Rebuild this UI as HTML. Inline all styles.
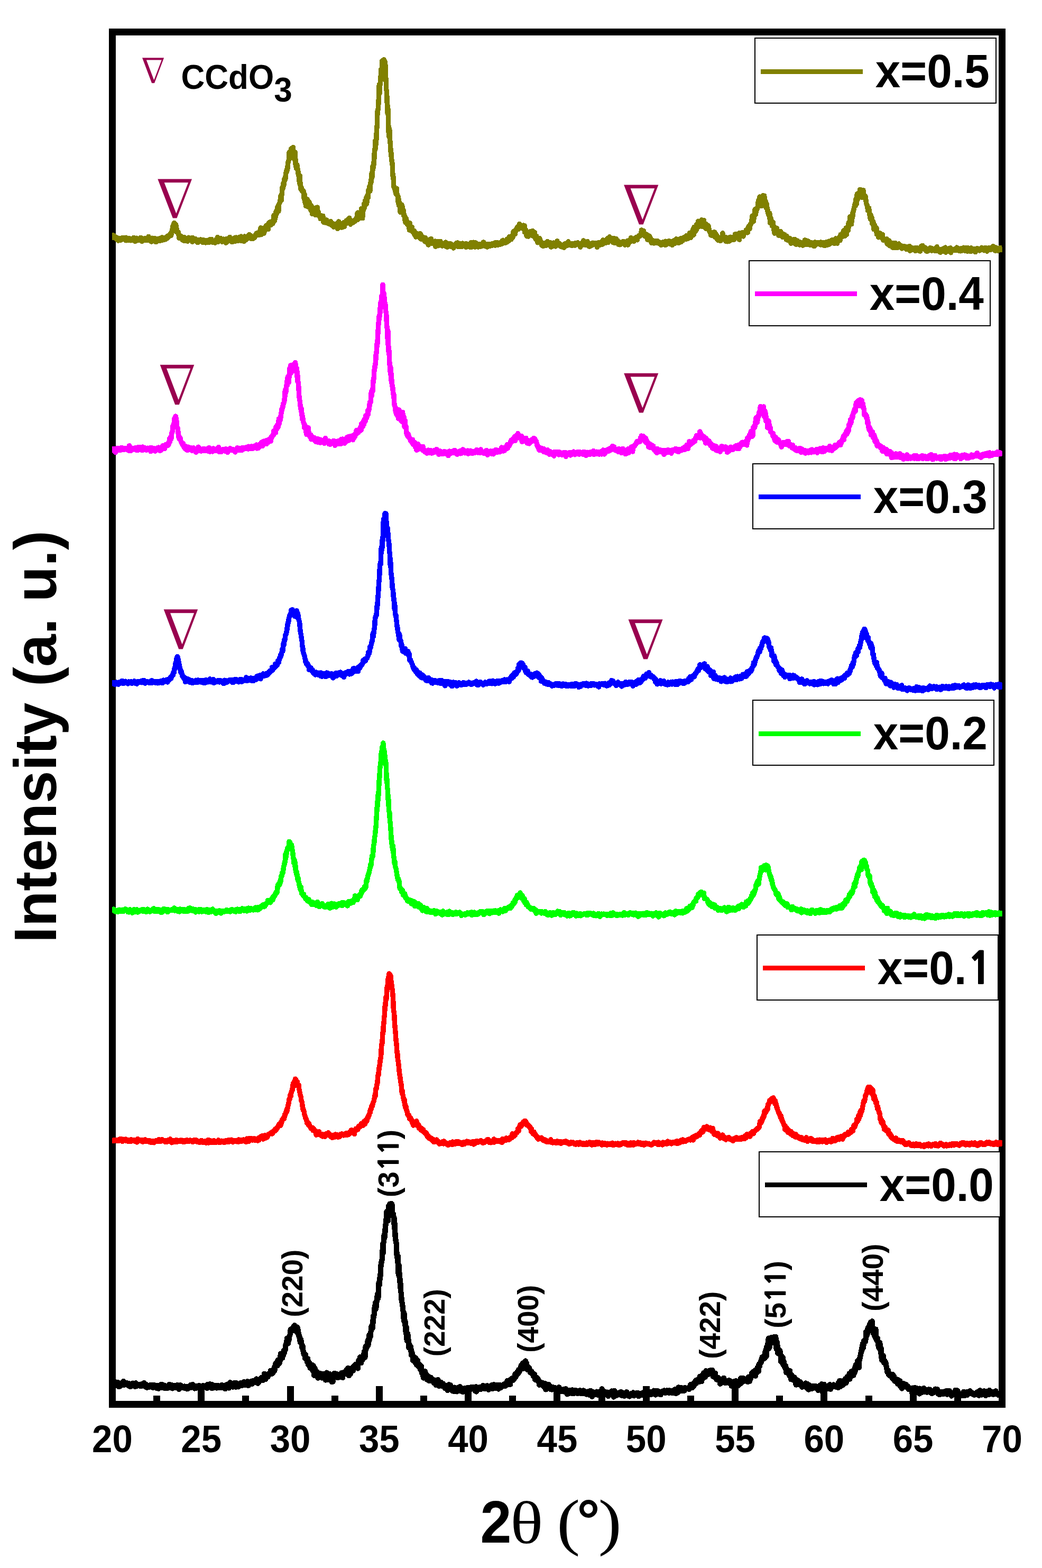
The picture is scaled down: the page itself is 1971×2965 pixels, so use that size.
<!DOCTYPE html>
<html lang="en"><head><meta charset="utf-8"><title>XRD patterns</title>
<style>html,body{margin:0;padding:0;background:#fff}body{width:1971px;height:2965px;overflow:hidden}svg{display:block}text{font-kerning:none}.sb{font-family:"Liberation Sans",sans-serif;font-weight:bold;fill:#000}.n1{font-family:"NanumGothic","Liberation Sans",sans-serif;font-weight:800}.sr{font-family:"Liberation Serif",serif;fill:#000}.nb{font-family:"DejaVu Math TeX Gyre","DejaVu Serif",serif;fill:#99004f}</style></head><body>
<svg width="1971" height="2965" viewBox="0 0 1971 2965">
<rect x="0" y="0" width="1971" height="2965" fill="#fff"/>
<g shape-rendering="crispEdges">
<rect x="212.5" y="60.5" width="1683.0" height="2595.0" fill="none" stroke="#000" stroke-width="13.0"/>
<rect x="290.1" y="2638.5" width="13" height="11.5" fill="#000"/>
<rect x="374.2" y="2621.0" width="13" height="29.0" fill="#000"/>
<rect x="458.4" y="2638.5" width="13" height="11.5" fill="#000"/>
<rect x="542.5" y="2621.0" width="13" height="29.0" fill="#000"/>
<rect x="626.6" y="2638.5" width="13" height="11.5" fill="#000"/>
<rect x="710.8" y="2621.0" width="13" height="29.0" fill="#000"/>
<rect x="794.9" y="2638.5" width="13" height="11.5" fill="#000"/>
<rect x="879.1" y="2621.0" width="13" height="29.0" fill="#000"/>
<rect x="963.2" y="2638.5" width="13" height="11.5" fill="#000"/>
<rect x="1047.4" y="2621.0" width="13" height="29.0" fill="#000"/>
<rect x="1131.5" y="2638.5" width="13" height="11.5" fill="#000"/>
<rect x="1215.7" y="2621.0" width="13" height="29.0" fill="#000"/>
<rect x="1299.8" y="2638.5" width="13" height="11.5" fill="#000"/>
<rect x="1384.0" y="2621.0" width="13" height="29.0" fill="#000"/>
<rect x="1468.1" y="2638.5" width="13" height="11.5" fill="#000"/>
<rect x="1552.3" y="2621.0" width="13" height="29.0" fill="#000"/>
<rect x="1636.5" y="2638.5" width="13" height="11.5" fill="#000"/>
<rect x="1720.6" y="2621.0" width="13" height="29.0" fill="#000"/>
<rect x="1804.8" y="2638.5" width="13" height="11.5" fill="#000"/>
</g>
<clipPath id="cc"><rect x="212" y="60" width="1683.8" height="2600"/></clipPath>
<g clip-path="url(#cc)">
<path d="M212.4 453.1L213.1 449.2L213.7 448.8L214.4 444.8L215.1 449.7L215.8 449.0L216.4 448.5L217.1 450.0L217.8 450.3L218.5 447.8L219.1 448.7L219.8 450.1L220.5 452.9L221.2 453.1L221.8 449.9L222.5 450.3L223.2 453.6L223.8 455.0L224.5 451.8L225.2 450.4L225.9 453.7L226.5 451.2L227.2 453.1L227.9 454.6L228.6 452.8L229.2 451.6L229.9 452.6L230.6 449.9L231.2 450.6L231.9 449.7L232.6 450.3L233.3 449.6L233.9 450.1L234.6 449.7L235.3 450.6L236.0 450.8L236.6 451.7L237.3 454.3L238.0 449.2L238.7 454.8L239.3 452.2L240.0 450.4L240.7 452.4L241.3 452.9L242.0 454.7L242.7 450.9L243.4 453.5L244.0 453.5L244.7 450.3L245.4 451.2L246.1 454.3L246.7 454.3L247.4 454.8L248.1 453.6L248.8 453.2L249.4 452.6L250.1 454.7L250.8 450.8L251.4 452.2L252.1 453.1L252.8 449.3L253.5 454.7L254.1 450.8L254.8 452.2L255.5 456.5L256.2 450.9L256.8 451.5L257.5 455.3L258.2 450.2L258.9 451.2L259.5 452.8L260.2 452.5L260.9 452.6L261.5 452.2L262.2 454.1L262.9 453.7L263.6 453.2L264.2 451.1L264.9 451.3L265.6 449.3L266.3 454.4L266.9 449.7L267.6 454.9L268.3 456.7L268.9 451.3L269.6 452.0L270.3 452.4L271.0 454.7L271.6 451.4L272.3 452.5L273.0 451.5L273.7 451.8L274.3 454.6L275.0 450.4L275.7 452.4L276.4 452.9L277.0 454.2L277.7 450.1L278.4 454.5L279.0 452.8L279.7 453.2L280.4 451.1L281.1 447.4L281.7 449.0L282.4 451.7L283.1 450.3L283.8 450.4L284.4 454.6L285.1 456.2L285.8 452.7L286.5 457.2L287.1 450.2L287.8 450.3L288.5 455.8L289.1 453.2L289.8 454.4L290.5 453.8L291.2 452.5L291.8 454.1L292.5 453.4L293.2 450.7L293.9 454.4L294.5 454.6L295.2 457.7L295.9 451.7L296.6 453.4L297.2 452.0L297.9 452.1L298.6 455.4L299.2 452.9L299.9 451.4L300.6 452.7L301.3 454.0L301.9 450.6L302.6 452.0L303.3 455.4L304.0 453.9L304.6 452.0L305.3 451.0L306.0 451.7L306.6 448.9L307.3 454.0L308.0 452.9L308.7 452.6L309.3 449.7L310.0 450.8L310.7 453.2L311.4 452.4L312.0 450.4L312.7 452.1L313.4 452.6L314.1 448.9L314.7 448.9L315.4 447.8L316.1 446.9L316.7 450.7L317.4 449.7L318.1 448.9L318.8 445.2L319.4 444.9L320.1 446.6L320.8 445.1L321.5 445.5L322.1 442.4L322.8 444.2L323.5 445.4L324.2 442.8L324.8 440.8L325.5 434.3L326.2 434.4L326.8 428.3L327.5 430.2L328.2 424.4L328.9 422.7L329.5 421.6L330.2 426.2L330.9 425.6L331.6 426.8L332.2 424.4L332.9 430.6L333.6 428.0L334.2 438.7L334.9 436.1L335.6 439.1L336.3 440.3L336.9 438.5L337.6 440.8L338.3 445.7L339.0 450.5L339.6 445.5L340.3 447.2L341.0 449.3L341.7 446.0L342.3 446.2L343.0 449.3L343.7 450.2L344.3 449.7L345.0 453.9L345.7 450.5L346.4 451.9L347.0 454.7L347.7 455.3L348.4 448.8L349.1 451.7L349.7 455.2L350.4 450.2L351.1 451.3L351.8 450.5L352.4 450.4L353.1 450.8L353.8 453.4L354.4 455.6L355.1 456.1L355.8 453.1L356.5 449.2L357.1 453.1L357.8 452.7L358.5 454.2L359.2 453.4L359.8 450.3L360.5 454.9L361.2 450.2L361.9 453.0L362.5 455.0L363.2 455.0L363.9 457.3L364.5 449.5L365.2 454.8L365.9 455.4L366.6 453.3L367.2 455.2L367.9 451.7L368.6 455.1L369.3 454.8L369.9 451.8L370.6 452.5L371.3 453.8L371.9 453.3L372.6 457.3L373.3 456.1L374.0 458.6L374.6 458.5L375.3 456.2L376.0 455.5L376.7 453.6L377.3 453.5L378.0 453.3L378.7 455.4L379.4 452.9L380.0 455.0L380.7 455.3L381.4 454.0L382.0 454.6L382.7 457.9L383.4 458.2L384.1 453.5L384.7 454.7L385.4 454.3L386.1 454.6L386.8 458.2L387.4 456.6L388.1 457.8L388.8 458.9L389.5 454.5L390.1 455.0L390.8 455.5L391.5 457.6L392.1 455.5L392.8 457.2L393.5 458.5L394.2 458.6L394.8 457.2L395.5 454.7L396.2 453.0L396.9 458.0L397.5 456.4L398.2 453.3L398.9 454.2L399.5 454.5L400.2 452.4L400.9 456.7L401.6 455.0L402.2 456.4L402.9 458.7L403.6 457.0L404.3 458.0L404.9 457.4L405.6 456.1L406.3 455.8L407.0 459.1L407.6 454.7L408.3 458.0L409.0 452.5L409.6 455.5L410.3 454.2L411.0 452.4L411.7 448.6L412.3 457.6L413.0 452.2L413.7 452.8L414.4 455.1L415.0 454.8L415.7 454.9L416.4 453.4L417.1 450.5L417.7 455.2L418.4 451.7L419.1 454.3L419.7 455.6L420.4 457.3L421.1 454.7L421.8 454.9L422.4 455.2L423.1 452.0L423.8 454.3L424.5 453.9L425.1 453.6L425.8 456.4L426.5 455.4L427.2 459.3L427.8 458.9L428.5 451.6L429.2 455.5L429.8 452.8L430.5 455.8L431.2 454.6L431.9 456.0L432.5 454.5L433.2 455.3L433.9 453.0L434.6 448.3L435.2 451.2L435.9 451.9L436.6 452.7L437.2 451.6L437.9 457.1L438.6 453.1L439.3 456.1L439.9 452.6L440.6 456.9L441.3 450.9L442.0 454.8L442.6 450.6L443.3 454.3L444.0 456.5L444.7 449.2L445.3 450.6L446.0 452.8L446.7 451.7L447.3 449.1L448.0 454.8L448.7 452.7L449.4 455.6L450.0 453.5L450.7 450.2L451.4 451.3L452.1 455.0L452.7 448.3L453.4 449.8L454.1 451.7L454.8 452.3L455.4 451.9L456.1 447.1L456.8 455.6L457.4 451.2L458.1 452.3L458.8 452.9L459.5 452.8L460.1 451.4L460.8 452.8L461.5 456.4L462.2 449.9L462.8 446.9L463.5 453.1L464.2 452.0L464.9 452.1L465.5 453.8L466.2 447.5L466.9 449.1L467.5 449.6L468.2 451.0L468.9 450.4L469.6 446.0L470.2 444.6L470.9 447.0L471.6 443.7L472.3 450.0L472.9 446.4L473.6 446.6L474.3 445.4L474.9 451.4L475.6 448.5L476.3 446.9L477.0 449.5L477.6 447.8L478.3 449.4L479.0 451.1L479.7 447.1L480.3 448.9L481.0 448.5L481.7 449.7L482.4 447.8L483.0 445.7L483.7 443.3L484.4 445.0L485.0 441.1L485.7 445.0L486.4 443.2L487.1 444.2L487.7 441.2L488.4 440.1L489.1 439.5L489.8 444.5L490.4 440.6L491.1 440.2L491.8 435.8L492.5 440.2L493.1 430.9L493.8 443.8L494.5 439.4L495.1 440.0L495.8 436.0L496.5 436.7L497.2 441.1L497.8 438.4L498.5 439.7L499.2 441.4L499.9 439.0L500.5 430.9L501.2 432.7L501.9 431.5L502.5 431.3L503.2 427.0L503.9 426.4L504.6 429.6L505.2 429.5L505.9 432.3L506.6 429.0L507.3 433.4L507.9 422.2L508.6 422.3L509.3 426.2L510.0 423.3L510.6 419.9L511.3 424.7L512.0 425.2L512.6 425.7L513.3 419.9L514.0 421.0L514.7 421.4L515.3 420.3L516.0 422.8L516.7 416.4L517.4 418.0L518.0 407.1L518.7 416.1L519.4 417.9L520.1 410.5L520.7 413.3L521.4 401.7L522.1 405.3L522.7 398.9L523.4 404.1L524.1 402.5L524.8 392.1L525.4 391.2L526.1 389.4L526.8 399.4L527.5 386.6L528.1 385.3L528.8 384.3L529.5 382.1L530.2 377.8L530.8 370.6L531.5 370.9L532.2 378.9L532.8 369.2L533.5 362.6L534.2 354.0L534.9 356.6L535.5 353.2L536.2 346.0L536.9 350.5L537.6 339.3L538.2 338.4L538.9 341.0L539.6 334.9L540.2 337.4L540.9 327.1L541.6 323.2L542.3 325.2L542.9 320.0L543.6 321.8L544.3 313.0L545.0 306.1L545.6 304.9L546.3 302.5L547.0 288.2L547.7 291.8L548.3 288.6L549.0 297.0L549.7 285.6L550.3 295.4L551.0 280.8L551.7 289.1L552.4 297.0L553.0 289.1L553.7 298.5L554.4 278.7L555.1 292.3L555.7 294.1L556.4 293.7L557.1 287.2L557.8 303.4L558.4 288.2L559.1 311.6L559.8 311.1L560.4 318.6L561.1 314.1L561.8 311.5L562.5 317.1L563.1 319.5L563.8 328.0L564.5 325.8L565.2 333.3L565.8 337.6L566.5 346.9L567.2 332.7L567.8 345.3L568.5 354.8L569.2 357.8L569.9 353.7L570.5 357.0L571.2 359.4L571.9 362.0L572.6 360.1L573.2 361.3L573.9 360.8L574.6 366.2L575.3 376.5L575.9 367.3L576.6 378.1L577.3 384.4L577.9 378.1L578.6 389.4L579.3 379.4L580.0 388.4L580.6 381.5L581.3 376.9L582.0 384.2L582.7 391.3L583.3 381.2L584.0 386.7L584.7 381.7L585.4 383.8L586.0 391.1L586.7 389.9L587.4 394.3L588.0 398.1L588.7 388.8L589.4 391.6L590.1 395.0L590.7 404.5L591.4 394.0L592.1 393.5L592.8 397.3L593.4 404.0L594.1 393.6L594.8 395.1L595.5 397.0L596.1 400.4L596.8 406.6L597.5 393.9L598.1 392.8L598.8 400.2L599.5 402.1L600.2 392.1L600.8 398.9L601.5 405.5L602.2 401.0L602.9 406.1L603.5 406.2L604.2 409.2L604.9 409.5L605.5 409.7L606.2 413.7L606.9 407.5L607.6 410.1L608.2 413.8L608.9 408.1L609.6 409.1L610.3 408.4L610.9 408.5L611.6 419.4L612.3 415.1L613.0 420.8L613.6 417.8L614.3 416.2L615.0 415.6L615.6 418.0L616.3 417.5L617.0 421.1L617.7 415.9L618.3 419.8L619.0 421.3L619.7 419.6L620.4 420.1L621.0 422.8L621.7 423.0L622.4 421.1L623.1 421.6L623.7 420.3L624.4 424.1L625.1 422.4L625.7 418.4L626.4 422.7L627.1 426.0L627.8 425.4L628.4 422.0L629.1 427.0L629.8 426.6L630.5 426.5L631.1 429.2L631.8 423.6L632.5 426.6L633.2 424.2L633.8 428.1L634.5 428.8L635.2 426.9L635.8 427.6L636.5 423.0L637.2 427.2L637.9 422.0L638.5 432.3L639.2 429.7L639.9 422.1L640.6 418.9L641.2 430.6L641.9 424.0L642.6 427.9L643.2 422.1L643.9 426.0L644.6 423.7L645.3 427.4L645.9 424.7L646.6 430.1L647.3 423.5L648.0 429.7L648.6 425.9L649.3 427.5L650.0 421.2L650.7 420.4L651.3 428.4L652.0 421.0L652.7 423.1L653.3 422.5L654.0 420.0L654.7 422.5L655.4 416.8L656.0 416.6L656.7 422.0L657.4 415.7L658.1 419.6L658.7 418.8L659.4 421.3L660.1 418.4L660.8 412.2L661.4 416.8L662.1 418.4L662.8 424.1L663.4 421.4L664.1 418.4L664.8 420.7L665.5 417.5L666.1 419.9L666.8 418.2L667.5 421.0L668.2 418.4L668.8 420.6L669.5 417.3L670.2 419.5L670.8 416.4L671.5 418.6L672.2 416.8L672.9 415.0L673.5 413.4L674.2 413.1L674.9 414.9L675.6 404.3L676.2 415.6L676.9 402.1L677.6 408.8L678.3 407.5L678.9 410.5L679.6 407.9L680.3 406.1L680.9 405.8L681.6 408.2L682.3 412.7L683.0 404.6L683.6 394.7L684.3 400.1L685.0 402.4L685.7 412.7L686.3 395.4L687.0 395.3L687.7 397.1L688.4 394.0L689.0 384.8L689.7 391.8L690.4 379.8L691.0 382.1L691.7 387.2L692.4 374.1L693.1 377.0L693.7 384.7L694.4 374.6L695.1 369.2L695.8 369.2L696.4 373.6L697.1 359.3L697.8 360.9L698.5 353.7L699.1 352.1L699.8 361.5L700.5 351.0L701.1 345.3L701.8 345.6L702.5 334.8L703.2 327.2L703.8 335.5L704.5 328.8L705.2 313.5L705.9 317.3L706.5 316.6L707.2 305.3L707.9 299.8L708.5 282.8L709.2 284.0L709.9 266.1L710.6 279.7L711.2 263.1L711.9 264.8L712.6 239.6L713.3 240.8L713.9 211.1L714.6 208.9L715.3 205.7L716.0 194.3L716.6 181.7L717.3 159.8L718.0 176.2L718.6 162.6L719.3 158.7L720.0 151.0L720.7 131.1L721.3 132.5L722.0 148.9L722.7 115.0L723.4 124.5L724.0 114.7L724.7 135.4L725.4 121.8L726.1 112.7L726.7 120.2L727.4 117.8L728.1 116.2L728.7 119.6L729.4 144.9L730.1 150.0L730.8 169.8L731.4 171.0L732.1 189.8L732.8 212.9L733.5 200.4L734.1 211.1L734.8 238.3L735.5 257.9L736.1 243.0L736.8 245.6L737.5 263.6L738.2 270.7L738.8 286.3L739.5 282.7L740.2 296.3L740.9 304.2L741.5 304.2L742.2 311.6L742.9 330.6L743.6 337.4L744.2 335.3L744.9 353.7L745.6 354.1L746.2 354.6L746.9 358.1L747.6 359.2L748.3 363.5L748.9 366.6L749.6 364.9L750.3 356.6L751.0 369.1L751.6 368.8L752.3 370.2L753.0 382.1L753.7 373.2L754.3 388.2L755.0 383.3L755.7 382.3L756.3 385.3L757.0 401.1L757.7 397.3L758.4 389.2L759.0 395.5L759.7 399.2L760.4 387.8L761.1 391.6L761.7 398.6L762.4 398.2L763.1 397.0L763.8 407.9L764.4 405.1L765.1 408.1L765.8 416.4L766.4 410.2L767.1 420.8L767.8 413.3L768.5 413.7L769.1 417.4L769.8 422.8L770.5 424.4L771.2 425.5L771.8 420.5L772.5 423.4L773.2 427.6L773.8 431.9L774.5 435.0L775.2 421.9L775.9 430.1L776.5 429.3L777.2 430.9L777.9 432.5L778.6 429.7L779.2 429.2L779.9 438.1L780.6 438.5L781.3 436.0L781.9 438.2L782.6 437.6L783.3 436.4L783.9 443.6L784.6 440.1L785.3 439.0L786.0 440.9L786.6 448.0L787.3 444.8L788.0 444.6L788.7 444.6L789.3 447.3L790.0 447.4L790.7 442.2L791.4 445.7L792.0 444.8L792.7 447.4L793.4 446.8L794.0 441.6L794.7 450.6L795.4 448.6L796.1 443.6L796.7 452.2L797.4 450.2L798.1 451.9L798.8 451.5L799.4 452.4L800.1 451.2L800.8 448.6L801.5 451.8L802.1 454.3L802.8 454.4L803.5 456.4L804.1 454.9L804.8 449.8L805.5 457.7L806.2 453.9L806.8 452.7L807.5 455.6L808.2 453.3L808.9 458.1L809.5 455.4L810.2 463.0L810.9 457.8L811.5 457.1L812.2 456.8L812.9 452.8L813.6 455.5L814.2 455.4L814.9 456.2L815.6 451.5L816.3 457.2L816.9 460.6L817.6 456.9L818.3 458.2L819.0 459.7L819.6 456.9L820.3 457.9L821.0 461.4L821.6 459.8L822.3 456.8L823.0 456.0L823.7 466.2L824.3 462.2L825.0 457.7L825.7 461.8L826.4 462.8L827.0 461.2L827.7 456.3L828.4 464.8L829.1 461.9L829.7 460.1L830.4 462.2L831.1 460.2L831.7 460.0L832.4 463.0L833.1 456.5L833.8 463.4L834.4 462.2L835.1 463.1L835.8 463.5L836.5 465.0L837.1 464.8L837.8 463.5L838.5 460.7L839.1 463.3L839.8 460.9L840.5 460.0L841.2 463.4L841.8 463.2L842.5 465.3L843.2 458.1L843.9 464.6L844.5 465.1L845.2 464.2L845.9 467.4L846.6 462.2L847.2 464.8L847.9 462.9L848.6 463.3L849.2 460.8L849.9 462.4L850.6 464.2L851.3 463.0L851.9 463.5L852.6 461.1L853.3 466.4L854.0 461.6L854.6 463.5L855.3 465.1L856.0 463.9L856.7 466.4L857.3 465.5L858.0 469.0L858.7 466.5L859.3 465.9L860.0 462.7L860.7 464.8L861.4 465.3L862.0 463.4L862.7 460.1L863.4 460.7L864.1 461.3L864.7 461.9L865.4 459.0L866.1 466.2L866.8 462.1L867.4 462.6L868.1 461.5L868.8 462.4L869.4 466.5L870.1 460.4L870.8 461.5L871.5 460.6L872.1 462.0L872.8 466.7L873.5 462.4L874.2 463.0L874.8 460.1L875.5 463.1L876.2 464.2L876.8 462.6L877.5 462.6L878.2 465.0L878.9 464.3L879.5 463.1L880.2 461.8L880.9 460.6L881.6 467.5L882.2 460.8L882.9 465.4L883.6 463.6L884.3 462.5L884.9 465.9L885.6 462.4L886.3 466.5L886.9 461.6L887.6 464.6L888.3 466.1L889.0 461.3L889.6 467.6L890.3 465.0L891.0 458.6L891.7 466.2L892.3 467.3L893.0 462.6L893.7 462.5L894.4 463.3L895.0 458.2L895.7 462.2L896.4 463.7L897.0 460.6L897.7 464.3L898.4 466.9L899.1 458.6L899.7 459.3L900.4 462.0L901.1 465.0L901.8 464.6L902.4 461.9L903.1 461.4L903.8 462.1L904.4 467.1L905.1 461.4L905.8 462.0L906.5 465.2L907.1 462.7L907.8 461.3L908.5 466.5L909.2 464.5L909.8 462.4L910.5 463.0L911.2 465.6L911.9 462.6L912.5 463.5L913.2 464.4L913.9 464.2L914.5 458.0L915.2 460.7L915.9 461.2L916.6 462.4L917.2 464.3L917.9 465.6L918.6 462.5L919.3 461.4L919.9 464.1L920.6 462.4L921.3 467.1L922.0 464.0L922.6 463.2L923.3 465.0L924.0 461.4L924.6 462.1L925.3 462.6L926.0 464.4L926.7 465.7L927.3 464.5L928.0 464.4L928.7 462.1L929.4 463.2L930.0 461.8L930.7 464.5L931.4 460.6L932.1 461.7L932.7 462.4L933.4 463.6L934.1 460.3L934.7 461.4L935.4 460.1L936.1 459.0L936.8 464.2L937.4 462.8L938.1 458.4L938.8 459.3L939.5 462.4L940.1 459.6L940.8 458.4L941.5 463.3L942.1 459.5L942.8 459.8L943.5 462.1L944.2 459.5L944.8 461.2L945.5 461.3L946.2 462.2L946.9 458.3L947.5 461.6L948.2 459.1L948.9 461.6L949.6 457.4L950.2 455.4L950.9 455.4L951.6 454.2L952.2 457.1L952.9 457.2L953.6 459.6L954.3 457.7L954.9 455.4L955.6 459.4L956.3 455.4L957.0 456.4L957.6 458.7L958.3 457.7L959.0 452.4L959.7 453.6L960.3 457.1L961.0 456.1L961.7 455.0L962.3 455.8L963.0 447.8L963.7 452.4L964.4 448.9L965.0 450.3L965.7 450.1L966.4 451.5L967.1 452.5L967.7 450.5L968.4 448.2L969.1 445.5L969.8 449.1L970.4 445.0L971.1 437.8L971.8 441.7L972.4 442.2L973.1 436.7L973.8 439.2L974.5 442.4L975.1 436.1L975.8 436.1L976.5 435.6L977.2 431.9L977.8 432.7L978.5 429.8L979.2 431.1L979.8 428.2L980.5 433.2L981.2 428.6L981.9 431.2L982.5 423.4L983.2 427.6L983.9 429.7L984.6 430.2L985.2 425.9L985.9 427.9L986.6 428.9L987.3 427.8L987.9 428.1L988.6 432.1L989.3 427.2L989.9 426.1L990.6 431.3L991.3 434.5L992.0 426.9L992.6 439.3L993.3 436.0L994.0 438.5L994.7 435.0L995.3 438.6L996.0 445.6L996.7 446.8L997.4 444.0L998.0 441.9L998.7 442.7L999.4 447.0L1000.0 440.6L1000.7 439.5L1001.4 441.5L1002.1 444.3L1002.7 437.9L1003.4 442.0L1004.1 441.9L1004.8 441.1L1005.4 440.2L1006.1 443.6L1006.8 442.6L1007.4 436.8L1008.1 446.6L1008.8 443.8L1009.5 444.2L1010.1 443.2L1010.8 444.6L1011.5 439.5L1012.2 447.4L1012.8 451.0L1013.5 452.3L1014.2 449.9L1014.9 446.6L1015.5 450.9L1016.2 453.9L1016.9 458.8L1017.5 452.1L1018.2 456.7L1018.9 458.4L1019.6 458.7L1020.2 457.1L1020.9 450.9L1021.6 459.2L1022.3 458.4L1022.9 459.9L1023.6 457.1L1024.3 458.9L1025.0 464.3L1025.6 461.4L1026.3 462.2L1027.0 461.0L1027.6 465.7L1028.3 459.3L1029.0 461.7L1029.7 463.6L1030.3 462.2L1031.0 463.8L1031.7 462.5L1032.4 464.5L1033.0 460.6L1033.7 460.6L1034.4 461.3L1035.1 456.6L1035.7 463.3L1036.4 458.2L1037.1 462.7L1037.7 463.7L1038.4 463.3L1039.1 462.1L1039.8 460.9L1040.4 458.3L1041.1 464.3L1041.8 462.9L1042.5 467.2L1043.1 463.0L1043.8 465.0L1044.5 462.7L1045.1 464.3L1045.8 462.6L1046.5 462.8L1047.2 459.0L1047.8 461.3L1048.5 462.4L1049.2 465.3L1049.9 463.3L1050.5 460.2L1051.2 465.9L1051.9 463.3L1052.6 464.8L1053.2 460.6L1053.9 455.7L1054.6 460.9L1055.2 460.4L1055.9 463.1L1056.6 459.5L1057.3 460.9L1057.9 460.0L1058.6 463.1L1059.3 461.0L1060.0 465.9L1060.6 465.1L1061.3 465.6L1062.0 463.9L1062.7 465.2L1063.3 466.7L1064.0 463.3L1064.7 467.4L1065.3 464.4L1066.0 466.8L1066.7 468.3L1067.4 466.6L1068.0 461.1L1068.7 465.7L1069.4 462.6L1070.1 462.3L1070.7 462.5L1071.4 460.3L1072.1 462.9L1072.7 460.7L1073.4 464.2L1074.1 462.6L1074.8 456.9L1075.4 460.4L1076.1 460.5L1076.8 461.4L1077.5 461.6L1078.1 463.3L1078.8 462.4L1079.5 460.4L1080.2 463.3L1080.8 464.1L1081.5 462.2L1082.2 464.5L1082.8 462.9L1083.5 460.8L1084.2 461.0L1084.9 461.8L1085.5 462.8L1086.2 462.1L1086.9 463.7L1087.6 464.1L1088.2 459.7L1088.9 459.3L1089.6 461.1L1090.3 461.9L1090.9 462.5L1091.6 461.8L1092.3 461.7L1092.9 458.7L1093.6 461.6L1094.3 460.0L1095.0 462.5L1095.6 463.8L1096.3 460.9L1097.0 461.8L1097.7 467.2L1098.3 460.9L1099.0 461.4L1099.7 460.2L1100.4 459.4L1101.0 463.9L1101.7 460.3L1102.4 460.0L1103.0 459.2L1103.7 454.9L1104.4 461.8L1105.1 459.2L1105.7 460.2L1106.4 463.1L1107.1 460.2L1107.8 460.8L1108.4 461.0L1109.1 463.1L1109.8 457.9L1110.4 459.5L1111.1 456.5L1111.8 461.1L1112.5 462.6L1113.1 460.8L1113.8 465.9L1114.5 464.1L1115.2 466.1L1115.8 462.5L1116.5 465.7L1117.2 460.8L1117.9 462.4L1118.5 461.5L1119.2 460.1L1119.9 464.1L1120.5 463.3L1121.2 459.2L1121.9 462.0L1122.6 460.9L1123.2 461.2L1123.9 462.2L1124.6 460.0L1125.3 461.5L1125.9 461.8L1126.6 460.1L1127.3 460.6L1128.0 463.7L1128.6 462.3L1129.3 467.3L1130.0 467.0L1130.6 461.2L1131.3 463.4L1132.0 458.6L1132.7 461.5L1133.3 461.1L1134.0 461.4L1134.7 458.4L1135.4 463.2L1136.0 462.5L1136.7 459.9L1137.4 460.6L1138.1 461.8L1138.7 462.5L1139.4 455.6L1140.1 461.4L1140.7 453.9L1141.4 455.4L1142.1 456.0L1142.8 460.0L1143.4 457.6L1144.1 457.3L1144.8 459.4L1145.5 456.3L1146.1 454.7L1146.8 459.1L1147.5 455.1L1148.1 452.4L1148.8 451.0L1149.5 455.0L1150.2 458.5L1150.8 455.1L1151.5 452.6L1152.2 454.9L1152.9 447.8L1153.5 452.3L1154.2 449.9L1154.9 455.0L1155.6 450.0L1156.2 454.7L1156.9 453.9L1157.6 454.1L1158.2 456.3L1158.9 454.7L1159.6 458.7L1160.3 454.9L1160.9 450.4L1161.6 459.1L1162.3 458.8L1163.0 456.9L1163.6 459.0L1164.3 457.5L1165.0 454.1L1165.7 451.5L1166.3 454.1L1167.0 456.2L1167.7 458.5L1168.3 454.6L1169.0 456.3L1169.7 462.2L1170.4 457.7L1171.0 457.8L1171.7 457.4L1172.4 462.9L1173.1 460.8L1173.7 460.6L1174.4 461.9L1175.1 460.1L1175.7 460.7L1176.4 458.6L1177.1 459.8L1177.8 459.5L1178.4 460.0L1179.1 456.3L1179.8 458.6L1180.5 458.5L1181.1 458.0L1181.8 459.4L1182.5 463.3L1183.2 461.3L1183.8 459.2L1184.5 459.5L1185.2 461.8L1185.8 456.0L1186.5 459.7L1187.2 462.6L1187.9 463.0L1188.5 461.0L1189.2 460.1L1189.9 454.4L1190.6 456.4L1191.2 457.2L1191.9 457.4L1192.6 456.7L1193.3 449.6L1193.9 452.9L1194.6 454.3L1195.3 451.5L1195.9 452.7L1196.6 454.5L1197.3 454.2L1198.0 454.0L1198.6 455.4L1199.3 456.3L1200.0 452.5L1200.7 450.2L1201.3 450.9L1202.0 451.2L1202.7 452.3L1203.4 448.3L1204.0 449.9L1204.7 450.6L1205.4 453.8L1206.0 450.2L1206.7 447.0L1207.4 448.5L1208.1 445.6L1208.7 445.1L1209.4 447.2L1210.1 445.1L1210.8 444.5L1211.4 445.9L1212.1 441.7L1212.8 442.5L1213.4 434.9L1214.1 438.8L1214.8 443.6L1215.5 437.3L1216.1 438.3L1216.8 437.5L1217.5 436.6L1218.2 442.4L1218.8 442.2L1219.5 446.7L1220.2 441.8L1220.9 445.1L1221.5 444.2L1222.2 443.7L1222.9 448.5L1223.5 443.7L1224.2 444.1L1224.9 453.4L1225.6 446.9L1226.2 447.1L1226.9 449.4L1227.6 446.1L1228.3 450.2L1228.9 447.0L1229.6 449.7L1230.3 450.6L1231.0 456.4L1231.6 455.6L1232.3 459.4L1233.0 459.6L1233.6 454.4L1234.3 457.6L1235.0 455.4L1235.7 455.0L1236.3 459.3L1237.0 459.9L1237.7 457.0L1238.4 457.7L1239.0 457.8L1239.7 458.1L1240.4 458.4L1241.0 455.5L1241.7 459.4L1242.4 456.5L1243.1 455.3L1243.7 457.6L1244.4 458.5L1245.1 460.0L1245.8 459.3L1246.4 459.6L1247.1 457.9L1247.8 460.7L1248.5 460.5L1249.1 460.8L1249.8 458.5L1250.5 463.7L1251.1 461.4L1251.8 461.1L1252.5 459.8L1253.2 459.1L1253.8 462.0L1254.5 457.3L1255.2 459.4L1255.9 459.8L1256.5 461.7L1257.2 459.7L1257.9 463.3L1258.6 456.2L1259.2 463.2L1259.9 460.3L1260.6 461.4L1261.2 458.1L1261.9 461.4L1262.6 458.4L1263.3 459.8L1263.9 456.1L1264.6 460.7L1265.3 459.9L1266.0 455.6L1266.6 459.5L1267.3 459.1L1268.0 461.6L1268.7 458.2L1269.3 460.0L1270.0 462.4L1270.7 457.5L1271.3 463.5L1272.0 459.8L1272.7 458.7L1273.4 456.1L1274.0 455.0L1274.7 461.0L1275.4 457.6L1276.1 457.1L1276.7 460.6L1277.4 459.4L1278.1 457.7L1278.7 453.4L1279.4 451.7L1280.1 457.7L1280.8 455.0L1281.4 454.1L1282.1 458.9L1282.8 453.3L1283.5 455.0L1284.1 459.3L1284.8 455.7L1285.5 453.0L1286.2 452.3L1286.8 457.0L1287.5 451.0L1288.2 455.7L1288.8 457.2L1289.5 452.7L1290.2 454.5L1290.9 452.2L1291.5 455.0L1292.2 451.8L1292.9 449.2L1293.6 451.8L1294.2 451.4L1294.9 449.7L1295.6 450.8L1296.3 448.3L1296.9 449.1L1297.6 452.6L1298.3 445.6L1298.9 450.5L1299.6 449.0L1300.3 446.7L1301.0 451.4L1301.6 449.0L1302.3 445.1L1303.0 446.8L1303.7 448.3L1304.3 440.8L1305.0 445.2L1305.7 443.3L1306.4 444.6L1307.0 449.1L1307.7 440.7L1308.4 441.2L1309.0 438.2L1309.7 442.1L1310.4 442.9L1311.1 432.9L1311.7 444.3L1312.4 443.8L1313.1 429.2L1313.8 431.8L1314.4 437.1L1315.1 434.8L1315.8 437.3L1316.4 431.1L1317.1 435.0L1317.8 424.4L1318.5 429.1L1319.1 424.8L1319.8 423.6L1320.5 418.2L1321.2 422.7L1321.8 429.0L1322.5 421.7L1323.2 423.3L1323.9 424.6L1324.5 420.3L1325.2 424.4L1325.9 425.1L1326.5 421.9L1327.2 415.8L1327.9 428.2L1328.6 422.7L1329.2 422.4L1329.9 421.7L1330.6 420.4L1331.3 416.6L1331.9 422.6L1332.6 423.7L1333.3 427.4L1334.0 430.4L1334.6 423.1L1335.3 432.2L1336.0 427.8L1336.6 430.1L1337.3 425.2L1338.0 430.1L1338.7 426.3L1339.3 432.3L1340.0 427.0L1340.7 432.6L1341.4 432.8L1342.0 437.1L1342.7 438.6L1343.4 439.9L1344.0 439.3L1344.7 444.6L1345.4 444.4L1346.1 440.9L1346.7 445.6L1347.4 441.6L1348.1 443.7L1348.8 443.1L1349.4 443.1L1350.1 445.7L1350.8 438.6L1351.5 447.6L1352.1 439.8L1352.8 448.9L1353.5 447.8L1354.1 442.9L1354.8 448.6L1355.5 447.5L1356.2 445.6L1356.8 452.4L1357.5 452.4L1358.2 450.8L1358.9 454.6L1359.5 451.0L1360.2 450.3L1360.9 454.9L1361.6 450.0L1362.2 454.4L1362.9 455.5L1363.6 453.1L1364.2 452.5L1364.9 452.9L1365.6 451.6L1366.3 448.6L1366.9 440.8L1367.6 448.4L1368.3 446.0L1369.0 452.4L1369.6 449.1L1370.3 451.2L1371.0 452.7L1371.7 453.5L1372.3 448.6L1373.0 456.5L1373.7 453.6L1374.3 453.1L1375.0 449.3L1375.7 456.8L1376.4 453.4L1377.0 454.4L1377.7 450.6L1378.4 456.0L1379.1 454.7L1379.7 450.6L1380.4 455.8L1381.1 448.2L1381.7 453.1L1382.4 452.5L1383.1 452.5L1383.8 448.8L1384.4 449.5L1385.1 452.7L1385.8 452.9L1386.5 450.0L1387.1 449.4L1387.8 448.6L1388.5 453.1L1389.2 448.9L1389.8 447.3L1390.5 443.1L1391.2 443.0L1391.8 444.5L1392.5 442.3L1393.2 447.0L1393.9 447.8L1394.5 446.4L1395.2 448.3L1395.9 449.3L1396.6 444.7L1397.2 451.0L1397.9 440.9L1398.6 453.2L1399.3 443.0L1399.9 446.5L1400.6 444.8L1401.3 446.3L1401.9 442.7L1402.6 446.1L1403.3 440.0L1404.0 446.7L1404.6 443.6L1405.3 445.4L1406.0 446.9L1406.7 439.8L1407.3 440.8L1408.0 439.3L1408.7 440.2L1409.3 439.8L1410.0 440.2L1410.7 437.4L1411.4 435.1L1412.0 436.5L1412.7 437.3L1413.4 436.5L1414.1 439.9L1414.7 430.8L1415.4 433.4L1416.1 427.7L1416.8 428.9L1417.4 432.1L1418.1 432.6L1418.8 424.7L1419.4 426.1L1420.1 422.9L1420.8 422.8L1421.5 420.3L1422.1 416.5L1422.8 408.5L1423.5 409.9L1424.2 415.6L1424.8 411.9L1425.5 418.5L1426.2 408.2L1426.9 409.6L1427.5 398.7L1428.2 395.7L1428.9 400.8L1429.5 405.7L1430.2 398.9L1430.9 394.2L1431.6 395.8L1432.2 395.1L1432.9 392.5L1433.6 388.5L1434.3 381.1L1434.9 378.3L1435.6 379.1L1436.3 379.2L1437.0 372.1L1437.6 385.4L1438.3 380.1L1439.0 374.4L1439.6 380.8L1440.3 389.2L1441.0 378.5L1441.7 378.3L1442.3 381.9L1443.0 369.9L1443.7 373.7L1444.4 372.9L1445.0 381.0L1445.7 370.2L1446.4 381.1L1447.0 378.6L1447.7 381.0L1448.4 381.6L1449.1 393.1L1449.7 385.0L1450.4 386.3L1451.1 395.9L1451.8 395.0L1452.4 402.6L1453.1 402.8L1453.8 405.6L1454.5 407.8L1455.1 402.6L1455.8 403.3L1456.5 421.3L1457.1 410.4L1457.8 418.6L1458.5 413.7L1459.2 418.8L1459.8 419.5L1460.5 427.2L1461.2 422.7L1461.9 419.6L1462.5 421.9L1463.2 429.9L1463.9 433.7L1464.6 439.4L1465.2 441.1L1465.9 430.3L1466.6 435.4L1467.2 432.4L1467.9 437.8L1468.6 439.8L1469.3 431.6L1469.9 440.5L1470.6 440.4L1471.3 437.9L1472.0 437.5L1472.6 445.1L1473.3 440.1L1474.0 437.9L1474.7 442.1L1475.3 445.4L1476.0 444.9L1476.7 437.5L1477.3 439.7L1478.0 442.9L1478.7 445.0L1479.4 445.4L1480.0 441.8L1480.7 448.7L1481.4 448.1L1482.1 442.8L1482.7 445.0L1483.4 447.7L1484.1 443.8L1484.7 448.2L1485.4 448.4L1486.1 446.5L1486.8 449.3L1487.4 452.9L1488.1 446.4L1488.8 450.0L1489.5 448.1L1490.1 454.1L1490.8 453.9L1491.5 451.3L1492.2 450.4L1492.8 454.8L1493.5 453.2L1494.2 450.7L1494.8 451.7L1495.5 454.1L1496.2 460.1L1496.9 457.3L1497.5 458.1L1498.2 457.1L1498.9 458.4L1499.6 459.1L1500.2 453.1L1500.9 457.9L1501.6 458.4L1502.3 458.6L1502.9 459.0L1503.6 452.5L1504.3 459.6L1504.9 456.3L1505.6 462.2L1506.3 458.8L1507.0 459.4L1507.6 459.9L1508.3 455.1L1509.0 459.4L1509.7 456.7L1510.3 462.0L1511.0 458.6L1511.7 457.4L1512.3 463.1L1513.0 459.6L1513.7 458.1L1514.4 460.3L1515.0 460.2L1515.7 461.3L1516.4 458.4L1517.1 463.1L1517.7 461.2L1518.4 464.2L1519.1 461.6L1519.8 457.9L1520.4 462.4L1521.1 459.3L1521.8 460.0L1522.4 454.0L1523.1 456.6L1523.8 462.4L1524.5 461.5L1525.1 454.7L1525.8 459.5L1526.5 459.6L1527.2 462.0L1527.8 457.0L1528.5 455.9L1529.2 461.0L1529.9 459.1L1530.5 459.4L1531.2 458.7L1531.9 463.4L1532.5 458.4L1533.2 462.5L1533.9 461.6L1534.6 458.5L1535.2 462.3L1535.9 463.1L1536.6 461.2L1537.3 460.2L1537.9 462.8L1538.6 459.7L1539.3 462.9L1540.0 465.5L1540.6 458.9L1541.3 458.0L1542.0 464.0L1542.6 460.3L1543.3 461.2L1544.0 462.4L1544.7 460.3L1545.3 461.6L1546.0 458.5L1546.7 459.1L1547.4 459.9L1548.0 461.2L1548.7 458.8L1549.4 460.6L1550.0 461.3L1550.7 461.1L1551.4 459.6L1552.1 462.9L1552.7 458.0L1553.4 462.3L1554.1 462.3L1554.8 462.3L1555.4 459.3L1556.1 463.3L1556.8 462.5L1557.5 459.0L1558.1 461.1L1558.8 458.7L1559.5 462.6L1560.1 464.7L1560.8 463.2L1561.5 458.2L1562.2 458.0L1562.8 459.9L1563.5 460.0L1564.2 462.2L1564.9 459.6L1565.5 463.1L1566.2 458.9L1566.9 462.6L1567.6 456.2L1568.2 458.3L1568.9 459.7L1569.6 461.6L1570.2 460.6L1570.9 456.7L1571.6 455.1L1572.3 457.8L1572.9 457.1L1573.6 456.0L1574.3 456.7L1575.0 453.3L1575.6 458.3L1576.3 459.8L1577.0 455.1L1577.6 455.1L1578.3 460.4L1579.0 459.6L1579.7 454.2L1580.3 454.2L1581.0 451.0L1581.7 456.9L1582.4 455.7L1583.0 454.7L1583.7 460.3L1584.4 452.6L1585.1 451.8L1585.7 451.8L1586.4 449.6L1587.1 452.5L1587.7 448.2L1588.4 448.5L1589.1 454.4L1589.8 445.6L1590.4 443.2L1591.1 446.8L1591.8 444.0L1592.5 443.5L1593.1 445.7L1593.8 447.2L1594.5 439.1L1595.2 442.7L1595.8 436.0L1596.5 445.1L1597.2 438.1L1597.8 443.0L1598.5 446.1L1599.2 443.8L1599.9 439.9L1600.5 430.8L1601.2 443.4L1601.9 434.3L1602.6 437.4L1603.2 431.2L1603.9 430.2L1604.6 435.0L1605.3 420.6L1605.9 420.1L1606.6 421.7L1607.3 425.2L1607.9 409.7L1608.6 423.2L1609.3 415.0L1610.0 417.8L1610.6 423.7L1611.3 412.6L1612.0 412.4L1612.7 410.9L1613.3 401.0L1614.0 400.3L1614.7 396.5L1615.3 395.9L1616.0 391.3L1616.7 387.9L1617.4 385.1L1618.0 389.3L1618.7 376.9L1619.4 381.6L1620.1 385.9L1620.7 370.3L1621.4 366.7L1622.1 377.5L1622.8 368.4L1623.4 367.3L1624.1 373.1L1624.8 370.2L1625.4 364.1L1626.1 365.2L1626.8 358.4L1627.5 362.5L1628.1 364.7L1628.8 367.6L1629.5 367.4L1630.2 373.3L1630.8 363.4L1631.5 369.1L1632.2 365.6L1632.9 359.6L1633.5 367.7L1634.2 369.5L1634.9 372.9L1635.5 373.9L1636.2 374.0L1636.9 370.9L1637.6 376.0L1638.2 381.1L1638.9 384.9L1639.6 387.8L1640.3 387.9L1640.9 391.8L1641.6 398.3L1642.3 395.4L1643.0 394.7L1643.6 393.2L1644.3 402.2L1645.0 407.0L1645.6 404.6L1646.3 414.5L1647.0 406.3L1647.7 410.5L1648.3 414.1L1649.0 411.5L1649.7 422.9L1650.4 418.1L1651.0 418.7L1651.7 418.4L1652.4 430.9L1653.0 433.8L1653.7 426.4L1654.4 425.8L1655.1 430.0L1655.7 432.1L1656.4 430.8L1657.1 435.1L1657.8 430.8L1658.4 443.1L1659.1 439.1L1659.8 443.2L1660.5 440.2L1661.1 445.9L1661.8 448.8L1662.5 441.2L1663.1 443.8L1663.8 446.4L1664.5 444.5L1665.2 441.0L1665.8 443.0L1666.5 447.3L1667.2 447.7L1667.9 445.9L1668.5 450.0L1669.2 443.3L1669.9 450.8L1670.6 454.0L1671.2 454.5L1671.9 451.3L1672.6 453.9L1673.2 454.6L1673.9 454.5L1674.6 453.4L1675.3 452.5L1675.9 455.4L1676.6 454.1L1677.3 452.0L1678.0 461.2L1678.6 454.4L1679.3 456.9L1680.0 457.2L1680.6 454.6L1681.3 460.4L1682.0 455.4L1682.7 464.8L1683.3 457.1L1684.0 459.0L1684.7 460.8L1685.4 461.1L1686.0 461.7L1686.7 464.7L1687.4 465.4L1688.1 468.0L1688.7 459.3L1689.4 464.9L1690.1 463.9L1690.7 461.6L1691.4 459.3L1692.1 468.7L1692.8 466.1L1693.4 459.4L1694.1 468.0L1694.8 466.2L1695.5 466.2L1696.1 468.0L1696.8 464.8L1697.5 465.8L1698.2 468.1L1698.8 462.7L1699.5 461.9L1700.2 461.0L1700.8 466.7L1701.5 462.7L1702.2 464.7L1702.9 464.7L1703.5 467.6L1704.2 467.3L1704.9 464.7L1705.6 469.9L1706.2 467.7L1706.9 467.5L1707.6 465.6L1708.3 465.6L1708.9 465.7L1709.6 466.2L1710.3 467.1L1710.9 467.2L1711.6 466.0L1712.3 466.7L1713.0 469.1L1713.6 470.8L1714.3 471.5L1715.0 469.3L1715.7 467.0L1716.3 470.6L1717.0 471.0L1717.7 471.0L1718.3 472.0L1719.0 469.8L1719.7 471.0L1720.4 465.6L1721.0 474.3L1721.7 470.4L1722.4 469.6L1723.1 471.4L1723.7 469.8L1724.4 468.8L1725.1 472.3L1725.8 470.7L1726.4 469.1L1727.1 472.0L1727.8 471.5L1728.4 471.4L1729.1 470.1L1729.8 473.1L1730.5 469.0L1731.1 472.9L1731.8 474.6L1732.5 469.8L1733.2 472.5L1733.8 468.5L1734.5 472.4L1735.2 468.7L1735.9 469.3L1736.5 472.3L1737.2 473.9L1737.9 472.4L1738.5 470.6L1739.2 469.2L1739.9 470.5L1740.6 475.1L1741.2 472.5L1741.9 466.2L1742.6 466.9L1743.3 464.9L1743.9 468.6L1744.6 466.8L1745.3 464.4L1745.9 467.6L1746.6 467.5L1747.3 466.8L1748.0 468.7L1748.6 471.6L1749.3 468.3L1750.0 469.9L1750.7 468.3L1751.3 470.8L1752.0 474.9L1752.7 473.6L1753.4 471.2L1754.0 471.5L1754.7 475.2L1755.4 472.0L1756.0 470.9L1756.7 473.9L1757.4 470.6L1758.1 469.8L1758.7 472.1L1759.4 468.6L1760.1 470.3L1760.8 469.6L1761.4 471.3L1762.1 470.5L1762.8 474.1L1763.5 471.6L1764.1 470.2L1764.8 471.5L1765.5 470.3L1766.1 471.7L1766.8 472.7L1767.5 472.6L1768.2 474.4L1768.8 472.5L1769.5 469.6L1770.2 471.1L1770.9 468.1L1771.5 474.2L1772.2 466.6L1772.9 470.4L1773.6 472.2L1774.2 470.0L1774.9 471.6L1775.6 475.0L1776.2 471.1L1776.9 475.6L1777.6 473.4L1778.3 473.1L1778.9 477.4L1779.6 474.7L1780.3 473.5L1781.0 471.8L1781.6 472.3L1782.3 471.4L1783.0 475.2L1783.6 472.0L1784.3 470.2L1785.0 470.7L1785.7 472.6L1786.3 469.7L1787.0 470.6L1787.7 469.1L1788.4 468.0L1789.0 477.1L1789.7 472.3L1790.4 476.3L1791.1 473.9L1791.7 473.3L1792.4 470.3L1793.1 472.1L1793.7 472.2L1794.4 469.9L1795.1 472.9L1795.8 473.8L1796.4 472.5L1797.1 472.2L1797.8 468.8L1798.5 477.8L1799.1 474.2L1799.8 470.7L1800.5 470.9L1801.2 471.9L1801.8 471.2L1802.5 473.1L1803.2 471.3L1803.8 473.2L1804.5 472.1L1805.2 472.5L1805.9 470.8L1806.5 473.4L1807.2 473.4L1807.9 471.0L1808.6 469.1L1809.2 472.0L1809.9 468.0L1810.6 469.6L1811.3 471.8L1811.9 473.4L1812.6 470.7L1813.3 472.2L1813.9 474.4L1814.6 470.2L1815.3 471.5L1816.0 472.9L1816.6 474.8L1817.3 469.8L1818.0 469.6L1818.7 473.6L1819.3 474.0L1820.0 470.4L1820.7 471.8L1821.3 473.6L1822.0 471.4L1822.7 468.2L1823.4 472.3L1824.0 473.9L1824.7 469.7L1825.4 474.7L1826.1 471.6L1826.7 468.7L1827.4 472.4L1828.1 469.0L1828.8 474.5L1829.4 472.7L1830.1 475.2L1830.8 468.6L1831.4 472.1L1832.1 474.7L1832.8 474.3L1833.5 473.3L1834.1 472.9L1834.8 473.5L1835.5 474.3L1836.2 475.7L1836.8 468.7L1837.5 469.9L1838.2 470.5L1838.9 471.9L1839.5 472.3L1840.2 471.0L1840.9 471.7L1841.5 473.5L1842.2 474.5L1842.9 470.8L1843.6 471.8L1844.2 472.3L1844.9 476.7L1845.6 470.4L1846.3 471.9L1846.9 471.1L1847.6 470.0L1848.3 472.5L1848.9 470.6L1849.6 470.0L1850.3 471.3L1851.0 471.9L1851.6 470.4L1852.3 470.4L1853.0 473.9L1853.7 470.6L1854.3 473.3L1855.0 471.1L1855.7 469.8L1856.4 469.2L1857.0 468.2L1857.7 472.7L1858.4 472.6L1859.0 470.5L1859.7 469.3L1860.4 470.4L1861.1 471.7L1861.7 473.8L1862.4 470.3L1863.1 468.5L1863.8 472.4L1864.4 471.6L1865.1 471.0L1865.8 469.1L1866.5 473.7L1867.1 475.2L1867.8 470.4L1868.5 469.2L1869.1 470.7L1869.8 470.9L1870.5 472.4L1871.2 471.7L1871.8 468.5L1872.5 472.4L1873.2 472.4L1873.9 470.6L1874.5 471.7L1875.2 468.1L1875.9 469.5L1876.6 467.2L1877.2 469.5L1877.9 470.9L1878.6 465.7L1879.2 469.6L1879.9 471.0L1880.6 470.2L1881.3 472.9L1881.9 469.9L1882.6 474.2L1883.3 470.4L1884.0 468.1L1884.6 470.2L1885.3 469.3L1886.0 472.9L1886.6 473.8L1887.3 474.1L1888.0 472.4L1888.7 470.8L1889.3 470.0L1890.0 469.0L1890.7 472.4L1891.4 468.9L1892.0 470.9L1892.7 471.9L1893.4 472.3L1894.1 468.8L1894.7 468.9L1895.4 468.7" fill="none" stroke="#808000" stroke-width="9.5" stroke-linejoin="round" stroke-linecap="butt" shape-rendering="crispEdges"/>
<path d="M212.4 851.8L213.1 849.9L213.7 851.5L214.4 848.3L215.1 852.4L215.8 848.5L216.4 851.0L217.1 850.7L217.8 849.4L218.5 855.6L219.1 849.5L219.8 851.1L220.5 851.9L221.2 847.7L221.8 851.8L222.5 849.0L223.2 850.8L223.8 847.4L224.5 847.3L225.2 851.3L225.9 850.4L226.5 850.1L227.2 851.3L227.9 851.3L228.6 848.6L229.2 846.9L229.9 847.8L230.6 847.7L231.2 846.9L231.9 849.5L232.6 849.7L233.3 850.4L233.9 850.8L234.6 849.6L235.3 849.5L236.0 849.8L236.6 847.7L237.3 848.0L238.0 849.0L238.7 847.6L239.3 847.6L240.0 848.4L240.7 850.8L241.3 849.2L242.0 848.1L242.7 847.6L243.4 848.3L244.0 852.1L244.7 842.7L245.4 848.9L246.1 848.4L246.7 849.6L247.4 846.4L248.1 852.3L248.8 850.7L249.4 849.0L250.1 849.4L250.8 847.8L251.4 848.9L252.1 848.2L252.8 849.8L253.5 848.6L254.1 847.7L254.8 849.1L255.5 849.2L256.2 849.0L256.8 846.4L257.5 851.2L258.2 847.6L258.9 847.9L259.5 849.3L260.2 850.1L260.9 851.3L261.5 845.5L262.2 850.6L262.9 850.7L263.6 847.1L264.2 847.5L264.9 847.0L265.6 847.0L266.3 845.8L266.9 845.3L267.6 848.0L268.3 849.0L268.9 851.8L269.6 846.9L270.3 845.1L271.0 849.1L271.6 848.1L272.3 849.5L273.0 848.2L273.7 846.8L274.3 848.0L275.0 850.8L275.7 850.1L276.4 848.1L277.0 851.4L277.7 847.4L278.4 848.9L279.0 850.1L279.7 847.2L280.4 847.4L281.1 849.4L281.7 849.1L282.4 848.7L283.1 848.0L283.8 846.9L284.4 847.2L285.1 853.7L285.8 847.1L286.5 850.7L287.1 847.0L287.8 850.6L288.5 850.6L289.1 849.7L289.8 848.2L290.5 847.4L291.2 852.0L291.8 848.1L292.5 848.2L293.2 853.0L293.9 852.7L294.5 849.9L295.2 849.3L295.9 848.4L296.6 850.2L297.2 848.7L297.9 846.7L298.6 847.9L299.2 849.7L299.9 846.2L300.6 847.2L301.3 849.1L301.9 852.0L302.6 849.1L303.3 848.6L304.0 851.9L304.6 846.0L305.3 846.4L306.0 849.3L306.6 849.7L307.3 848.5L308.0 842.5L308.7 848.8L309.3 848.4L310.0 846.8L310.7 847.5L311.4 848.6L312.0 845.4L312.7 842.9L313.4 840.6L314.1 844.0L314.7 841.8L315.4 841.5L316.1 839.7L316.7 842.1L317.4 842.4L318.1 841.0L318.8 836.6L319.4 840.1L320.1 837.5L320.8 829.4L321.5 835.3L322.1 826.9L322.8 827.2L323.5 830.7L324.2 827.1L324.8 820.5L325.5 816.3L326.2 816.4L326.8 805.9L327.5 809.0L328.2 802.9L328.9 802.8L329.5 796.7L330.2 790.6L330.9 793.4L331.6 790.5L332.2 787.0L332.9 789.8L333.6 793.4L334.2 801.0L334.9 807.7L335.6 809.5L336.3 810.2L336.9 816.8L337.6 823.3L338.3 827.9L339.0 825.0L339.6 830.8L340.3 831.1L341.0 828.3L341.7 832.0L342.3 835.0L343.0 836.2L343.7 837.5L344.3 838.0L345.0 841.1L345.7 839.1L346.4 838.6L347.0 844.1L347.7 842.5L348.4 846.1L349.1 843.3L349.7 848.1L350.4 843.3L351.1 843.7L351.8 848.0L352.4 850.6L353.1 846.0L353.8 851.3L354.4 851.7L355.1 850.6L355.8 848.9L356.5 845.2L357.1 846.4L357.8 847.8L358.5 850.3L359.2 849.1L359.8 848.5L360.5 850.1L361.2 847.0L361.9 850.9L362.5 848.4L363.2 852.4L363.9 850.2L364.5 848.3L365.2 848.7L365.9 846.7L366.6 849.9L367.2 847.7L367.9 849.4L368.6 851.8L369.3 850.5L369.9 851.0L370.6 855.2L371.3 851.9L371.9 852.9L372.6 850.7L373.3 849.0L374.0 851.5L374.6 848.8L375.3 845.2L376.0 851.6L376.7 851.0L377.3 848.4L378.0 852.7L378.7 850.2L379.4 849.6L380.0 849.0L380.7 853.1L381.4 850.6L382.0 850.8L382.7 851.0L383.4 850.5L384.1 848.9L384.7 850.5L385.4 850.0L386.1 852.6L386.8 848.8L387.4 852.4L388.1 850.3L388.8 849.9L389.5 851.2L390.1 851.6L390.8 851.6L391.5 852.3L392.1 851.4L392.8 848.0L393.5 849.4L394.2 853.5L394.8 850.4L395.5 846.6L396.2 851.3L396.9 854.2L397.5 853.3L398.2 851.4L398.9 851.7L399.5 852.4L400.2 850.8L400.9 850.2L401.6 853.9L402.2 850.1L402.9 852.6L403.6 848.0L404.3 849.6L404.9 849.2L405.6 852.1L406.3 850.3L407.0 850.2L407.6 849.5L408.3 851.1L409.0 852.1L409.6 848.8L410.3 850.6L411.0 849.2L411.7 848.1L412.3 850.1L413.0 852.2L413.7 845.6L414.4 852.1L415.0 854.5L415.7 851.3L416.4 853.2L417.1 853.7L417.7 852.9L418.4 852.3L419.1 854.1L419.7 853.7L420.4 851.8L421.1 852.5L421.8 849.5L422.4 850.7L423.1 851.0L423.8 850.6L424.5 849.4L425.1 852.9L425.8 851.4L426.5 852.2L427.2 848.6L427.8 850.1L428.5 849.7L429.2 850.6L429.8 854.0L430.5 855.4L431.2 850.9L431.9 851.0L432.5 849.8L433.2 848.9L433.9 851.4L434.6 848.9L435.2 847.6L435.9 850.7L436.6 849.3L437.2 850.3L437.9 850.3L438.6 851.6L439.3 851.0L439.9 851.6L440.6 849.8L441.3 849.9L442.0 851.0L442.6 851.0L443.3 851.7L444.0 851.6L444.7 854.9L445.3 850.3L446.0 851.2L446.7 850.2L447.3 852.1L448.0 847.9L448.7 846.8L449.4 851.3L450.0 850.4L450.7 849.3L451.4 847.4L452.1 851.1L452.7 849.4L453.4 847.3L454.1 847.5L454.8 847.3L455.4 851.3L456.1 848.5L456.8 847.1L457.4 848.0L458.1 851.3L458.8 850.2L459.5 847.5L460.1 846.4L460.8 847.4L461.5 848.9L462.2 847.6L462.8 847.3L463.5 848.5L464.2 847.5L464.9 846.5L465.5 845.9L466.2 846.7L466.9 846.9L467.5 848.4L468.2 847.7L468.9 845.5L469.6 849.0L470.2 844.2L470.9 848.4L471.6 844.3L472.3 846.1L472.9 848.5L473.6 848.5L474.3 844.9L474.9 846.5L475.6 843.8L476.3 845.4L477.0 846.5L477.6 844.3L478.3 848.3L479.0 846.1L479.7 846.2L480.3 843.4L481.0 844.0L481.7 844.6L482.4 845.7L483.0 845.3L483.7 842.9L484.4 841.9L485.0 841.1L485.7 847.9L486.4 845.6L487.1 846.1L487.7 842.7L488.4 847.4L489.1 844.3L489.8 843.9L490.4 842.3L491.1 840.2L491.8 844.5L492.5 842.6L493.1 841.9L493.8 838.3L494.5 836.2L495.1 837.6L495.8 841.6L496.5 843.5L497.2 837.3L497.8 837.5L498.5 834.2L499.2 835.0L499.9 837.7L500.5 834.8L501.2 836.6L501.9 839.1L502.5 835.6L503.2 833.1L503.9 839.7L504.6 837.1L505.2 836.0L505.9 836.2L506.6 834.8L507.3 836.8L507.9 831.3L508.6 834.1L509.3 830.4L510.0 832.4L510.6 833.3L511.3 830.3L512.0 834.4L512.6 828.7L513.3 825.9L514.0 827.4L514.7 825.9L515.3 824.8L516.0 822.8L516.7 821.1L517.4 822.9L518.0 814.6L518.7 820.6L519.4 815.9L520.1 816.4L520.7 813.0L521.4 818.2L522.1 806.8L522.7 808.0L523.4 809.1L524.1 811.1L524.8 803.1L525.4 807.4L526.1 807.6L526.8 799.3L527.5 791.8L528.1 801.1L528.8 795.6L529.5 793.2L530.2 794.5L530.8 790.2L531.5 782.0L532.2 781.4L532.8 774.0L533.5 776.0L534.2 771.0L534.9 770.6L535.5 763.2L536.2 764.2L536.9 761.9L537.6 759.9L538.2 754.2L538.9 740.7L539.6 747.9L540.2 735.4L540.9 741.1L541.6 731.6L542.3 727.4L542.9 720.2L543.6 728.5L544.3 712.4L545.0 720.0L545.6 718.1L546.3 723.0L547.0 711.0L547.7 701.2L548.3 695.3L549.0 695.4L549.7 690.8L550.3 705.5L551.0 699.6L551.7 691.5L552.4 701.0L553.0 697.1L553.7 701.7L554.4 697.6L555.1 689.1L555.7 695.2L556.4 698.6L557.1 693.5L557.8 693.1L558.4 685.8L559.1 689.5L559.8 694.3L560.4 700.3L561.1 696.1L561.8 701.6L562.5 720.2L563.1 711.0L563.8 722.0L564.5 725.9L565.2 737.7L565.8 748.3L566.5 754.5L567.2 758.4L567.8 767.2L568.5 766.7L569.2 774.1L569.9 772.0L570.5 784.3L571.2 782.1L571.9 792.9L572.6 787.6L573.2 795.4L573.9 798.0L574.6 800.4L575.3 801.2L575.9 809.0L576.6 807.4L577.3 804.8L577.9 809.1L578.6 816.7L579.3 812.1L580.0 821.7L580.6 816.2L581.3 812.7L582.0 820.9L582.7 816.3L583.3 809.0L584.0 820.0L584.7 817.4L585.4 822.5L586.0 825.0L586.7 826.5L587.4 825.0L588.0 822.4L588.7 830.8L589.4 828.4L590.1 828.8L590.7 825.3L591.4 827.8L592.1 830.4L592.8 830.0L593.4 831.4L594.1 829.1L594.8 827.8L595.5 833.1L596.1 832.2L596.8 835.1L597.5 835.5L598.1 831.6L598.8 830.8L599.5 834.5L600.2 833.6L600.8 829.6L601.5 836.3L602.2 833.1L602.9 832.6L603.5 830.4L604.2 833.0L604.9 835.4L605.5 834.9L606.2 837.3L606.9 836.3L607.6 831.9L608.2 833.7L608.9 833.4L609.6 832.7L610.3 833.0L610.9 832.7L611.6 833.0L612.3 835.2L613.0 836.4L613.6 838.4L614.3 833.8L615.0 834.5L615.6 828.7L616.3 835.3L617.0 836.2L617.7 834.7L618.3 836.3L619.0 834.7L619.7 835.2L620.4 834.0L621.0 834.9L621.7 833.3L622.4 839.9L623.1 839.0L623.7 837.1L624.4 836.6L625.1 840.2L625.7 838.1L626.4 835.5L627.1 837.5L627.8 838.4L628.4 838.5L629.1 838.7L629.8 834.2L630.5 836.2L631.1 833.4L631.8 838.6L632.5 836.9L633.2 834.9L633.8 842.5L634.5 840.2L635.2 835.8L635.8 838.4L636.5 834.7L637.2 837.9L637.9 837.3L638.5 834.2L639.2 836.8L639.9 839.8L640.6 838.3L641.2 833.5L641.9 837.3L642.6 838.1L643.2 836.9L643.9 838.9L644.6 834.6L645.3 830.4L645.9 838.9L646.6 832.2L647.3 834.0L648.0 830.1L648.6 835.3L649.3 830.5L650.0 833.1L650.7 832.9L651.3 836.7L652.0 838.2L652.7 835.7L653.3 836.5L654.0 834.5L654.7 834.1L655.4 831.0L656.0 833.8L656.7 826.8L657.4 833.4L658.1 831.0L658.7 830.3L659.4 833.1L660.1 825.2L660.8 827.2L661.4 830.7L662.1 828.1L662.8 830.1L663.4 827.5L664.1 824.6L664.8 828.5L665.5 827.6L666.1 828.3L666.8 828.1L667.5 831.8L668.2 823.3L668.8 823.7L669.5 828.6L670.2 821.7L670.8 823.7L671.5 825.7L672.2 822.8L672.9 822.1L673.5 819.6L674.2 813.6L674.9 819.9L675.6 819.4L676.2 817.5L676.9 814.5L677.6 816.1L678.3 817.4L678.9 814.0L679.6 813.2L680.3 810.7L680.9 814.5L681.6 808.0L682.3 809.0L683.0 813.4L683.6 801.1L684.3 803.7L685.0 808.0L685.7 803.0L686.3 806.7L687.0 797.4L687.7 796.8L688.4 802.3L689.0 793.2L689.7 795.0L690.4 792.2L691.0 796.5L691.7 785.8L692.4 788.8L693.1 790.4L693.7 790.4L694.4 784.3L695.1 784.7L695.8 776.3L696.4 783.7L697.1 774.6L697.8 772.6L698.5 773.5L699.1 763.9L699.8 759.9L700.5 760.4L701.1 760.6L701.8 745.5L702.5 740.9L703.2 748.0L703.8 739.5L704.5 735.2L705.2 739.2L705.9 721.9L706.5 715.9L707.2 716.5L707.9 699.5L708.5 699.3L709.2 692.3L709.9 689.4L710.6 684.5L711.2 670.4L711.9 668.2L712.6 660.2L713.3 648.0L713.9 650.5L714.6 634.8L715.3 622.4L716.0 610.5L716.6 609.1L717.3 596.3L718.0 599.2L718.6 596.2L719.3 580.0L720.0 572.8L720.7 570.0L721.3 573.8L722.0 559.5L722.7 565.4L723.4 553.6L724.0 538.4L724.7 566.9L725.4 561.1L726.1 554.8L726.7 560.8L727.4 565.6L728.1 582.0L728.7 574.2L729.4 585.8L730.1 589.9L730.8 595.8L731.4 611.6L732.1 620.1L732.8 622.5L733.5 650.7L734.1 626.8L734.8 663.5L735.5 656.8L736.1 668.2L736.8 685.0L737.5 694.4L738.2 703.7L738.8 694.3L739.5 718.9L740.2 707.4L740.9 719.5L741.5 729.8L742.2 728.8L742.9 733.7L743.6 743.8L744.2 745.5L744.9 745.7L745.6 761.3L746.2 766.1L746.9 768.3L747.6 771.3L748.3 777.9L748.9 780.0L749.6 783.2L750.3 781.8L751.0 773.8L751.6 785.9L752.3 786.8L753.0 788.5L753.7 791.5L754.3 780.7L755.0 775.1L755.7 790.9L756.3 790.1L757.0 787.8L757.7 783.2L758.4 795.2L759.0 787.2L759.7 797.0L760.4 790.3L761.1 793.7L761.7 779.5L762.4 792.7L763.1 788.6L763.8 787.7L764.4 793.3L765.1 807.4L765.8 797.1L766.4 795.8L767.1 809.5L767.8 805.6L768.5 811.6L769.1 820.5L769.8 821.3L770.5 822.3L771.2 825.5L771.8 823.3L772.5 820.9L773.2 825.5L773.8 825.7L774.5 828.1L775.2 828.9L775.9 831.5L776.5 833.7L777.2 830.1L777.9 831.7L778.6 834.2L779.2 837.6L779.9 834.4L780.6 831.3L781.3 840.3L781.9 835.4L782.6 838.6L783.3 838.9L783.9 842.2L784.6 836.5L785.3 844.9L786.0 841.2L786.6 845.9L787.3 842.9L788.0 851.4L788.7 845.2L789.3 844.5L790.0 843.8L790.7 839.7L791.4 849.7L792.0 842.4L792.7 846.5L793.4 848.3L794.0 848.2L794.7 846.6L795.4 845.3L796.1 848.7L796.7 847.4L797.4 844.4L798.1 846.2L798.8 850.4L799.4 851.5L800.1 844.4L800.8 851.0L801.5 850.2L802.1 853.1L802.8 851.6L803.5 851.3L804.1 854.4L804.8 855.1L805.5 855.6L806.2 853.2L806.8 854.4L807.5 857.2L808.2 853.1L808.9 851.6L809.5 854.1L810.2 851.1L810.9 855.2L811.5 851.5L812.2 852.8L812.9 856.2L813.6 852.1L814.2 853.6L814.9 855.4L815.6 855.6L816.3 852.1L816.9 857.1L817.6 854.8L818.3 855.2L819.0 856.1L819.6 856.0L820.3 854.5L821.0 855.6L821.6 854.3L822.3 851.2L823.0 851.2L823.7 852.1L824.3 851.9L825.0 853.3L825.7 849.4L826.4 854.1L827.0 855.5L827.7 855.7L828.4 854.4L829.1 852.3L829.7 859.2L830.4 853.7L831.1 854.5L831.7 855.7L832.4 852.8L833.1 853.3L833.8 856.2L834.4 858.4L835.1 855.6L835.8 857.3L836.5 857.5L837.1 856.9L837.8 854.6L838.5 858.3L839.1 855.6L839.8 853.9L840.5 853.5L841.2 857.5L841.8 855.9L842.5 854.5L843.2 858.1L843.9 857.8L844.5 856.6L845.2 854.3L845.9 856.6L846.6 857.4L847.2 854.9L847.9 861.6L848.6 856.3L849.2 854.3L849.9 853.1L850.6 858.2L851.3 855.7L851.9 855.8L852.6 854.4L853.3 857.2L854.0 856.6L854.6 853.9L855.3 855.0L856.0 853.2L856.7 856.2L857.3 855.0L858.0 856.5L858.7 855.7L859.3 856.2L860.0 851.4L860.7 853.8L861.4 853.4L862.0 853.1L862.7 854.6L863.4 858.3L864.1 858.0L864.7 859.2L865.4 857.4L866.1 857.1L866.8 855.3L867.4 855.1L868.1 854.8L868.8 853.8L869.4 852.8L870.1 855.5L870.8 857.8L871.5 853.4L872.1 853.0L872.8 857.3L873.5 855.0L874.2 852.0L874.8 854.5L875.5 850.1L876.2 854.8L876.8 853.4L877.5 851.7L878.2 854.3L878.9 853.1L879.5 856.8L880.2 853.1L880.9 855.4L881.6 852.8L882.2 855.3L882.9 855.8L883.6 856.0L884.3 856.3L884.9 852.2L885.6 858.0L886.3 857.8L886.9 854.7L887.6 855.5L888.3 857.0L889.0 852.2L889.6 854.9L890.3 856.1L891.0 856.3L891.7 856.3L892.3 853.2L893.0 857.2L893.7 857.2L894.4 856.4L895.0 854.5L895.7 853.7L896.4 855.4L897.0 856.3L897.7 853.4L898.4 854.4L899.1 856.0L899.7 855.6L900.4 853.0L901.1 850.8L901.8 853.9L902.4 851.1L903.1 851.6L903.8 855.9L904.4 855.2L905.1 852.5L905.8 854.3L906.5 854.5L907.1 855.2L907.8 856.3L908.5 855.0L909.2 850.0L909.8 855.1L910.5 854.1L911.2 854.6L911.9 854.9L912.5 854.6L913.2 854.2L913.9 856.8L914.5 856.8L915.2 857.5L915.9 856.5L916.6 856.5L917.2 855.8L917.9 852.8L918.6 857.0L919.3 854.2L919.9 854.4L920.6 851.6L921.3 853.4L922.0 860.3L922.6 854.1L923.3 856.6L924.0 857.6L924.6 856.7L925.3 854.9L926.0 855.7L926.7 856.7L927.3 854.9L928.0 853.0L928.7 853.2L929.4 858.0L930.0 856.2L930.7 856.1L931.4 856.5L932.1 855.2L932.7 852.7L933.4 858.8L934.1 853.6L934.7 854.7L935.4 854.2L936.1 856.2L936.8 853.2L937.4 850.5L938.1 850.3L938.8 851.3L939.5 854.8L940.1 855.7L940.8 852.8L941.5 852.4L942.1 854.7L942.8 853.7L943.5 852.1L944.2 851.3L944.8 853.4L945.5 854.8L946.2 854.3L946.9 853.0L947.5 849.8L948.2 853.0L948.9 846.0L949.6 850.4L950.2 851.4L950.9 847.9L951.6 846.9L952.2 852.9L952.9 848.9L953.6 848.9L954.3 852.3L954.9 850.0L955.6 845.8L956.3 848.1L957.0 846.7L957.6 848.4L958.3 848.5L959.0 841.0L959.7 842.8L960.3 847.8L961.0 844.1L961.7 843.6L962.3 841.5L963.0 843.6L963.7 839.9L964.4 840.5L965.0 839.2L965.7 836.4L966.4 833.4L967.1 832.0L967.7 833.2L968.4 832.7L969.1 834.8L969.8 833.1L970.4 832.8L971.1 829.1L971.8 829.7L972.4 828.5L973.1 826.4L973.8 825.1L974.5 833.6L975.1 827.8L975.8 829.8L976.5 826.7L977.2 822.7L977.8 828.9L978.5 825.6L979.2 823.3L979.8 819.6L980.5 823.0L981.2 825.5L981.9 827.1L982.5 825.1L983.2 824.8L983.9 825.4L984.6 828.9L985.2 826.0L985.9 829.7L986.6 824.4L987.3 835.5L987.9 834.3L988.6 831.3L989.3 830.3L989.9 833.4L990.6 830.9L991.3 829.5L992.0 829.8L992.6 830.1L993.3 828.5L994.0 834.6L994.7 828.3L995.3 834.4L996.0 834.8L996.7 831.6L997.4 838.1L998.0 832.1L998.7 835.7L999.4 835.3L1000.0 836.4L1000.7 835.7L1001.4 838.9L1002.1 835.5L1002.7 834.7L1003.4 834.5L1004.1 834.9L1004.8 831.9L1005.4 835.0L1006.1 833.1L1006.8 833.1L1007.4 831.4L1008.1 830.9L1008.8 830.6L1009.5 828.5L1010.1 830.8L1010.8 833.0L1011.5 829.4L1012.2 831.6L1012.8 834.4L1013.5 833.1L1014.2 834.0L1014.9 836.8L1015.5 838.5L1016.2 843.5L1016.9 841.7L1017.5 845.2L1018.2 844.4L1018.9 848.4L1019.6 850.2L1020.2 851.4L1020.9 846.4L1021.6 850.1L1022.3 848.1L1022.9 851.0L1023.6 850.9L1024.3 848.6L1025.0 848.1L1025.6 848.8L1026.3 849.9L1027.0 850.8L1027.6 852.8L1028.3 854.2L1029.0 848.9L1029.7 851.9L1030.3 851.7L1031.0 852.6L1031.7 850.9L1032.4 855.4L1033.0 855.7L1033.7 854.2L1034.4 856.2L1035.1 854.3L1035.7 850.7L1036.4 854.2L1037.1 855.0L1037.7 853.5L1038.4 855.7L1039.1 859.4L1039.8 856.1L1040.4 855.7L1041.1 854.0L1041.8 856.4L1042.5 856.6L1043.1 858.9L1043.8 855.8L1044.5 855.3L1045.1 855.4L1045.8 859.4L1046.5 858.8L1047.2 855.5L1047.8 862.1L1048.5 854.6L1049.2 855.0L1049.9 858.0L1050.5 856.1L1051.2 855.2L1051.9 854.7L1052.6 856.8L1053.2 856.6L1053.9 856.5L1054.6 854.4L1055.2 858.3L1055.9 854.7L1056.6 857.6L1057.3 859.9L1057.9 854.6L1058.6 856.5L1059.3 857.7L1060.0 858.7L1060.6 858.0L1061.3 856.2L1062.0 859.1L1062.7 857.8L1063.3 860.3L1064.0 857.2L1064.7 856.2L1065.3 856.5L1066.0 857.2L1066.7 858.8L1067.4 859.6L1068.0 855.8L1068.7 858.6L1069.4 855.4L1070.1 863.5L1070.7 858.3L1071.4 857.9L1072.1 856.8L1072.7 859.3L1073.4 860.1L1074.1 856.6L1074.8 857.2L1075.4 857.1L1076.1 858.0L1076.8 855.8L1077.5 858.1L1078.1 857.3L1078.8 860.9L1079.5 855.9L1080.2 857.8L1080.8 858.6L1081.5 859.6L1082.2 858.7L1082.8 857.0L1083.5 857.6L1084.2 858.7L1084.9 854.2L1085.5 858.4L1086.2 855.4L1086.9 858.3L1087.6 859.8L1088.2 855.4L1088.9 855.8L1089.6 856.7L1090.3 856.0L1090.9 858.7L1091.6 858.6L1092.3 854.7L1092.9 854.5L1093.6 856.5L1094.3 855.7L1095.0 858.2L1095.6 859.1L1096.3 856.4L1097.0 854.6L1097.7 855.4L1098.3 857.0L1099.0 856.7L1099.7 856.3L1100.4 855.8L1101.0 858.1L1101.7 856.6L1102.4 857.6L1103.0 859.2L1103.7 854.3L1104.4 857.3L1105.1 856.2L1105.7 855.9L1106.4 857.3L1107.1 855.3L1107.8 855.2L1108.4 861.7L1109.1 860.0L1109.8 858.6L1110.4 855.2L1111.1 856.1L1111.8 855.7L1112.5 857.0L1113.1 857.9L1113.8 858.7L1114.5 855.2L1115.2 859.2L1115.8 857.6L1116.5 859.0L1117.2 857.0L1117.9 858.6L1118.5 854.7L1119.2 858.5L1119.9 856.1L1120.5 856.2L1121.2 857.3L1121.9 856.7L1122.6 852.4L1123.2 859.5L1123.9 855.9L1124.6 856.6L1125.3 856.4L1125.9 855.6L1126.6 856.2L1127.3 856.7L1128.0 855.8L1128.6 854.2L1129.3 855.3L1130.0 858.7L1130.6 856.7L1131.3 855.8L1132.0 858.5L1132.7 854.8L1133.3 859.1L1134.0 856.7L1134.7 855.6L1135.4 854.3L1136.0 854.5L1136.7 854.3L1137.4 857.8L1138.1 858.9L1138.7 856.6L1139.4 854.1L1140.1 855.2L1140.7 851.0L1141.4 852.9L1142.1 854.5L1142.8 858.9L1143.4 856.2L1144.1 857.5L1144.8 856.6L1145.5 853.5L1146.1 854.7L1146.8 852.8L1147.5 851.1L1148.1 853.9L1148.8 853.6L1149.5 853.6L1150.2 853.5L1150.8 850.0L1151.5 848.9L1152.2 849.9L1152.9 849.4L1153.5 851.9L1154.2 849.3L1154.9 847.2L1155.6 849.4L1156.2 848.7L1156.9 846.0L1157.6 850.1L1158.2 843.4L1158.9 847.0L1159.6 849.3L1160.3 847.4L1160.9 848.9L1161.6 845.0L1162.3 849.7L1163.0 851.1L1163.6 848.7L1164.3 851.2L1165.0 850.5L1165.7 851.2L1166.3 852.2L1167.0 851.3L1167.7 852.5L1168.3 850.6L1169.0 854.1L1169.7 851.7L1170.4 848.4L1171.0 849.3L1171.7 852.4L1172.4 854.3L1173.1 850.9L1173.7 852.6L1174.4 851.4L1175.1 856.3L1175.7 854.1L1176.4 853.0L1177.1 856.0L1177.8 848.4L1178.4 854.1L1179.1 850.6L1179.8 853.8L1180.5 852.3L1181.1 851.4L1181.8 853.6L1182.5 853.2L1183.2 858.7L1183.8 853.5L1184.5 858.0L1185.2 855.6L1185.8 852.9L1186.5 849.8L1187.2 854.2L1187.9 853.1L1188.5 848.7L1189.2 856.0L1189.9 851.7L1190.6 850.6L1191.2 853.1L1191.9 852.2L1192.6 851.0L1193.3 850.0L1193.9 850.4L1194.6 844.9L1195.3 847.6L1195.9 847.6L1196.6 853.9L1197.3 848.3L1198.0 845.9L1198.6 845.7L1199.3 842.9L1200.0 844.3L1200.7 841.0L1201.3 842.0L1202.0 841.2L1202.7 839.5L1203.4 838.6L1204.0 837.0L1204.7 834.9L1205.4 837.0L1206.0 835.8L1206.7 835.3L1207.4 835.1L1208.1 835.2L1208.7 833.7L1209.4 832.3L1210.1 835.1L1210.8 835.0L1211.4 827.6L1212.1 829.2L1212.8 828.3L1213.4 824.1L1214.1 827.9L1214.8 825.1L1215.5 831.1L1216.1 824.6L1216.8 829.2L1217.5 825.9L1218.2 826.2L1218.8 832.3L1219.5 831.4L1220.2 835.2L1220.9 834.9L1221.5 828.6L1222.2 837.6L1222.9 831.8L1223.5 835.1L1224.2 834.7L1224.9 838.7L1225.6 838.9L1226.2 839.0L1226.9 845.3L1227.6 838.9L1228.3 839.9L1228.9 839.1L1229.6 846.6L1230.3 840.8L1231.0 843.6L1231.6 843.2L1232.3 844.0L1233.0 845.2L1233.6 841.9L1234.3 844.3L1235.0 847.3L1235.7 843.4L1236.3 848.8L1237.0 846.8L1237.7 851.1L1238.4 849.5L1239.0 848.7L1239.7 848.4L1240.4 854.7L1241.0 852.6L1241.7 849.2L1242.4 856.5L1243.1 849.3L1243.7 848.8L1244.4 853.8L1245.1 850.8L1245.8 854.2L1246.4 850.7L1247.1 854.2L1247.8 853.1L1248.5 853.4L1249.1 854.4L1249.8 851.2L1250.5 851.5L1251.1 852.5L1251.8 851.9L1252.5 852.6L1253.2 853.8L1253.8 852.0L1254.5 851.9L1255.2 855.3L1255.9 859.4L1256.5 855.2L1257.2 855.2L1257.9 852.7L1258.6 851.8L1259.2 854.7L1259.9 856.7L1260.6 853.2L1261.2 854.7L1261.9 852.6L1262.6 851.1L1263.3 851.9L1263.9 850.4L1264.6 853.1L1265.3 851.4L1266.0 855.3L1266.6 854.6L1267.3 851.5L1268.0 852.7L1268.7 851.6L1269.3 854.9L1270.0 857.1L1270.7 853.0L1271.3 850.9L1272.0 850.7L1272.7 851.9L1273.4 852.6L1274.0 851.7L1274.7 851.1L1275.4 851.6L1276.1 851.6L1276.7 850.6L1277.4 848.6L1278.1 850.4L1278.7 848.5L1279.4 851.4L1280.1 851.4L1280.8 853.7L1281.4 852.5L1282.1 850.0L1282.8 850.1L1283.5 854.7L1284.1 849.5L1284.8 852.5L1285.5 851.4L1286.2 851.4L1286.8 852.7L1287.5 850.1L1288.2 851.6L1288.8 849.9L1289.5 851.4L1290.2 849.5L1290.9 848.0L1291.5 850.2L1292.2 849.9L1292.9 849.0L1293.6 846.5L1294.2 850.5L1294.9 845.4L1295.6 847.7L1296.3 846.3L1296.9 848.9L1297.6 847.8L1298.3 848.8L1298.9 841.5L1299.6 845.1L1300.3 841.5L1301.0 845.3L1301.6 848.6L1302.3 841.0L1303.0 843.6L1303.7 834.8L1304.3 839.2L1305.0 841.5L1305.7 837.4L1306.4 837.6L1307.0 837.4L1307.7 839.7L1308.4 836.8L1309.0 836.2L1309.7 834.9L1310.4 836.9L1311.1 837.0L1311.7 832.7L1312.4 834.1L1313.1 831.8L1313.8 832.4L1314.4 834.8L1315.1 830.0L1315.8 828.8L1316.4 826.7L1317.1 825.0L1317.8 823.3L1318.5 825.7L1319.1 823.9L1319.8 826.7L1320.5 823.4L1321.2 826.9L1321.8 823.9L1322.5 821.3L1323.2 821.9L1323.9 816.1L1324.5 828.1L1325.2 823.7L1325.9 820.2L1326.5 826.1L1327.2 822.8L1327.9 823.4L1328.6 825.7L1329.2 824.0L1329.9 829.3L1330.6 826.2L1331.3 825.2L1331.9 829.8L1332.6 827.1L1333.3 829.1L1334.0 834.1L1334.6 837.9L1335.3 828.1L1336.0 829.8L1336.6 832.3L1337.3 836.8L1338.0 833.8L1338.7 837.5L1339.3 833.9L1340.0 837.4L1340.7 835.2L1341.4 833.9L1342.0 836.9L1342.7 841.1L1343.4 840.7L1344.0 843.0L1344.7 842.1L1345.4 839.1L1346.1 843.2L1346.7 844.4L1347.4 847.5L1348.1 847.2L1348.8 845.9L1349.4 844.7L1350.1 848.6L1350.8 842.7L1351.5 843.9L1352.1 843.1L1352.8 845.4L1353.5 847.9L1354.1 843.8L1354.8 851.5L1355.5 845.2L1356.2 851.9L1356.8 847.3L1357.5 850.7L1358.2 847.5L1358.9 850.1L1359.5 848.9L1360.2 853.1L1360.9 848.1L1361.6 852.1L1362.2 854.4L1362.9 850.1L1363.6 849.2L1364.2 851.0L1364.9 843.7L1365.6 848.7L1366.3 849.0L1366.9 847.5L1367.6 844.6L1368.3 847.5L1369.0 848.7L1369.6 849.0L1370.3 846.3L1371.0 846.9L1371.7 846.6L1372.3 844.9L1373.0 846.4L1373.7 846.4L1374.3 848.8L1375.0 849.9L1375.7 855.3L1376.4 852.3L1377.0 851.7L1377.7 849.3L1378.4 853.8L1379.1 853.1L1379.7 849.1L1380.4 847.9L1381.1 848.5L1381.7 848.4L1382.4 845.2L1383.1 848.2L1383.8 847.7L1384.4 850.3L1385.1 848.7L1385.8 847.3L1386.5 850.2L1387.1 848.8L1387.8 847.2L1388.5 845.5L1389.2 844.6L1389.8 847.9L1390.5 847.1L1391.2 845.6L1391.8 846.6L1392.5 842.6L1393.2 848.0L1393.9 846.0L1394.5 848.0L1395.2 842.1L1395.9 844.5L1396.6 842.1L1397.2 845.8L1397.9 848.4L1398.6 842.3L1399.3 842.9L1399.9 845.1L1400.6 839.2L1401.3 841.6L1401.9 840.1L1402.6 840.8L1403.3 837.4L1404.0 836.2L1404.6 836.2L1405.3 839.7L1406.0 839.2L1406.7 840.6L1407.3 839.7L1408.0 840.1L1408.7 838.5L1409.3 837.3L1410.0 837.6L1410.7 834.6L1411.4 835.2L1412.0 833.9L1412.7 841.9L1413.4 828.7L1414.1 833.8L1414.7 832.5L1415.4 830.6L1416.1 828.9L1416.8 826.4L1417.4 822.4L1418.1 824.3L1418.8 823.2L1419.4 818.8L1420.1 822.3L1420.8 815.3L1421.5 822.5L1422.1 825.6L1422.8 817.2L1423.5 818.0L1424.2 823.3L1424.8 808.2L1425.5 810.5L1426.2 805.9L1426.9 804.9L1427.5 808.4L1428.2 805.1L1428.9 797.3L1429.5 801.0L1430.2 789.6L1430.9 791.3L1431.6 797.2L1432.2 799.0L1432.9 794.2L1433.6 791.2L1434.3 785.3L1434.9 788.0L1435.6 780.1L1436.3 784.5L1437.0 777.6L1437.6 778.7L1438.3 768.8L1439.0 773.9L1439.6 777.2L1440.3 769.2L1441.0 776.1L1441.7 777.4L1442.3 774.4L1443.0 773.4L1443.7 775.3L1444.4 769.0L1445.0 775.5L1445.7 787.9L1446.4 776.8L1447.0 782.4L1447.7 778.8L1448.4 795.9L1449.1 787.9L1449.7 792.6L1450.4 797.2L1451.1 796.0L1451.8 808.8L1452.4 802.5L1453.1 801.1L1453.8 795.9L1454.5 805.5L1455.1 803.0L1455.8 810.8L1456.5 809.0L1457.1 808.6L1457.8 816.9L1458.5 816.5L1459.2 817.1L1459.8 817.6L1460.5 819.4L1461.2 819.3L1461.9 824.7L1462.5 819.3L1463.2 824.8L1463.9 823.8L1464.6 830.1L1465.2 829.3L1465.9 833.4L1466.6 828.4L1467.2 826.7L1467.9 835.2L1468.6 832.8L1469.3 829.6L1469.9 834.7L1470.6 836.5L1471.3 832.1L1472.0 834.0L1472.6 831.4L1473.3 833.2L1474.0 836.6L1474.7 836.8L1475.3 837.2L1476.0 836.7L1476.7 841.0L1477.3 840.3L1478.0 845.2L1478.7 838.3L1479.4 838.1L1480.0 839.6L1480.7 837.3L1481.4 836.3L1482.1 836.5L1482.7 837.3L1483.4 837.5L1484.1 836.3L1484.7 839.4L1485.4 840.1L1486.1 839.7L1486.8 838.8L1487.4 836.6L1488.1 837.5L1488.8 834.8L1489.5 841.1L1490.1 841.3L1490.8 841.7L1491.5 834.8L1492.2 842.5L1492.8 838.7L1493.5 839.9L1494.2 843.6L1494.8 841.6L1495.5 840.6L1496.2 843.5L1496.9 842.1L1497.5 843.3L1498.2 847.1L1498.9 841.8L1499.6 841.8L1500.2 847.6L1500.9 847.2L1501.6 847.2L1502.3 848.9L1502.9 846.1L1503.6 850.1L1504.3 846.5L1504.9 846.9L1505.6 851.3L1506.3 849.3L1507.0 849.6L1507.6 848.2L1508.3 852.7L1509.0 852.7L1509.7 848.7L1510.3 851.3L1511.0 851.2L1511.7 850.6L1512.3 847.7L1513.0 853.4L1513.7 852.6L1514.4 848.0L1515.0 849.6L1515.7 855.6L1516.4 853.6L1517.1 849.3L1517.7 851.6L1518.4 852.5L1519.1 852.0L1519.8 852.3L1520.4 852.2L1521.1 853.2L1521.8 855.9L1522.4 851.7L1523.1 857.0L1523.8 855.0L1524.5 853.5L1525.1 856.4L1525.8 855.2L1526.5 853.6L1527.2 854.0L1527.8 852.8L1528.5 854.2L1529.2 856.0L1529.9 855.7L1530.5 852.2L1531.2 852.9L1531.9 854.0L1532.5 852.1L1533.2 851.0L1533.9 855.8L1534.6 850.5L1535.2 852.4L1535.9 850.1L1536.6 853.1L1537.3 854.7L1537.9 852.7L1538.6 853.3L1539.3 854.8L1540.0 853.8L1540.6 853.0L1541.3 854.4L1542.0 854.0L1542.6 851.8L1543.3 854.3L1544.0 849.9L1544.7 851.0L1545.3 855.1L1546.0 856.3L1546.7 853.0L1547.4 850.1L1548.0 851.6L1548.7 853.5L1549.4 853.5L1550.0 852.6L1550.7 852.8L1551.4 848.1L1552.1 849.6L1552.7 849.7L1553.4 850.4L1554.1 854.5L1554.8 852.7L1555.4 849.7L1556.1 851.3L1556.8 846.8L1557.5 854.0L1558.1 851.3L1558.8 853.1L1559.5 853.1L1560.1 848.2L1560.8 852.6L1561.5 849.9L1562.2 849.6L1562.8 847.3L1563.5 848.9L1564.2 850.3L1564.9 850.4L1565.5 848.6L1566.2 847.7L1566.9 850.1L1567.6 846.4L1568.2 847.4L1568.9 851.4L1569.6 843.5L1570.2 844.2L1570.9 845.1L1571.6 846.7L1572.3 846.9L1572.9 848.4L1573.6 852.2L1574.3 850.9L1575.0 846.0L1575.6 848.7L1576.3 846.9L1577.0 844.7L1577.6 847.2L1578.3 848.0L1579.0 841.9L1579.7 847.1L1580.3 842.4L1581.0 843.5L1581.7 844.9L1582.4 841.8L1583.0 842.4L1583.7 842.4L1584.4 842.9L1585.1 840.4L1585.7 840.0L1586.4 838.1L1587.1 840.7L1587.7 840.7L1588.4 836.0L1589.1 839.2L1589.8 841.7L1590.4 838.2L1591.1 838.7L1591.8 836.2L1592.5 833.5L1593.1 831.2L1593.8 830.5L1594.5 829.8L1595.2 825.3L1595.8 825.3L1596.5 831.6L1597.2 822.4L1597.8 822.0L1598.5 820.3L1599.2 823.4L1599.9 820.4L1600.5 821.3L1601.2 814.7L1601.9 820.8L1602.6 814.5L1603.2 811.6L1603.9 816.8L1604.6 815.5L1605.3 814.3L1605.9 802.9L1606.6 806.0L1607.3 805.0L1607.9 801.1L1608.6 793.5L1609.3 800.8L1610.0 798.2L1610.6 795.1L1611.3 788.8L1612.0 787.0L1612.7 790.2L1613.3 782.8L1614.0 782.4L1614.7 780.2L1615.3 777.0L1616.0 779.2L1616.7 773.0L1617.4 776.4L1618.0 778.0L1618.7 770.0L1619.4 761.6L1620.1 763.4L1620.7 767.5L1621.4 767.7L1622.1 758.7L1622.8 762.3L1623.4 761.4L1624.1 757.4L1624.8 762.7L1625.4 760.8L1626.1 767.2L1626.8 755.8L1627.5 762.6L1628.1 758.2L1628.8 760.7L1629.5 756.7L1630.2 757.1L1630.8 765.6L1631.5 768.5L1632.2 763.5L1632.9 771.4L1633.5 769.2L1634.2 774.0L1634.9 784.7L1635.5 783.5L1636.2 783.0L1636.9 786.2L1637.6 783.7L1638.2 786.7L1638.9 790.7L1639.6 786.9L1640.3 791.2L1640.9 800.8L1641.6 796.2L1642.3 799.7L1643.0 807.3L1643.6 811.6L1644.3 807.7L1645.0 814.3L1645.6 809.2L1646.3 810.9L1647.0 815.9L1647.7 822.9L1648.3 816.5L1649.0 820.3L1649.7 821.8L1650.4 816.5L1651.0 820.7L1651.7 827.4L1652.4 828.3L1653.0 827.5L1653.7 822.5L1654.4 831.7L1655.1 834.7L1655.7 829.0L1656.4 836.0L1657.1 834.4L1657.8 832.8L1658.4 840.8L1659.1 843.2L1659.8 837.7L1660.5 842.9L1661.1 840.7L1661.8 841.7L1662.5 841.2L1663.1 842.2L1663.8 842.3L1664.5 845.7L1665.2 843.3L1665.8 847.4L1666.5 845.1L1667.2 844.6L1667.9 847.8L1668.5 852.6L1669.2 851.1L1669.9 853.8L1670.6 846.3L1671.2 849.4L1671.9 849.1L1672.6 851.8L1673.2 852.3L1673.9 848.7L1674.6 851.9L1675.3 854.0L1675.9 856.0L1676.6 849.4L1677.3 858.3L1678.0 853.6L1678.6 856.7L1679.3 852.3L1680.0 855.7L1680.6 858.0L1681.3 858.6L1682.0 856.2L1682.7 853.3L1683.3 859.6L1684.0 857.3L1684.7 858.5L1685.4 861.9L1686.0 855.9L1686.7 865.4L1687.4 857.4L1688.1 862.7L1688.7 864.5L1689.4 860.7L1690.1 864.8L1690.7 858.5L1691.4 862.6L1692.1 861.4L1692.8 859.3L1693.4 861.9L1694.1 858.4L1694.8 857.9L1695.5 864.3L1696.1 863.3L1696.8 859.3L1697.5 858.3L1698.2 860.5L1698.8 860.2L1699.5 864.3L1700.2 860.7L1700.8 863.0L1701.5 860.3L1702.2 857.9L1702.9 865.4L1703.5 862.1L1704.2 859.5L1704.9 862.4L1705.6 865.0L1706.2 861.0L1706.9 860.7L1707.6 861.2L1708.3 865.6L1708.9 868.4L1709.6 861.9L1710.3 862.9L1710.9 863.4L1711.6 864.0L1712.3 866.7L1713.0 864.4L1713.6 862.6L1714.3 864.6L1715.0 862.9L1715.7 859.9L1716.3 862.3L1717.0 867.6L1717.7 864.5L1718.3 863.6L1719.0 865.5L1719.7 863.5L1720.4 864.5L1721.0 864.0L1721.7 864.7L1722.4 867.0L1723.1 865.3L1723.7 865.2L1724.4 865.5L1725.1 864.3L1725.8 865.2L1726.4 865.9L1727.1 864.1L1727.8 862.1L1728.4 865.8L1729.1 861.7L1729.8 867.0L1730.5 866.4L1731.1 864.1L1731.8 864.9L1732.5 865.4L1733.2 861.5L1733.8 867.1L1734.5 867.5L1735.2 864.1L1735.9 864.7L1736.5 863.6L1737.2 865.3L1737.9 867.2L1738.5 866.9L1739.2 863.5L1739.9 864.6L1740.6 866.3L1741.2 863.4L1741.9 863.0L1742.6 863.9L1743.3 865.5L1743.9 866.0L1744.6 861.4L1745.3 864.7L1745.9 867.5L1746.6 864.3L1747.3 865.4L1748.0 865.4L1748.6 865.1L1749.3 864.6L1750.0 862.4L1750.7 866.8L1751.3 866.0L1752.0 865.2L1752.7 867.2L1753.4 865.0L1754.0 864.0L1754.7 864.0L1755.4 865.8L1756.0 867.4L1756.7 866.3L1757.4 863.8L1758.1 861.1L1758.7 862.6L1759.4 862.1L1760.1 865.5L1760.8 866.9L1761.4 859.3L1762.1 863.2L1762.8 865.4L1763.5 868.8L1764.1 866.3L1764.8 866.3L1765.5 868.4L1766.1 864.9L1766.8 864.6L1767.5 863.2L1768.2 865.5L1768.8 861.3L1769.5 864.6L1770.2 864.1L1770.9 864.9L1771.5 865.5L1772.2 866.9L1772.9 866.3L1773.6 864.7L1774.2 866.7L1774.9 864.8L1775.6 864.4L1776.2 865.6L1776.9 863.8L1777.6 867.8L1778.3 866.6L1778.9 865.8L1779.6 867.7L1780.3 868.6L1781.0 863.9L1781.6 864.9L1782.3 866.4L1783.0 863.8L1783.6 866.0L1784.3 863.9L1785.0 864.8L1785.7 866.1L1786.3 865.6L1787.0 862.3L1787.7 864.9L1788.4 868.3L1789.0 864.8L1789.7 864.8L1790.4 866.0L1791.1 866.4L1791.7 863.2L1792.4 867.3L1793.1 865.8L1793.7 865.5L1794.4 863.3L1795.1 864.2L1795.8 862.3L1796.4 866.5L1797.1 864.9L1797.8 860.3L1798.5 862.5L1799.1 863.6L1799.8 864.3L1800.5 862.4L1801.2 864.9L1801.8 864.7L1802.5 865.1L1803.2 863.9L1803.8 866.8L1804.5 862.0L1805.2 859.1L1805.9 862.9L1806.5 867.7L1807.2 867.6L1807.9 862.1L1808.6 861.1L1809.2 865.3L1809.9 859.8L1810.6 864.7L1811.3 861.8L1811.9 862.2L1812.6 861.6L1813.3 862.2L1813.9 863.0L1814.6 862.5L1815.3 862.4L1816.0 863.0L1816.6 862.7L1817.3 867.7L1818.0 865.7L1818.7 861.6L1819.3 863.4L1820.0 865.7L1820.7 860.5L1821.3 863.0L1822.0 861.5L1822.7 861.6L1823.4 864.5L1824.0 863.5L1824.7 860.0L1825.4 863.9L1826.1 860.3L1826.7 863.5L1827.4 865.3L1828.1 862.8L1828.8 866.5L1829.4 863.1L1830.1 862.0L1830.8 863.5L1831.4 863.5L1832.1 865.9L1832.8 862.8L1833.5 865.8L1834.1 863.4L1834.8 862.2L1835.5 862.5L1836.2 862.8L1836.8 862.0L1837.5 860.1L1838.2 862.2L1838.9 864.2L1839.5 862.2L1840.2 864.3L1840.9 860.5L1841.5 862.6L1842.2 862.1L1842.9 862.4L1843.6 860.2L1844.2 862.1L1844.9 861.3L1845.6 861.2L1846.3 860.0L1846.9 858.1L1847.6 859.7L1848.3 856.3L1848.9 862.6L1849.6 861.1L1850.3 862.4L1851.0 859.8L1851.6 863.0L1852.3 862.2L1853.0 863.0L1853.7 860.7L1854.3 863.9L1855.0 863.0L1855.7 865.1L1856.4 863.5L1857.0 859.9L1857.7 860.4L1858.4 863.4L1859.0 860.5L1859.7 858.7L1860.4 860.6L1861.1 860.4L1861.7 860.7L1862.4 861.0L1863.1 858.0L1863.8 858.5L1864.4 859.1L1865.1 861.1L1865.8 860.2L1866.5 858.5L1867.1 860.9L1867.8 856.8L1868.5 858.6L1869.1 858.1L1869.8 860.8L1870.5 856.6L1871.2 862.6L1871.8 855.8L1872.5 860.5L1873.2 857.8L1873.9 857.6L1874.5 859.1L1875.2 858.1L1875.9 860.2L1876.6 861.2L1877.2 860.5L1877.9 857.1L1878.6 859.1L1879.2 859.0L1879.9 857.9L1880.6 859.6L1881.3 858.0L1881.9 858.8L1882.6 859.5L1883.3 859.6L1884.0 856.3L1884.6 856.4L1885.3 859.7L1886.0 854.8L1886.6 854.9L1887.3 854.5L1888.0 859.4L1888.7 858.2L1889.3 855.3L1890.0 858.3L1890.7 855.3L1891.4 857.7L1892.0 856.8L1892.7 856.5L1893.4 858.1L1894.1 857.1L1894.7 855.2L1895.4 852.8" fill="none" stroke="#ff00ff" stroke-width="9.5" stroke-linejoin="round" stroke-linecap="butt" shape-rendering="crispEdges"/>
<path d="M212.4 1289.4L213.1 1291.6L213.7 1290.7L214.4 1291.7L215.1 1293.3L215.8 1292.4L216.4 1293.9L217.1 1293.3L217.8 1294.3L218.5 1290.6L219.1 1290.9L219.8 1290.0L220.5 1292.5L221.2 1291.2L221.8 1292.8L222.5 1291.8L223.2 1291.5L223.8 1294.3L224.5 1292.0L225.2 1291.1L225.9 1289.7L226.5 1292.8L227.2 1292.3L227.9 1289.3L228.6 1290.5L229.2 1290.9L229.9 1288.0L230.6 1289.7L231.2 1292.0L231.9 1287.6L232.6 1290.6L233.3 1292.7L233.9 1289.3L234.6 1289.8L235.3 1290.9L236.0 1291.3L236.6 1291.1L237.3 1288.2L238.0 1289.1L238.7 1290.2L239.3 1289.4L240.0 1291.5L240.7 1289.4L241.3 1289.5L242.0 1292.9L242.7 1290.2L243.4 1289.0L244.0 1290.4L244.7 1290.0L245.4 1291.2L246.1 1290.6L246.7 1289.2L247.4 1289.0L248.1 1288.8L248.8 1291.5L249.4 1292.6L250.1 1289.8L250.8 1290.9L251.4 1290.8L252.1 1289.6L252.8 1289.7L253.5 1289.9L254.1 1287.9L254.8 1289.6L255.5 1291.4L256.2 1292.1L256.8 1290.4L257.5 1290.1L258.2 1291.4L258.9 1293.3L259.5 1289.0L260.2 1289.1L260.9 1289.6L261.5 1291.0L262.2 1288.9L262.9 1290.6L263.6 1288.8L264.2 1290.5L264.9 1289.1L265.6 1288.9L266.3 1290.7L266.9 1287.9L267.6 1288.6L268.3 1290.8L268.9 1290.8L269.6 1290.0L270.3 1286.5L271.0 1290.7L271.6 1290.1L272.3 1289.1L273.0 1286.8L273.7 1290.7L274.3 1292.0L275.0 1290.1L275.7 1291.2L276.4 1288.4L277.0 1289.7L277.7 1288.7L278.4 1288.3L279.0 1289.8L279.7 1289.3L280.4 1289.9L281.1 1290.1L281.7 1290.8L282.4 1291.1L283.1 1291.7L283.8 1289.6L284.4 1291.7L285.1 1288.4L285.8 1290.8L286.5 1290.4L287.1 1286.5L287.8 1289.1L288.5 1290.9L289.1 1289.8L289.8 1288.3L290.5 1288.3L291.2 1289.7L291.8 1289.6L292.5 1290.8L293.2 1289.9L293.9 1291.1L294.5 1290.4L295.2 1288.6L295.9 1288.3L296.6 1289.1L297.2 1290.7L297.9 1289.0L298.6 1291.8L299.2 1288.4L299.9 1290.4L300.6 1289.5L301.3 1291.2L301.9 1290.7L302.6 1289.9L303.3 1288.0L304.0 1288.3L304.6 1288.5L305.3 1291.1L306.0 1288.7L306.6 1290.6L307.3 1291.4L308.0 1288.7L308.7 1289.0L309.3 1286.1L310.0 1288.5L310.7 1289.7L311.4 1286.6L312.0 1288.1L312.7 1288.4L313.4 1287.4L314.1 1286.0L314.7 1286.8L315.4 1285.2L316.1 1285.6L316.7 1289.9L317.4 1285.2L318.1 1284.9L318.8 1286.0L319.4 1285.9L320.1 1286.3L320.8 1283.2L321.5 1282.1L322.1 1281.4L322.8 1283.5L323.5 1283.2L324.2 1279.2L324.8 1278.7L325.5 1278.7L326.2 1275.9L326.8 1275.6L327.5 1277.0L328.2 1271.0L328.9 1272.0L329.5 1271.1L330.2 1263.2L330.9 1264.7L331.6 1258.6L332.2 1253.6L332.9 1253.5L333.6 1248.4L334.2 1245.1L334.9 1242.7L335.6 1241.7L336.3 1243.3L336.9 1246.1L337.6 1251.4L338.3 1252.2L339.0 1257.1L339.6 1258.8L340.3 1264.0L341.0 1265.6L341.7 1270.9L342.3 1270.9L343.0 1268.8L343.7 1273.6L344.3 1274.5L345.0 1278.5L345.7 1278.0L346.4 1280.7L347.0 1281.5L347.7 1279.9L348.4 1281.4L349.1 1282.7L349.7 1281.4L350.4 1289.4L351.1 1285.0L351.8 1282.6L352.4 1282.8L353.1 1285.7L353.8 1285.3L354.4 1283.8L355.1 1283.9L355.8 1287.1L356.5 1286.8L357.1 1288.5L357.8 1288.0L358.5 1290.2L359.2 1286.0L359.8 1290.0L360.5 1288.0L361.2 1287.9L361.9 1290.9L362.5 1286.5L363.2 1289.3L363.9 1289.0L364.5 1291.4L365.2 1287.5L365.9 1290.3L366.6 1290.4L367.2 1289.7L367.9 1289.8L368.6 1289.3L369.3 1287.1L369.9 1288.4L370.6 1286.2L371.3 1290.4L371.9 1290.4L372.6 1286.7L373.3 1290.5L374.0 1288.3L374.6 1286.0L375.3 1287.2L376.0 1289.2L376.7 1288.3L377.3 1287.0L378.0 1289.8L378.7 1288.6L379.4 1288.3L380.0 1287.2L380.7 1289.7L381.4 1290.0L382.0 1287.0L382.7 1287.9L383.4 1287.9L384.1 1288.6L384.7 1286.8L385.4 1291.4L386.1 1288.8L386.8 1289.7L387.4 1287.8L388.1 1291.4L388.8 1288.9L389.5 1285.6L390.1 1290.0L390.8 1288.6L391.5 1287.2L392.1 1288.8L392.8 1287.5L393.5 1289.8L394.2 1289.5L394.8 1286.3L395.5 1289.1L396.2 1289.5L396.9 1283.9L397.5 1289.5L398.2 1288.5L398.9 1288.8L399.5 1289.8L400.2 1287.8L400.9 1286.7L401.6 1288.7L402.2 1287.9L402.9 1288.8L403.6 1284.5L404.3 1287.1L404.9 1291.5L405.6 1288.1L406.3 1289.2L407.0 1288.3L407.6 1287.5L408.3 1289.4L409.0 1289.3L409.6 1287.7L410.3 1287.9L411.0 1289.2L411.7 1286.9L412.3 1286.7L413.0 1289.6L413.7 1289.4L414.4 1287.3L415.0 1289.9L415.7 1288.8L416.4 1288.2L417.1 1286.9L417.7 1289.0L418.4 1287.2L419.1 1288.2L419.7 1287.6L420.4 1290.6L421.1 1289.1L421.8 1289.0L422.4 1290.0L423.1 1292.6L423.8 1290.3L424.5 1286.2L425.1 1288.4L425.8 1288.4L426.5 1287.3L427.2 1286.7L427.8 1290.8L428.5 1289.4L429.2 1289.6L429.8 1288.8L430.5 1289.4L431.2 1288.8L431.9 1288.2L432.5 1287.5L433.2 1286.0L433.9 1286.1L434.6 1286.9L435.2 1285.4L435.9 1287.3L436.6 1285.6L437.2 1288.4L437.9 1285.5L438.6 1288.6L439.3 1290.4L439.9 1290.0L440.6 1287.9L441.3 1290.6L442.0 1288.4L442.6 1288.5L443.3 1287.5L444.0 1284.6L444.7 1287.8L445.3 1287.3L446.0 1287.7L446.7 1285.1L447.3 1288.0L448.0 1285.9L448.7 1285.3L449.4 1285.7L450.0 1287.7L450.7 1286.8L451.4 1289.8L452.1 1288.6L452.7 1289.0L453.4 1286.9L454.1 1285.4L454.8 1284.6L455.4 1286.8L456.1 1289.2L456.8 1289.3L457.4 1284.9L458.1 1288.0L458.8 1288.7L459.5 1285.8L460.1 1287.2L460.8 1285.8L461.5 1286.9L462.2 1286.7L462.8 1285.8L463.5 1286.1L464.2 1285.2L464.9 1286.4L465.5 1281.1L466.2 1286.9L466.9 1287.7L467.5 1283.9L468.2 1285.7L468.9 1286.9L469.6 1284.7L470.2 1284.5L470.9 1285.3L471.6 1286.3L472.3 1282.6L472.9 1284.9L473.6 1285.1L474.3 1282.0L474.9 1284.5L475.6 1286.9L476.3 1284.7L477.0 1284.7L477.6 1287.3L478.3 1283.9L479.0 1284.4L479.7 1286.7L480.3 1287.1L481.0 1282.2L481.7 1283.5L482.4 1284.5L483.0 1285.8L483.7 1284.4L484.4 1282.4L485.0 1284.5L485.7 1278.9L486.4 1282.4L487.1 1283.0L487.7 1283.1L488.4 1281.5L489.1 1277.8L489.8 1281.6L490.4 1279.0L491.1 1279.1L491.8 1282.0L492.5 1276.5L493.1 1283.8L493.8 1281.2L494.5 1280.9L495.1 1278.5L495.8 1279.5L496.5 1278.7L497.2 1277.4L497.8 1273.9L498.5 1277.3L499.2 1276.8L499.9 1278.1L500.5 1277.3L501.2 1277.3L501.9 1277.4L502.5 1274.5L503.2 1273.9L503.9 1277.0L504.6 1275.4L505.2 1276.9L505.9 1273.0L506.6 1273.5L507.3 1275.1L507.9 1273.0L508.6 1270.6L509.3 1272.8L510.0 1271.8L510.6 1268.7L511.3 1269.0L512.0 1270.2L512.6 1268.7L513.3 1267.9L514.0 1266.7L514.7 1261.7L515.3 1267.7L516.0 1266.7L516.7 1265.1L517.4 1260.9L518.0 1263.2L518.7 1263.4L519.4 1262.2L520.1 1261.5L520.7 1255.6L521.4 1260.7L522.1 1259.4L522.7 1258.3L523.4 1258.7L524.1 1255.0L524.8 1256.7L525.4 1249.5L526.1 1253.1L526.8 1249.8L527.5 1252.5L528.1 1246.2L528.8 1244.4L529.5 1242.3L530.2 1243.5L530.8 1238.2L531.5 1240.7L532.2 1238.2L532.8 1234.0L533.5 1231.7L534.2 1226.8L534.9 1231.3L535.5 1225.2L536.2 1216.3L536.9 1219.9L537.6 1210.4L538.2 1211.7L538.9 1209.7L539.6 1203.5L540.2 1199.5L540.9 1199.6L541.6 1197.4L542.3 1193.3L542.9 1191.0L543.6 1181.5L544.3 1183.0L545.0 1176.2L545.6 1177.0L546.3 1169.4L547.0 1167.3L547.7 1164.0L548.3 1163.6L549.0 1161.9L549.7 1160.6L550.3 1161.6L551.0 1153.6L551.7 1162.7L552.4 1154.1L553.0 1152.5L553.7 1157.2L554.4 1155.1L555.1 1156.0L555.7 1160.0L556.4 1155.5L557.1 1165.3L557.8 1156.5L558.4 1159.3L559.1 1165.9L559.8 1165.7L560.4 1162.1L561.1 1154.8L561.8 1158.7L562.5 1158.3L563.1 1159.3L563.8 1162.5L564.5 1167.7L565.2 1172.7L565.8 1174.3L566.5 1175.1L567.2 1183.7L567.8 1190.1L568.5 1197.8L569.2 1198.3L569.9 1204.2L570.5 1208.9L571.2 1212.5L571.9 1221.9L572.6 1223.4L573.2 1231.5L573.9 1234.7L574.6 1235.5L575.3 1238.9L575.9 1239.9L576.6 1243.9L577.3 1246.2L577.9 1251.1L578.6 1249.4L579.3 1255.0L580.0 1255.7L580.6 1256.4L581.3 1254.2L582.0 1255.8L582.7 1259.2L583.3 1260.7L584.0 1259.1L584.7 1266.5L585.4 1264.2L586.0 1264.4L586.7 1266.4L587.4 1264.3L588.0 1262.4L588.7 1266.9L589.4 1266.5L590.1 1268.6L590.7 1269.6L591.4 1266.9L592.1 1268.9L592.8 1272.5L593.4 1273.7L594.1 1271.0L594.8 1271.4L595.5 1271.8L596.1 1271.8L596.8 1276.2L597.5 1274.8L598.1 1271.0L598.8 1272.0L599.5 1275.3L600.2 1274.7L600.8 1275.9L601.5 1275.7L602.2 1273.2L602.9 1272.6L603.5 1272.2L604.2 1273.6L604.9 1275.5L605.5 1273.8L606.2 1278.4L606.9 1272.1L607.6 1274.7L608.2 1277.3L608.9 1279.1L609.6 1274.5L610.3 1277.0L610.9 1277.9L611.6 1273.5L612.3 1278.5L613.0 1277.4L613.6 1276.5L614.3 1278.9L615.0 1277.3L615.6 1275.8L616.3 1279.3L617.0 1275.6L617.7 1278.7L618.3 1272.1L619.0 1277.6L619.7 1275.2L620.4 1276.0L621.0 1275.7L621.7 1277.2L622.4 1274.1L623.1 1275.3L623.7 1275.2L624.4 1276.8L625.1 1276.0L625.7 1276.7L626.4 1277.0L627.1 1273.7L627.8 1276.5L628.4 1277.4L629.1 1277.8L629.8 1281.9L630.5 1279.0L631.1 1279.6L631.8 1276.2L632.5 1278.0L633.2 1279.2L633.8 1274.9L634.5 1274.4L635.2 1272.9L635.8 1273.3L636.5 1278.6L637.2 1273.2L637.9 1275.5L638.5 1276.8L639.2 1275.4L639.9 1275.2L640.6 1274.2L641.2 1275.9L641.9 1271.6L642.6 1273.6L643.2 1274.3L643.9 1271.2L644.6 1273.2L645.3 1274.1L645.9 1277.1L646.6 1273.3L647.3 1276.7L648.0 1273.4L648.6 1278.0L649.3 1274.4L650.0 1277.2L650.7 1280.5L651.3 1276.7L652.0 1277.2L652.7 1272.2L653.3 1274.9L654.0 1274.8L654.7 1273.0L655.4 1273.8L656.0 1271.2L656.7 1272.3L657.4 1270.7L658.1 1269.9L658.7 1273.8L659.4 1270.6L660.1 1272.4L660.8 1274.9L661.4 1273.3L662.1 1269.8L662.8 1270.5L663.4 1269.7L664.1 1270.8L664.8 1273.9L665.5 1273.4L666.1 1268.9L666.8 1266.8L667.5 1271.2L668.2 1264.3L668.8 1269.7L669.5 1263.7L670.2 1268.9L670.8 1268.3L671.5 1266.6L672.2 1264.8L672.9 1267.7L673.5 1266.9L674.2 1265.7L674.9 1269.8L675.6 1263.8L676.2 1262.7L676.9 1266.4L677.6 1269.5L678.3 1261.2L678.9 1261.8L679.6 1260.9L680.3 1262.2L680.9 1262.9L681.6 1258.9L682.3 1259.4L683.0 1257.0L683.6 1258.7L684.3 1256.5L685.0 1256.9L685.7 1254.2L686.3 1253.9L687.0 1248.6L687.7 1250.1L688.4 1249.7L689.0 1250.3L689.7 1246.3L690.4 1246.9L691.0 1250.1L691.7 1248.2L692.4 1244.9L693.1 1245.9L693.7 1244.2L694.4 1244.7L695.1 1241.9L695.8 1238.4L696.4 1239.3L697.1 1232.5L697.8 1236.4L698.5 1234.9L699.1 1232.3L699.8 1223.1L700.5 1224.2L701.1 1224.5L701.8 1219.9L702.5 1217.4L703.2 1214.0L703.8 1213.1L704.5 1206.7L705.2 1198.2L705.9 1200.7L706.5 1203.0L707.2 1193.5L707.9 1188.7L708.5 1189.0L709.2 1174.2L709.9 1168.4L710.6 1165.7L711.2 1164.0L711.9 1164.1L712.6 1155.6L713.3 1144.7L713.9 1144.7L714.6 1132.7L715.3 1125.1L716.0 1114.6L716.6 1102.3L717.3 1096.2L718.0 1083.0L718.6 1068.1L719.3 1065.0L720.0 1067.2L720.7 1050.0L721.3 1035.2L722.0 1035.0L722.7 1038.9L723.4 1016.5L724.0 1022.8L724.7 1004.1L725.4 982.0L726.1 989.9L726.7 995.8L727.4 982.7L728.1 970.6L728.7 979.6L729.4 986.3L730.1 971.5L730.8 985.2L731.4 990.8L732.1 1000.2L732.8 997.4L733.5 1000.8L734.1 1015.9L734.8 1020.8L735.5 1025.6L736.1 1030.3L736.8 1044.9L737.5 1045.5L738.2 1068.1L738.8 1063.2L739.5 1080.1L740.2 1087.5L740.9 1092.7L741.5 1098.0L742.2 1111.7L742.9 1114.3L743.6 1116.6L744.2 1127.9L744.9 1135.8L745.6 1133.0L746.2 1151.7L746.9 1145.3L747.6 1159.9L748.3 1164.0L748.9 1162.6L749.6 1173.2L750.3 1174.6L751.0 1184.4L751.6 1184.6L752.3 1191.6L753.0 1195.6L753.7 1201.6L754.3 1197.7L755.0 1209.8L755.7 1199.9L756.3 1206.2L757.0 1211.5L757.7 1210.4L758.4 1212.9L759.0 1222.2L759.7 1217.7L760.4 1222.6L761.1 1229.2L761.7 1231.5L762.4 1227.8L763.1 1231.9L763.8 1232.5L764.4 1232.0L765.1 1229.6L765.8 1227.6L766.4 1226.3L767.1 1235.1L767.8 1232.6L768.5 1230.8L769.1 1231.2L769.8 1234.1L770.5 1235.2L771.2 1233.1L771.8 1231.3L772.5 1238.3L773.2 1236.6L773.8 1235.5L774.5 1245.6L775.2 1249.1L775.9 1246.8L776.5 1247.8L777.2 1249.8L777.9 1251.4L778.6 1253.3L779.2 1254.5L779.9 1256.4L780.6 1258.8L781.3 1261.2L781.9 1263.0L782.6 1264.9L783.3 1262.3L783.9 1267.0L784.6 1264.5L785.3 1265.6L786.0 1270.0L786.6 1266.2L787.3 1270.8L788.0 1267.5L788.7 1271.4L789.3 1274.3L790.0 1275.0L790.7 1271.2L791.4 1271.5L792.0 1277.3L792.7 1275.3L793.4 1277.9L794.0 1272.4L794.7 1279.3L795.4 1277.8L796.1 1275.3L796.7 1278.5L797.4 1281.8L798.1 1280.3L798.8 1276.8L799.4 1276.2L800.1 1281.9L800.8 1279.4L801.5 1279.0L802.1 1280.4L802.8 1280.9L803.5 1280.4L804.1 1283.6L804.8 1285.2L805.5 1282.2L806.2 1287.0L806.8 1283.4L807.5 1285.3L808.2 1286.2L808.9 1286.2L809.5 1287.5L810.2 1281.9L810.9 1281.8L811.5 1283.1L812.2 1285.3L812.9 1287.6L813.6 1284.9L814.2 1285.3L814.9 1286.5L815.6 1286.4L816.3 1291.5L816.9 1285.9L817.6 1291.1L818.3 1292.1L819.0 1287.9L819.6 1288.0L820.3 1288.2L821.0 1287.3L821.6 1287.5L822.3 1286.4L823.0 1289.5L823.7 1290.6L824.3 1287.8L825.0 1290.6L825.7 1288.3L826.4 1287.9L827.0 1289.2L827.7 1288.3L828.4 1291.7L829.1 1291.2L829.7 1291.2L830.4 1290.3L831.1 1286.6L831.7 1288.0L832.4 1288.8L833.1 1292.1L833.8 1287.9L834.4 1291.6L835.1 1286.5L835.8 1289.3L836.5 1289.6L837.1 1292.2L837.8 1292.2L838.5 1290.9L839.1 1291.7L839.8 1289.0L840.5 1288.6L841.2 1293.8L841.8 1296.8L842.5 1294.0L843.2 1291.5L843.9 1293.0L844.5 1288.8L845.2 1291.2L845.9 1290.7L846.6 1293.2L847.2 1291.4L847.9 1292.5L848.6 1288.7L849.2 1290.8L849.9 1290.2L850.6 1293.3L851.3 1292.8L851.9 1293.1L852.6 1289.9L853.3 1296.4L854.0 1293.1L854.6 1293.8L855.3 1297.7L856.0 1295.7L856.7 1293.2L857.3 1293.6L858.0 1290.0L858.7 1290.7L859.3 1293.3L860.0 1291.4L860.7 1292.2L861.4 1290.7L862.0 1292.4L862.7 1292.8L863.4 1293.3L864.1 1297.1L864.7 1294.1L865.4 1294.3L866.1 1295.9L866.8 1293.4L867.4 1294.8L868.1 1290.6L868.8 1292.8L869.4 1294.1L870.1 1292.0L870.8 1294.0L871.5 1292.8L872.1 1294.5L872.8 1295.5L873.5 1293.5L874.2 1292.2L874.8 1292.4L875.5 1293.9L876.2 1293.4L876.8 1290.5L877.5 1294.3L878.2 1294.4L878.9 1292.3L879.5 1292.9L880.2 1293.2L880.9 1291.6L881.6 1293.4L882.2 1294.3L882.9 1293.8L883.6 1292.0L884.3 1291.6L884.9 1292.8L885.6 1292.5L886.3 1292.2L886.9 1289.9L887.6 1292.8L888.3 1292.5L889.0 1293.2L889.6 1291.2L890.3 1294.0L891.0 1293.0L891.7 1294.2L892.3 1291.4L893.0 1293.6L893.7 1292.9L894.4 1291.7L895.0 1292.5L895.7 1290.9L896.4 1291.9L897.0 1291.9L897.7 1291.8L898.4 1292.2L899.1 1292.8L899.7 1290.0L900.4 1292.4L901.1 1288.1L901.8 1290.0L902.4 1294.9L903.1 1292.7L903.8 1291.5L904.4 1295.6L905.1 1290.3L905.8 1291.7L906.5 1290.5L907.1 1293.1L907.8 1291.4L908.5 1289.5L909.2 1290.3L909.8 1291.3L910.5 1293.3L911.2 1292.9L911.9 1293.4L912.5 1292.8L913.2 1291.4L913.9 1295.3L914.5 1291.4L915.2 1293.1L915.9 1291.2L916.6 1291.3L917.2 1291.3L917.9 1290.0L918.6 1292.8L919.3 1291.3L919.9 1293.1L920.6 1293.7L921.3 1292.9L922.0 1292.2L922.6 1292.8L923.3 1290.9L924.0 1292.4L924.6 1288.2L925.3 1289.8L926.0 1292.1L926.7 1288.1L927.3 1290.8L928.0 1291.3L928.7 1289.9L929.4 1288.3L930.0 1291.1L930.7 1292.8L931.4 1291.7L932.1 1287.2L932.7 1292.5L933.4 1288.9L934.1 1292.4L934.7 1290.2L935.4 1291.5L936.1 1293.0L936.8 1289.2L937.4 1292.9L938.1 1290.6L938.8 1291.4L939.5 1289.8L940.1 1289.4L940.8 1287.4L941.5 1289.2L942.1 1291.0L942.8 1288.3L943.5 1292.1L944.2 1291.0L944.8 1287.4L945.5 1289.5L946.2 1289.8L946.9 1288.6L947.5 1289.1L948.2 1289.9L948.9 1287.6L949.6 1289.0L950.2 1287.8L950.9 1286.5L951.6 1288.9L952.2 1287.3L952.9 1287.9L953.6 1289.7L954.3 1285.0L954.9 1289.5L955.6 1289.1L956.3 1288.7L957.0 1289.2L957.6 1288.7L958.3 1288.7L959.0 1285.1L959.7 1286.9L960.3 1288.0L961.0 1287.2L961.7 1287.4L962.3 1285.2L963.0 1289.3L963.7 1285.4L964.4 1285.7L965.0 1285.1L965.7 1281.6L966.4 1280.7L967.1 1278.9L967.7 1281.1L968.4 1282.4L969.1 1280.8L969.8 1276.4L970.4 1280.7L971.1 1280.4L971.8 1278.1L972.4 1273.5L973.1 1272.2L973.8 1274.0L974.5 1271.4L975.1 1274.4L975.8 1275.5L976.5 1274.7L977.2 1272.5L977.8 1271.5L978.5 1270.3L979.2 1266.9L979.8 1263.2L980.5 1268.3L981.2 1267.0L981.9 1256.0L982.5 1262.7L983.2 1258.9L983.9 1255.5L984.6 1259.8L985.2 1253.2L985.9 1254.3L986.6 1254.9L987.3 1258.3L987.9 1254.2L988.6 1257.1L989.3 1256.3L989.9 1259.7L990.6 1263.7L991.3 1264.4L992.0 1262.9L992.6 1264.2L993.3 1262.0L994.0 1269.6L994.7 1268.1L995.3 1271.8L996.0 1270.2L996.7 1270.7L997.4 1271.1L998.0 1268.6L998.7 1274.7L999.4 1275.4L1000.0 1273.0L1000.7 1276.0L1001.4 1276.0L1002.1 1275.1L1002.7 1275.1L1003.4 1274.3L1004.1 1275.4L1004.8 1280.0L1005.4 1279.7L1006.1 1278.5L1006.8 1280.9L1007.4 1279.3L1008.1 1278.1L1008.8 1279.9L1009.5 1278.1L1010.1 1277.4L1010.8 1278.2L1011.5 1274.1L1012.2 1278.5L1012.8 1276.2L1013.5 1273.9L1014.2 1276.6L1014.9 1272.7L1015.5 1272.2L1016.2 1274.9L1016.9 1276.4L1017.5 1274.7L1018.2 1274.0L1018.9 1281.3L1019.6 1278.5L1020.2 1276.7L1020.9 1279.1L1021.6 1282.6L1022.3 1281.6L1022.9 1280.3L1023.6 1288.2L1024.3 1287.5L1025.0 1282.6L1025.6 1287.6L1026.3 1288.1L1027.0 1286.0L1027.6 1287.4L1028.3 1287.2L1029.0 1289.5L1029.7 1292.1L1030.3 1289.7L1031.0 1289.2L1031.7 1292.9L1032.4 1290.6L1033.0 1289.7L1033.7 1290.5L1034.4 1291.2L1035.1 1293.4L1035.7 1294.1L1036.4 1294.5L1037.1 1294.5L1037.7 1290.4L1038.4 1294.2L1039.1 1291.5L1039.8 1294.1L1040.4 1294.1L1041.1 1293.0L1041.8 1293.4L1042.5 1293.6L1043.1 1294.9L1043.8 1294.8L1044.5 1297.3L1045.1 1295.0L1045.8 1295.5L1046.5 1295.4L1047.2 1294.6L1047.8 1296.4L1048.5 1293.9L1049.2 1295.6L1049.9 1294.2L1050.5 1294.9L1051.2 1292.4L1051.9 1292.7L1052.6 1295.8L1053.2 1294.7L1053.9 1295.2L1054.6 1293.7L1055.2 1292.9L1055.9 1295.5L1056.6 1296.7L1057.3 1294.1L1057.9 1292.6L1058.6 1295.4L1059.3 1296.1L1060.0 1293.7L1060.6 1293.9L1061.3 1296.4L1062.0 1297.2L1062.7 1297.5L1063.3 1294.3L1064.0 1295.4L1064.7 1294.5L1065.3 1293.2L1066.0 1294.0L1066.7 1296.0L1067.4 1293.5L1068.0 1294.2L1068.7 1295.3L1069.4 1294.4L1070.1 1293.9L1070.7 1295.2L1071.4 1297.7L1072.1 1296.5L1072.7 1294.9L1073.4 1296.9L1074.1 1295.9L1074.8 1297.5L1075.4 1296.8L1076.1 1294.8L1076.8 1295.6L1077.5 1296.7L1078.1 1296.7L1078.8 1295.7L1079.5 1297.0L1080.2 1295.0L1080.8 1295.8L1081.5 1296.1L1082.2 1293.3L1082.8 1297.2L1083.5 1295.2L1084.2 1296.0L1084.9 1294.4L1085.5 1297.0L1086.2 1295.3L1086.9 1294.8L1087.6 1297.0L1088.2 1294.2L1088.9 1292.3L1089.6 1296.5L1090.3 1293.7L1090.9 1293.0L1091.6 1294.3L1092.3 1297.0L1092.9 1296.1L1093.6 1294.5L1094.3 1296.0L1095.0 1299.6L1095.6 1297.2L1096.3 1297.5L1097.0 1294.8L1097.7 1295.0L1098.3 1298.0L1099.0 1294.1L1099.7 1295.1L1100.4 1295.5L1101.0 1295.2L1101.7 1293.8L1102.4 1295.4L1103.0 1293.5L1103.7 1292.7L1104.4 1295.1L1105.1 1294.7L1105.7 1293.9L1106.4 1294.7L1107.1 1292.9L1107.8 1295.4L1108.4 1296.5L1109.1 1292.1L1109.8 1293.4L1110.4 1293.9L1111.1 1293.0L1111.8 1295.1L1112.5 1296.9L1113.1 1295.0L1113.8 1296.8L1114.5 1295.1L1115.2 1295.6L1115.8 1294.2L1116.5 1295.3L1117.2 1293.2L1117.9 1296.4L1118.5 1292.6L1119.2 1292.6L1119.9 1294.3L1120.5 1292.8L1121.2 1295.1L1121.9 1295.5L1122.6 1295.3L1123.2 1292.8L1123.9 1295.4L1124.6 1295.8L1125.3 1295.3L1125.9 1294.9L1126.6 1293.7L1127.3 1293.9L1128.0 1295.2L1128.6 1295.4L1129.3 1294.3L1130.0 1296.4L1130.6 1297.4L1131.3 1297.7L1132.0 1295.7L1132.7 1299.0L1133.3 1293.0L1134.0 1295.7L1134.7 1294.6L1135.4 1294.0L1136.0 1293.8L1136.7 1293.1L1137.4 1294.3L1138.1 1293.6L1138.7 1293.3L1139.4 1293.3L1140.1 1292.8L1140.7 1294.3L1141.4 1295.0L1142.1 1292.9L1142.8 1293.6L1143.4 1295.7L1144.1 1292.2L1144.8 1294.9L1145.5 1293.7L1146.1 1295.3L1146.8 1295.9L1147.5 1297.2L1148.1 1293.9L1148.8 1296.1L1149.5 1294.2L1150.2 1296.0L1150.8 1292.0L1151.5 1295.2L1152.2 1295.6L1152.9 1295.4L1153.5 1293.3L1154.2 1290.6L1154.9 1288.9L1155.6 1290.9L1156.2 1290.0L1156.9 1286.5L1157.6 1287.2L1158.2 1290.4L1158.9 1289.7L1159.6 1287.7L1160.3 1288.8L1160.9 1289.9L1161.6 1292.4L1162.3 1292.9L1163.0 1293.2L1163.6 1292.7L1164.3 1293.3L1165.0 1293.2L1165.7 1296.5L1166.3 1291.7L1167.0 1294.9L1167.7 1295.1L1168.3 1293.9L1169.0 1289.8L1169.7 1293.1L1170.4 1293.2L1171.0 1292.3L1171.7 1292.9L1172.4 1293.6L1173.1 1295.2L1173.7 1293.6L1174.4 1295.5L1175.1 1293.2L1175.7 1297.9L1176.4 1292.4L1177.1 1294.4L1177.8 1292.7L1178.4 1292.5L1179.1 1294.5L1179.8 1295.7L1180.5 1292.4L1181.1 1294.1L1181.8 1292.7L1182.5 1294.7L1183.2 1289.5L1183.8 1294.3L1184.5 1292.8L1185.2 1292.9L1185.8 1292.6L1186.5 1290.5L1187.2 1294.3L1187.9 1293.6L1188.5 1291.6L1189.2 1292.2L1189.9 1292.2L1190.6 1289.7L1191.2 1292.7L1191.9 1293.5L1192.6 1292.5L1193.3 1292.2L1193.9 1289.7L1194.6 1291.2L1195.3 1289.8L1195.9 1291.4L1196.6 1292.9L1197.3 1297.2L1198.0 1292.3L1198.6 1292.4L1199.3 1291.5L1200.0 1291.3L1200.7 1293.2L1201.3 1290.2L1202.0 1290.8L1202.7 1291.5L1203.4 1288.8L1204.0 1294.0L1204.7 1289.4L1205.4 1290.5L1206.0 1292.6L1206.7 1289.5L1207.4 1285.3L1208.1 1290.5L1208.7 1291.2L1209.4 1289.7L1210.1 1290.8L1210.8 1288.7L1211.4 1290.8L1212.1 1290.0L1212.8 1286.4L1213.4 1287.6L1214.1 1283.9L1214.8 1285.3L1215.5 1285.7L1216.1 1281.5L1216.8 1283.7L1217.5 1278.6L1218.2 1279.6L1218.8 1278.4L1219.5 1282.0L1220.2 1277.7L1220.9 1282.1L1221.5 1276.3L1222.2 1276.4L1222.9 1274.3L1223.5 1276.5L1224.2 1274.6L1224.9 1274.6L1225.6 1275.3L1226.2 1273.9L1226.9 1272.3L1227.6 1271.5L1228.3 1274.6L1228.9 1278.6L1229.6 1278.2L1230.3 1276.7L1231.0 1276.1L1231.6 1280.0L1232.3 1279.3L1233.0 1278.2L1233.6 1279.0L1234.3 1279.2L1235.0 1279.0L1235.7 1281.3L1236.3 1281.3L1237.0 1283.3L1237.7 1283.1L1238.4 1282.0L1239.0 1285.9L1239.7 1289.6L1240.4 1284.8L1241.0 1288.3L1241.7 1286.9L1242.4 1289.3L1243.1 1293.8L1243.7 1291.4L1244.4 1288.7L1245.1 1288.5L1245.8 1289.0L1246.4 1290.9L1247.1 1289.4L1247.8 1288.3L1248.5 1290.6L1249.1 1286.7L1249.8 1289.4L1250.5 1293.2L1251.1 1290.7L1251.8 1291.6L1252.5 1290.6L1253.2 1291.1L1253.8 1290.7L1254.5 1291.3L1255.2 1290.5L1255.9 1287.9L1256.5 1292.3L1257.2 1290.7L1257.9 1293.9L1258.6 1293.3L1259.2 1293.4L1259.9 1294.2L1260.6 1294.3L1261.2 1291.5L1261.9 1294.2L1262.6 1295.2L1263.3 1293.0L1263.9 1290.0L1264.6 1291.6L1265.3 1292.2L1266.0 1291.0L1266.6 1290.4L1267.3 1293.9L1268.0 1290.9L1268.7 1290.5L1269.3 1291.8L1270.0 1289.3L1270.7 1293.9L1271.3 1291.2L1272.0 1291.7L1272.7 1289.2L1273.4 1290.8L1274.0 1293.3L1274.7 1292.2L1275.4 1291.8L1276.1 1291.5L1276.7 1292.6L1277.4 1289.0L1278.1 1294.6L1278.7 1293.7L1279.4 1293.7L1280.1 1289.1L1280.8 1292.5L1281.4 1294.6L1282.1 1291.4L1282.8 1290.3L1283.5 1288.6L1284.1 1290.0L1284.8 1291.7L1285.5 1287.5L1286.2 1288.1L1286.8 1291.4L1287.5 1288.1L1288.2 1290.0L1288.8 1290.0L1289.5 1291.6L1290.2 1288.7L1290.9 1290.1L1291.5 1288.5L1292.2 1292.2L1292.9 1289.1L1293.6 1292.5L1294.2 1288.0L1294.9 1288.9L1295.6 1291.3L1296.3 1289.3L1296.9 1289.6L1297.6 1287.7L1298.3 1287.9L1298.9 1287.0L1299.6 1288.0L1300.3 1289.3L1301.0 1289.5L1301.6 1288.1L1302.3 1283.3L1303.0 1287.9L1303.7 1286.9L1304.3 1284.6L1305.0 1283.8L1305.7 1279.4L1306.4 1281.2L1307.0 1283.9L1307.7 1285.0L1308.4 1281.6L1309.0 1279.4L1309.7 1280.3L1310.4 1280.9L1311.1 1277.5L1311.7 1279.1L1312.4 1279.5L1313.1 1280.0L1313.8 1276.2L1314.4 1274.2L1315.1 1275.6L1315.8 1273.8L1316.4 1273.2L1317.1 1271.2L1317.8 1271.2L1318.5 1268.2L1319.1 1269.3L1319.8 1266.4L1320.5 1264.1L1321.2 1268.4L1321.8 1264.8L1322.5 1262.9L1323.2 1260.8L1323.9 1256.8L1324.5 1262.4L1325.2 1262.6L1325.9 1259.0L1326.5 1261.3L1327.2 1258.7L1327.9 1260.2L1328.6 1260.1L1329.2 1257.2L1329.9 1257.3L1330.6 1260.0L1331.3 1257.0L1331.9 1255.2L1332.6 1255.0L1333.3 1259.7L1334.0 1264.8L1334.6 1261.5L1335.3 1263.1L1336.0 1264.5L1336.6 1263.1L1337.3 1267.1L1338.0 1260.2L1338.7 1265.0L1339.3 1269.1L1340.0 1267.3L1340.7 1270.0L1341.4 1271.0L1342.0 1269.2L1342.7 1266.5L1343.4 1268.7L1344.0 1272.4L1344.7 1277.4L1345.4 1274.1L1346.1 1269.9L1346.7 1275.0L1347.4 1276.0L1348.1 1276.9L1348.8 1278.4L1349.4 1270.7L1350.1 1283.2L1350.8 1280.2L1351.5 1279.7L1352.1 1279.3L1352.8 1276.9L1353.5 1279.1L1354.1 1284.1L1354.8 1282.3L1355.5 1282.9L1356.2 1282.1L1356.8 1282.1L1357.5 1283.2L1358.2 1285.3L1358.9 1285.4L1359.5 1285.1L1360.2 1281.3L1360.9 1283.0L1361.6 1283.5L1362.2 1282.1L1362.9 1285.3L1363.6 1282.6L1364.2 1288.8L1364.9 1285.1L1365.6 1284.5L1366.3 1282.8L1366.9 1284.1L1367.6 1287.4L1368.3 1282.0L1369.0 1284.5L1369.6 1287.9L1370.3 1281.1L1371.0 1286.3L1371.7 1284.7L1372.3 1288.2L1373.0 1284.5L1373.7 1283.8L1374.3 1286.1L1375.0 1289.7L1375.7 1285.9L1376.4 1286.7L1377.0 1286.6L1377.7 1284.3L1378.4 1285.0L1379.1 1284.9L1379.7 1286.0L1380.4 1285.0L1381.1 1284.6L1381.7 1282.1L1382.4 1288.8L1383.1 1285.1L1383.8 1285.0L1384.4 1286.7L1385.1 1288.2L1385.8 1285.5L1386.5 1285.8L1387.1 1283.1L1387.8 1285.0L1388.5 1285.1L1389.2 1282.8L1389.8 1284.6L1390.5 1280.9L1391.2 1285.7L1391.8 1279.8L1392.5 1284.0L1393.2 1280.6L1393.9 1283.4L1394.5 1284.9L1395.2 1279.1L1395.9 1281.9L1396.6 1282.0L1397.2 1279.4L1397.9 1280.6L1398.6 1283.9L1399.3 1279.3L1399.9 1280.8L1400.6 1278.7L1401.3 1279.2L1401.9 1281.9L1402.6 1282.9L1403.3 1277.5L1404.0 1280.9L1404.6 1280.4L1405.3 1275.2L1406.0 1279.7L1406.7 1276.3L1407.3 1276.2L1408.0 1276.1L1408.7 1276.4L1409.3 1277.7L1410.0 1278.5L1410.7 1279.0L1411.4 1273.1L1412.0 1279.0L1412.7 1272.7L1413.4 1269.9L1414.1 1274.4L1414.7 1273.7L1415.4 1274.4L1416.1 1273.4L1416.8 1273.5L1417.4 1268.5L1418.1 1268.9L1418.8 1267.7L1419.4 1269.0L1420.1 1266.0L1420.8 1269.7L1421.5 1266.7L1422.1 1266.2L1422.8 1262.5L1423.5 1261.4L1424.2 1260.5L1424.8 1260.2L1425.5 1252.9L1426.2 1254.3L1426.9 1256.8L1427.5 1253.5L1428.2 1252.5L1428.9 1248.5L1429.5 1245.2L1430.2 1245.4L1430.9 1241.9L1431.6 1243.5L1432.2 1239.9L1432.9 1238.8L1433.6 1237.7L1434.3 1232.3L1434.9 1230.4L1435.6 1229.4L1436.3 1229.1L1437.0 1232.6L1437.6 1226.0L1438.3 1224.3L1439.0 1226.8L1439.6 1226.3L1440.3 1221.2L1441.0 1221.2L1441.7 1215.9L1442.3 1214.6L1443.0 1212.9L1443.7 1214.5L1444.4 1211.1L1445.0 1210.2L1445.7 1206.4L1446.4 1206.0L1447.0 1209.0L1447.7 1208.1L1448.4 1212.4L1449.1 1207.9L1449.7 1211.3L1450.4 1209.4L1451.1 1207.2L1451.8 1208.1L1452.4 1212.5L1453.1 1215.7L1453.8 1213.0L1454.5 1222.0L1455.1 1222.4L1455.8 1224.8L1456.5 1224.3L1457.1 1228.1L1457.8 1229.6L1458.5 1224.9L1459.2 1230.6L1459.8 1240.1L1460.5 1234.6L1461.2 1239.8L1461.9 1241.7L1462.5 1241.6L1463.2 1243.7L1463.9 1250.3L1464.6 1240.3L1465.2 1243.2L1465.9 1252.7L1466.6 1252.5L1467.2 1249.8L1467.9 1257.4L1468.6 1252.4L1469.3 1254.2L1469.9 1257.9L1470.6 1258.3L1471.3 1261.0L1472.0 1260.7L1472.6 1261.5L1473.3 1263.8L1474.0 1267.6L1474.7 1264.1L1475.3 1264.5L1476.0 1268.7L1476.7 1267.1L1477.3 1273.1L1478.0 1273.7L1478.7 1268.7L1479.4 1266.9L1480.0 1270.0L1480.7 1274.5L1481.4 1273.3L1482.1 1278.0L1482.7 1273.8L1483.4 1275.6L1484.1 1277.3L1484.7 1280.4L1485.4 1275.5L1486.1 1278.9L1486.8 1278.2L1487.4 1278.8L1488.1 1277.5L1488.8 1277.8L1489.5 1278.7L1490.1 1279.0L1490.8 1276.4L1491.5 1278.7L1492.2 1279.4L1492.8 1281.4L1493.5 1279.1L1494.2 1283.7L1494.8 1277.0L1495.5 1277.5L1496.2 1279.0L1496.9 1280.3L1497.5 1282.7L1498.2 1280.8L1498.9 1280.4L1499.6 1279.3L1500.2 1276.8L1500.9 1282.5L1501.6 1280.6L1502.3 1277.5L1502.9 1278.7L1503.6 1279.1L1504.3 1281.3L1504.9 1281.6L1505.6 1282.1L1506.3 1280.4L1507.0 1282.9L1507.6 1282.6L1508.3 1281.7L1509.0 1283.9L1509.7 1283.6L1510.3 1284.4L1511.0 1286.2L1511.7 1284.5L1512.3 1290.5L1513.0 1288.0L1513.7 1287.8L1514.4 1289.3L1515.0 1287.6L1515.7 1290.5L1516.4 1283.9L1517.1 1288.9L1517.7 1287.7L1518.4 1286.1L1519.1 1291.2L1519.8 1291.2L1520.4 1288.8L1521.1 1292.2L1521.8 1293.7L1522.4 1289.4L1523.1 1291.4L1523.8 1291.1L1524.5 1288.7L1525.1 1288.7L1525.8 1291.4L1526.5 1286.9L1527.2 1289.1L1527.8 1290.4L1528.5 1290.6L1529.2 1289.1L1529.9 1290.4L1530.5 1292.2L1531.2 1291.7L1531.9 1293.0L1532.5 1292.8L1533.2 1292.5L1533.9 1289.9L1534.6 1291.1L1535.2 1291.2L1535.9 1292.9L1536.6 1290.6L1537.3 1289.5L1537.9 1290.9L1538.6 1288.8L1539.3 1291.0L1540.0 1294.9L1540.6 1288.9L1541.3 1294.7L1542.0 1289.8L1542.6 1291.0L1543.3 1292.2L1544.0 1292.0L1544.7 1292.0L1545.3 1293.0L1546.0 1293.9L1546.7 1294.8L1547.4 1291.1L1548.0 1290.0L1548.7 1288.6L1549.4 1291.5L1550.0 1290.2L1550.7 1291.2L1551.4 1287.7L1552.1 1293.2L1552.7 1293.1L1553.4 1291.6L1554.1 1291.9L1554.8 1288.0L1555.4 1291.0L1556.1 1290.7L1556.8 1288.9L1557.5 1292.8L1558.1 1289.2L1558.8 1290.3L1559.5 1292.7L1560.1 1290.6L1560.8 1292.5L1561.5 1290.9L1562.2 1289.3L1562.8 1290.5L1563.5 1289.7L1564.2 1290.8L1564.9 1291.6L1565.5 1292.6L1566.2 1293.0L1566.9 1288.5L1567.6 1289.9L1568.2 1289.5L1568.9 1290.9L1569.6 1290.0L1570.2 1288.7L1570.9 1286.8L1571.6 1288.2L1572.3 1286.2L1572.9 1285.6L1573.6 1289.3L1574.3 1287.1L1575.0 1286.6L1575.6 1289.9L1576.3 1288.3L1577.0 1293.7L1577.6 1292.0L1578.3 1290.7L1579.0 1288.9L1579.7 1288.2L1580.3 1293.7L1581.0 1288.9L1581.7 1285.1L1582.4 1288.7L1583.0 1288.7L1583.7 1288.7L1584.4 1283.2L1585.1 1290.4L1585.7 1285.8L1586.4 1285.8L1587.1 1285.7L1587.7 1284.5L1588.4 1285.7L1589.1 1284.1L1589.8 1287.1L1590.4 1282.8L1591.1 1282.0L1591.8 1282.1L1592.5 1285.2L1593.1 1285.0L1593.8 1281.1L1594.5 1280.2L1595.2 1280.9L1595.8 1280.9L1596.5 1279.1L1597.2 1282.5L1597.8 1277.2L1598.5 1277.7L1599.2 1276.0L1599.9 1277.1L1600.5 1277.4L1601.2 1275.9L1601.9 1275.6L1602.6 1272.3L1603.2 1276.2L1603.9 1273.1L1604.6 1272.7L1605.3 1271.6L1605.9 1273.8L1606.6 1273.2L1607.3 1270.5L1607.9 1266.2L1608.6 1268.0L1609.3 1262.9L1610.0 1262.2L1610.6 1258.2L1611.3 1257.9L1612.0 1261.2L1612.7 1256.2L1613.3 1253.3L1614.0 1256.6L1614.7 1251.0L1615.3 1250.9L1616.0 1243.6L1616.7 1241.1L1617.4 1238.6L1618.0 1242.0L1618.7 1234.2L1619.4 1239.5L1620.1 1240.0L1620.7 1234.6L1621.4 1231.7L1622.1 1232.6L1622.8 1226.6L1623.4 1232.2L1624.1 1226.4L1624.8 1226.2L1625.4 1220.9L1626.1 1224.9L1626.8 1221.4L1627.5 1214.7L1628.1 1216.0L1628.8 1211.2L1629.5 1206.6L1630.2 1201.3L1630.8 1202.5L1631.5 1195.3L1632.2 1204.6L1632.9 1195.8L1633.5 1205.4L1634.2 1190.9L1634.9 1189.5L1635.5 1189.8L1636.2 1201.2L1636.9 1192.7L1637.6 1202.0L1638.2 1198.7L1638.9 1198.1L1639.6 1202.3L1640.3 1205.9L1640.9 1209.0L1641.6 1211.7L1642.3 1205.5L1643.0 1213.5L1643.6 1212.1L1644.3 1214.5L1645.0 1219.1L1645.6 1216.3L1646.3 1220.2L1647.0 1224.8L1647.7 1216.8L1648.3 1222.3L1649.0 1222.7L1649.7 1222.5L1650.4 1231.2L1651.0 1237.9L1651.7 1237.7L1652.4 1237.2L1653.0 1245.1L1653.7 1247.5L1654.4 1252.2L1655.1 1255.0L1655.7 1252.5L1656.4 1252.9L1657.1 1255.3L1657.8 1259.8L1658.4 1252.3L1659.1 1259.0L1659.8 1264.0L1660.5 1262.1L1661.1 1263.7L1661.8 1266.6L1662.5 1267.1L1663.1 1266.5L1663.8 1270.7L1664.5 1273.2L1665.2 1277.0L1665.8 1278.9L1666.5 1276.1L1667.2 1275.4L1667.9 1272.8L1668.5 1281.8L1669.2 1279.4L1669.9 1281.5L1670.6 1282.8L1671.2 1282.9L1671.9 1282.8L1672.6 1284.0L1673.2 1286.8L1673.9 1282.4L1674.6 1287.2L1675.3 1288.2L1675.9 1292.9L1676.6 1287.8L1677.3 1288.1L1678.0 1290.1L1678.6 1292.1L1679.3 1288.7L1680.0 1293.5L1680.6 1293.4L1681.3 1289.1L1682.0 1289.4L1682.7 1295.6L1683.3 1293.4L1684.0 1296.9L1684.7 1293.2L1685.4 1290.2L1686.0 1293.5L1686.7 1293.3L1687.4 1296.7L1688.1 1295.5L1688.7 1292.9L1689.4 1293.6L1690.1 1296.6L1690.7 1300.2L1691.4 1297.5L1692.1 1299.4L1692.8 1293.5L1693.4 1298.2L1694.1 1298.3L1694.8 1299.6L1695.5 1298.5L1696.1 1294.5L1696.8 1298.4L1697.5 1299.3L1698.2 1301.4L1698.8 1300.2L1699.5 1301.2L1700.2 1299.3L1700.8 1301.3L1701.5 1300.6L1702.2 1300.8L1702.9 1300.0L1703.5 1300.9L1704.2 1301.6L1704.9 1301.6L1705.6 1295.8L1706.2 1301.2L1706.9 1303.3L1707.6 1303.2L1708.3 1300.8L1708.9 1303.0L1709.6 1301.2L1710.3 1303.0L1710.9 1301.0L1711.6 1302.8L1712.3 1300.9L1713.0 1302.7L1713.6 1303.3L1714.3 1303.5L1715.0 1303.7L1715.7 1305.9L1716.3 1302.3L1717.0 1303.7L1717.7 1302.0L1718.3 1303.5L1719.0 1302.9L1719.7 1300.7L1720.4 1303.1L1721.0 1302.5L1721.7 1301.8L1722.4 1301.9L1723.1 1304.5L1723.7 1302.8L1724.4 1302.7L1725.1 1304.2L1725.8 1303.9L1726.4 1304.6L1727.1 1305.1L1727.8 1301.7L1728.4 1304.4L1729.1 1305.8L1729.8 1304.6L1730.5 1305.1L1731.1 1304.6L1731.8 1305.9L1732.5 1303.3L1733.2 1303.2L1733.8 1298.5L1734.5 1304.8L1735.2 1305.6L1735.9 1302.9L1736.5 1302.6L1737.2 1304.3L1737.9 1300.5L1738.5 1301.5L1739.2 1300.2L1739.9 1305.2L1740.6 1303.3L1741.2 1300.9L1741.9 1303.9L1742.6 1302.9L1743.3 1303.5L1743.9 1306.4L1744.6 1302.1L1745.3 1306.4L1745.9 1300.8L1746.6 1302.2L1747.3 1302.6L1748.0 1301.2L1748.6 1301.5L1749.3 1304.2L1750.0 1301.9L1750.7 1303.4L1751.3 1302.7L1752.0 1303.5L1752.7 1303.0L1753.4 1301.4L1754.0 1302.9L1754.7 1303.4L1755.4 1302.5L1756.0 1304.2L1756.7 1303.5L1757.4 1299.0L1758.1 1299.2L1758.7 1297.0L1759.4 1299.1L1760.1 1301.2L1760.8 1299.1L1761.4 1298.6L1762.1 1299.8L1762.8 1302.7L1763.5 1299.9L1764.1 1300.5L1764.8 1301.8L1765.5 1298.7L1766.1 1298.3L1766.8 1297.9L1767.5 1300.9L1768.2 1300.4L1768.8 1300.0L1769.5 1298.5L1770.2 1300.3L1770.9 1299.8L1771.5 1298.2L1772.2 1303.7L1772.9 1300.1L1773.6 1300.3L1774.2 1301.3L1774.9 1301.1L1775.6 1302.4L1776.2 1300.0L1776.9 1301.8L1777.6 1299.2L1778.3 1301.4L1778.9 1304.2L1779.6 1302.3L1780.3 1303.9L1781.0 1299.6L1781.6 1299.0L1782.3 1300.4L1783.0 1297.5L1783.6 1300.1L1784.3 1300.8L1785.0 1299.6L1785.7 1300.6L1786.3 1299.3L1787.0 1301.0L1787.7 1300.8L1788.4 1301.4L1789.0 1298.6L1789.7 1297.8L1790.4 1298.0L1791.1 1299.8L1791.7 1299.8L1792.4 1301.4L1793.1 1299.5L1793.7 1299.1L1794.4 1302.6L1795.1 1298.0L1795.8 1299.2L1796.4 1300.3L1797.1 1300.8L1797.8 1301.1L1798.5 1300.4L1799.1 1299.3L1799.8 1298.3L1800.5 1301.4L1801.2 1298.6L1801.8 1300.0L1802.5 1296.5L1803.2 1297.0L1803.8 1297.9L1804.5 1301.3L1805.2 1300.1L1805.9 1299.7L1806.5 1295.6L1807.2 1300.1L1807.9 1298.6L1808.6 1299.1L1809.2 1299.8L1809.9 1296.9L1810.6 1298.4L1811.3 1297.7L1811.9 1296.6L1812.6 1298.0L1813.3 1298.7L1813.9 1296.6L1814.6 1297.9L1815.3 1300.1L1816.0 1298.5L1816.6 1299.6L1817.3 1299.3L1818.0 1298.6L1818.7 1298.5L1819.3 1298.3L1820.0 1297.6L1820.7 1298.7L1821.3 1297.6L1822.0 1295.7L1822.7 1296.6L1823.4 1295.0L1824.0 1297.5L1824.7 1296.9L1825.4 1299.1L1826.1 1296.5L1826.7 1300.8L1827.4 1298.8L1828.1 1296.7L1828.8 1301.7L1829.4 1298.9L1830.1 1297.8L1830.8 1298.6L1831.4 1295.1L1832.1 1297.5L1832.8 1296.9L1833.5 1297.0L1834.1 1299.8L1834.8 1300.0L1835.5 1301.4L1836.2 1297.2L1836.8 1297.4L1837.5 1296.7L1838.2 1297.6L1838.9 1298.0L1839.5 1296.1L1840.2 1300.2L1840.9 1297.0L1841.5 1297.6L1842.2 1295.1L1842.9 1297.8L1843.6 1297.9L1844.2 1296.1L1844.9 1299.3L1845.6 1297.0L1846.3 1294.9L1846.9 1295.0L1847.6 1297.1L1848.3 1297.2L1848.9 1296.7L1849.6 1298.3L1850.3 1298.0L1851.0 1299.0L1851.6 1295.7L1852.3 1296.5L1853.0 1300.5L1853.7 1297.9L1854.3 1296.7L1855.0 1297.9L1855.7 1300.1L1856.4 1297.2L1857.0 1299.3L1857.7 1295.9L1858.4 1297.9L1859.0 1296.7L1859.7 1297.2L1860.4 1296.6L1861.1 1297.4L1861.7 1295.6L1862.4 1297.3L1863.1 1296.9L1863.8 1298.0L1864.4 1299.1L1865.1 1300.7L1865.8 1295.8L1866.5 1296.5L1867.1 1294.7L1867.8 1296.3L1868.5 1295.9L1869.1 1294.7L1869.8 1297.0L1870.5 1297.2L1871.2 1294.4L1871.8 1296.9L1872.5 1298.7L1873.2 1295.8L1873.9 1293.9L1874.5 1294.0L1875.2 1296.4L1875.9 1297.1L1876.6 1296.1L1877.2 1296.2L1877.9 1296.3L1878.6 1296.7L1879.2 1295.1L1879.9 1298.6L1880.6 1300.9L1881.3 1297.7L1881.9 1295.7L1882.6 1296.9L1883.3 1295.0L1884.0 1296.0L1884.6 1297.9L1885.3 1296.9L1886.0 1297.8L1886.6 1294.4L1887.3 1295.6L1888.0 1299.0L1888.7 1297.8L1889.3 1293.4L1890.0 1299.7L1890.7 1297.2L1891.4 1296.2L1892.0 1299.1L1892.7 1298.6L1893.4 1295.6L1894.1 1295.1L1894.7 1298.8L1895.4 1297.8" fill="none" stroke="#0000ff" stroke-width="9.5" stroke-linejoin="round" stroke-linecap="butt" shape-rendering="crispEdges"/>
<path d="M212.4 1722.5L213.1 1720.9L213.7 1721.4L214.4 1721.4L215.1 1719.2L215.8 1722.3L216.4 1720.3L217.1 1722.7L217.8 1721.7L218.5 1724.0L219.1 1722.4L219.8 1722.7L220.5 1721.4L221.2 1723.8L221.8 1722.8L222.5 1723.9L223.2 1724.2L223.8 1724.0L224.5 1722.6L225.2 1720.2L225.9 1720.9L226.5 1723.4L227.2 1723.4L227.9 1723.7L228.6 1721.1L229.2 1720.5L229.9 1723.1L230.6 1723.1L231.2 1722.0L231.9 1722.0L232.6 1720.2L233.3 1721.5L233.9 1723.4L234.6 1720.3L235.3 1720.7L236.0 1721.0L236.6 1720.7L237.3 1718.8L238.0 1720.7L238.7 1720.8L239.3 1721.2L240.0 1721.3L240.7 1722.0L241.3 1720.8L242.0 1724.6L242.7 1722.2L243.4 1724.7L244.0 1724.8L244.7 1723.1L245.4 1721.3L246.1 1719.8L246.7 1720.5L247.4 1721.9L248.1 1722.4L248.8 1721.2L249.4 1721.7L250.1 1726.2L250.8 1723.2L251.4 1721.4L252.1 1723.8L252.8 1721.7L253.5 1719.6L254.1 1722.8L254.8 1721.3L255.5 1722.3L256.2 1724.6L256.8 1722.4L257.5 1721.2L258.2 1724.6L258.9 1719.8L259.5 1721.2L260.2 1724.8L260.9 1725.0L261.5 1722.7L262.2 1722.2L262.9 1723.6L263.6 1723.5L264.2 1723.3L264.9 1722.3L265.6 1721.1L266.3 1721.7L266.9 1722.0L267.6 1721.8L268.3 1721.2L268.9 1721.8L269.6 1719.5L270.3 1723.0L271.0 1723.7L271.6 1721.0L272.3 1720.0L273.0 1722.4L273.7 1722.8L274.3 1722.0L275.0 1723.7L275.7 1721.8L276.4 1721.1L277.0 1724.5L277.7 1721.8L278.4 1721.7L279.0 1719.1L279.7 1721.6L280.4 1721.4L281.1 1722.3L281.7 1723.4L282.4 1722.9L283.1 1721.1L283.8 1724.0L284.4 1723.1L285.1 1723.3L285.8 1722.5L286.5 1722.7L287.1 1720.8L287.8 1720.6L288.5 1721.8L289.1 1721.7L289.8 1722.7L290.5 1717.8L291.2 1721.2L291.8 1720.7L292.5 1723.3L293.2 1721.1L293.9 1721.3L294.5 1722.2L295.2 1722.9L295.9 1719.7L296.6 1720.6L297.2 1723.1L297.9 1722.5L298.6 1721.8L299.2 1723.7L299.9 1719.4L300.6 1721.5L301.3 1720.8L301.9 1721.9L302.6 1720.6L303.3 1722.0L304.0 1725.2L304.6 1722.6L305.3 1722.1L306.0 1724.0L306.6 1722.8L307.3 1724.9L308.0 1720.8L308.7 1720.3L309.3 1718.8L310.0 1720.0L310.7 1718.3L311.4 1722.7L312.0 1720.7L312.7 1721.3L313.4 1721.0L314.1 1721.2L314.7 1721.2L315.4 1719.9L316.1 1724.2L316.7 1721.7L317.4 1724.6L318.1 1723.0L318.8 1720.1L319.4 1721.2L320.1 1721.1L320.8 1720.7L321.5 1720.7L322.1 1721.3L322.8 1720.5L323.5 1720.2L324.2 1721.2L324.8 1720.9L325.5 1719.9L326.2 1720.9L326.8 1719.5L327.5 1720.3L328.2 1719.6L328.9 1721.1L329.5 1717.1L330.2 1722.0L330.9 1719.3L331.6 1721.8L332.2 1719.7L332.9 1720.6L333.6 1721.8L334.2 1720.9L334.9 1720.8L335.6 1721.3L336.3 1723.6L336.9 1719.3L337.6 1721.6L338.3 1723.7L339.0 1721.5L339.6 1724.1L340.3 1719.0L341.0 1720.2L341.7 1721.3L342.3 1720.6L343.0 1720.5L343.7 1721.9L344.3 1719.3L345.0 1721.0L345.7 1720.8L346.4 1720.0L347.0 1723.2L347.7 1719.8L348.4 1723.4L349.1 1719.9L349.7 1721.7L350.4 1721.8L351.1 1720.5L351.8 1722.7L352.4 1723.5L353.1 1722.7L353.8 1721.7L354.4 1723.4L355.1 1722.4L355.8 1721.9L356.5 1717.3L357.1 1721.0L357.8 1722.3L358.5 1719.3L359.2 1716.5L359.8 1719.3L360.5 1720.1L361.2 1718.0L361.9 1719.7L362.5 1720.9L363.2 1719.2L363.9 1719.8L364.5 1722.6L365.2 1720.5L365.9 1719.0L366.6 1721.1L367.2 1721.3L367.9 1720.6L368.6 1720.5L369.3 1719.7L369.9 1724.9L370.6 1720.0L371.3 1721.7L371.9 1722.5L372.6 1723.4L373.3 1721.5L374.0 1722.5L374.6 1721.3L375.3 1722.7L376.0 1719.6L376.7 1724.0L377.3 1722.8L378.0 1723.5L378.7 1722.3L379.4 1719.6L380.0 1721.0L380.7 1721.8L381.4 1724.1L382.0 1721.8L382.7 1723.3L383.4 1721.8L384.1 1720.6L384.7 1721.2L385.4 1722.6L386.1 1723.0L386.8 1721.0L387.4 1722.4L388.1 1722.6L388.8 1723.5L389.5 1724.2L390.1 1720.6L390.8 1721.3L391.5 1719.7L392.1 1724.8L392.8 1722.4L393.5 1720.2L394.2 1725.4L394.8 1722.3L395.5 1722.9L396.2 1723.4L396.9 1724.2L397.5 1720.6L398.2 1723.2L398.9 1724.5L399.5 1724.0L400.2 1723.2L400.9 1722.5L401.6 1721.2L402.2 1719.0L402.9 1720.7L403.6 1723.7L404.3 1723.2L404.9 1722.0L405.6 1723.0L406.3 1725.5L407.0 1723.0L407.6 1722.6L408.3 1727.6L409.0 1723.8L409.6 1722.7L410.3 1725.4L411.0 1722.4L411.7 1723.4L412.3 1723.6L413.0 1725.3L413.7 1722.4L414.4 1724.7L415.0 1721.8L415.7 1723.8L416.4 1724.2L417.1 1724.5L417.7 1726.9L418.4 1723.6L419.1 1723.3L419.7 1722.8L420.4 1722.7L421.1 1723.7L421.8 1723.3L422.4 1724.6L423.1 1722.4L423.8 1724.1L424.5 1723.8L425.1 1723.3L425.8 1723.7L426.5 1723.5L427.2 1722.8L427.8 1722.7L428.5 1720.6L429.2 1721.1L429.8 1722.4L430.5 1723.3L431.2 1723.4L431.9 1722.4L432.5 1721.7L433.2 1723.2L433.9 1722.8L434.6 1721.3L435.2 1723.7L435.9 1724.0L436.6 1722.3L437.2 1720.1L437.9 1722.0L438.6 1722.0L439.3 1719.8L439.9 1722.3L440.6 1721.6L441.3 1722.8L442.0 1720.7L442.6 1721.6L443.3 1721.8L444.0 1723.2L444.7 1720.4L445.3 1721.7L446.0 1724.1L446.7 1721.1L447.3 1719.7L448.0 1723.0L448.7 1722.6L449.4 1719.1L450.0 1721.8L450.7 1719.8L451.4 1722.0L452.1 1723.5L452.7 1723.2L453.4 1720.1L454.1 1720.2L454.8 1723.4L455.4 1721.5L456.1 1720.1L456.8 1720.5L457.4 1718.6L458.1 1717.7L458.8 1718.4L459.5 1721.4L460.1 1719.6L460.8 1721.9L461.5 1722.0L462.2 1720.7L462.8 1718.8L463.5 1718.9L464.2 1718.4L464.9 1719.8L465.5 1721.5L466.2 1720.1L466.9 1722.9L467.5 1720.6L468.2 1719.1L468.9 1717.5L469.6 1718.2L470.2 1717.1L470.9 1719.7L471.6 1718.6L472.3 1721.5L472.9 1719.6L473.6 1719.7L474.3 1717.4L474.9 1718.1L475.6 1720.2L476.3 1719.8L477.0 1718.5L477.6 1719.1L478.3 1720.2L479.0 1720.8L479.7 1720.2L480.3 1718.8L481.0 1718.7L481.7 1719.9L482.4 1718.8L483.0 1716.2L483.7 1716.9L484.4 1719.0L485.0 1720.4L485.7 1719.3L486.4 1716.6L487.1 1715.8L487.7 1720.8L488.4 1717.5L489.1 1716.0L489.8 1716.7L490.4 1717.1L491.1 1715.8L491.8 1715.8L492.5 1717.9L493.1 1714.0L493.8 1713.7L494.5 1714.5L495.1 1713.5L495.8 1712.7L496.5 1713.0L497.2 1711.0L497.8 1712.5L498.5 1711.4L499.2 1714.8L499.9 1711.2L500.5 1712.1L501.2 1713.5L501.9 1710.3L502.5 1711.2L503.2 1708.5L503.9 1708.1L504.6 1707.5L505.2 1707.1L505.9 1707.4L506.6 1702.7L507.3 1706.9L507.9 1706.0L508.6 1704.0L509.3 1702.7L510.0 1703.7L510.6 1702.4L511.3 1706.8L512.0 1704.3L512.6 1701.9L513.3 1700.8L514.0 1702.3L514.7 1698.6L515.3 1698.7L516.0 1701.8L516.7 1695.5L517.4 1697.5L518.0 1694.9L518.7 1695.1L519.4 1694.2L520.1 1691.0L520.7 1692.2L521.4 1688.6L522.1 1689.7L522.7 1686.1L523.4 1688.2L524.1 1687.0L524.8 1681.6L525.4 1673.4L526.1 1675.9L526.8 1675.5L527.5 1670.4L528.1 1670.2L528.8 1673.1L529.5 1666.2L530.2 1665.6L530.8 1667.5L531.5 1658.3L532.2 1656.4L532.8 1657.4L533.5 1650.8L534.2 1652.1L534.9 1651.1L535.5 1647.6L536.2 1641.6L536.9 1637.4L537.6 1636.7L538.2 1631.5L538.9 1628.5L539.6 1629.4L540.2 1614.6L540.9 1620.8L541.6 1611.8L542.3 1614.1L542.9 1608.2L543.6 1605.1L544.3 1602.7L545.0 1605.7L545.6 1601.1L546.3 1601.8L547.0 1591.3L547.7 1593.2L548.3 1592.6L549.0 1594.9L549.7 1601.3L550.3 1603.4L551.0 1600.5L551.7 1598.1L552.4 1606.9L553.0 1606.9L553.7 1612.1L554.4 1619.4L555.1 1623.0L555.7 1631.4L556.4 1625.1L557.1 1626.8L557.8 1629.1L558.4 1643.2L559.1 1637.7L559.8 1645.3L560.4 1652.4L561.1 1648.4L561.8 1656.1L562.5 1654.7L563.1 1663.6L563.8 1659.9L564.5 1665.2L565.2 1667.8L565.8 1670.8L566.5 1676.1L567.2 1678.3L567.8 1680.6L568.5 1682.6L569.2 1677.6L569.9 1683.6L570.5 1689.1L571.2 1690.5L571.9 1691.0L572.6 1689.4L573.2 1693.0L573.9 1691.5L574.6 1691.0L575.3 1695.6L575.9 1694.6L576.6 1695.6L577.3 1698.1L577.9 1699.6L578.6 1698.3L579.3 1697.7L580.0 1700.3L580.6 1700.5L581.3 1702.4L582.0 1703.9L582.7 1702.6L583.3 1702.6L584.0 1700.7L584.7 1703.9L585.4 1703.2L586.0 1705.2L586.7 1706.5L587.4 1706.1L588.0 1705.3L588.7 1707.8L589.4 1710.6L590.1 1705.5L590.7 1709.2L591.4 1709.6L592.1 1709.5L592.8 1709.0L593.4 1707.3L594.1 1708.0L594.8 1710.4L595.5 1707.2L596.1 1708.3L596.8 1708.0L597.5 1711.3L598.1 1712.3L598.8 1708.5L599.5 1709.2L600.2 1705.5L600.8 1711.9L601.5 1712.5L602.2 1711.5L602.9 1708.8L603.5 1711.7L604.2 1714.7L604.9 1709.4L605.5 1710.2L606.2 1713.5L606.9 1710.4L607.6 1712.8L608.2 1710.1L608.9 1710.9L609.6 1708.7L610.3 1710.8L610.9 1712.6L611.6 1712.7L612.3 1714.6L613.0 1714.1L613.6 1712.6L614.3 1715.3L615.0 1715.6L615.6 1713.5L616.3 1714.4L617.0 1714.9L617.7 1713.8L618.3 1712.0L619.0 1713.0L619.7 1712.3L620.4 1709.6L621.0 1711.6L621.7 1712.7L622.4 1711.9L623.1 1710.5L623.7 1717.3L624.4 1716.6L625.1 1716.7L625.7 1715.1L626.4 1713.0L627.1 1708.2L627.8 1714.7L628.4 1715.4L629.1 1710.2L629.8 1712.4L630.5 1711.5L631.1 1714.1L631.8 1709.2L632.5 1714.2L633.2 1712.7L633.8 1709.8L634.5 1709.9L635.2 1713.8L635.8 1715.4L636.5 1711.6L637.2 1712.0L637.9 1711.5L638.5 1713.2L639.2 1711.2L639.9 1709.8L640.6 1708.9L641.2 1708.4L641.9 1710.7L642.6 1711.4L643.2 1709.4L643.9 1710.2L644.6 1707.8L645.3 1711.6L645.9 1710.4L646.6 1712.6L647.3 1706.8L648.0 1712.1L648.6 1709.1L649.3 1708.9L650.0 1709.1L650.7 1707.1L651.3 1709.4L652.0 1709.4L652.7 1708.2L653.3 1710.7L654.0 1709.6L654.7 1707.9L655.4 1708.5L656.0 1708.2L656.7 1709.6L657.4 1712.9L658.1 1707.9L658.7 1710.3L659.4 1704.3L660.1 1704.8L660.8 1705.1L661.4 1706.3L662.1 1705.9L662.8 1708.5L663.4 1705.8L664.1 1705.7L664.8 1707.5L665.5 1703.3L666.1 1704.9L666.8 1706.3L667.5 1702.6L668.2 1706.4L668.8 1703.0L669.5 1700.9L670.2 1700.6L670.8 1701.0L671.5 1693.9L672.2 1699.7L672.9 1696.2L673.5 1701.3L674.2 1694.5L674.9 1697.6L675.6 1699.9L676.2 1701.7L676.9 1697.0L677.6 1696.9L678.3 1696.4L678.9 1693.8L679.6 1693.1L680.3 1691.7L680.9 1693.7L681.6 1694.3L682.3 1690.1L683.0 1691.0L683.6 1688.8L684.3 1683.3L685.0 1687.0L685.7 1682.1L686.3 1685.0L687.0 1684.0L687.7 1682.2L688.4 1681.9L689.0 1679.2L689.7 1676.0L690.4 1680.4L691.0 1674.8L691.7 1678.4L692.4 1674.8L693.1 1664.9L693.7 1662.6L694.4 1665.5L695.1 1660.9L695.8 1657.0L696.4 1654.1L697.1 1653.4L697.8 1651.5L698.5 1646.4L699.1 1646.0L699.8 1641.4L700.5 1640.0L701.1 1633.7L701.8 1636.6L702.5 1629.7L703.2 1622.3L703.8 1618.2L704.5 1621.0L705.2 1618.3L705.9 1610.7L706.5 1598.7L707.2 1596.8L707.9 1592.5L708.5 1582.8L709.2 1581.0L709.9 1574.7L710.6 1566.5L711.2 1561.9L711.9 1548.6L712.6 1538.1L713.3 1525.8L713.9 1525.0L714.6 1504.1L715.3 1513.0L716.0 1500.7L716.6 1489.9L717.3 1473.8L718.0 1468.8L718.6 1454.6L719.3 1448.1L720.0 1445.0L720.7 1432.9L721.3 1424.1L722.0 1422.5L722.7 1413.9L723.4 1411.7L724.0 1411.4L724.7 1405.0L725.4 1410.3L726.1 1420.0L726.7 1426.3L727.4 1421.9L728.1 1432.3L728.7 1434.6L729.4 1446.8L730.1 1442.6L730.8 1461.6L731.4 1479.7L732.1 1474.4L732.8 1490.3L733.5 1493.8L734.1 1512.2L734.8 1511.3L735.5 1532.2L736.1 1534.5L736.8 1536.6L737.5 1551.8L738.2 1555.7L738.8 1565.1L739.5 1573.3L740.2 1587.4L740.9 1590.0L741.5 1601.1L742.2 1600.6L742.9 1607.0L743.6 1600.3L744.2 1613.4L744.9 1620.6L745.6 1623.6L746.2 1632.9L746.9 1629.1L747.6 1638.0L748.3 1641.0L748.9 1641.6L749.6 1646.3L750.3 1649.6L751.0 1655.7L751.6 1657.9L752.3 1662.3L753.0 1664.0L753.7 1661.8L754.3 1666.6L755.0 1666.8L755.7 1674.9L756.3 1680.3L757.0 1678.0L757.7 1680.4L758.4 1682.1L759.0 1680.8L759.7 1686.3L760.4 1683.7L761.1 1687.1L761.7 1683.7L762.4 1692.3L763.1 1691.0L763.8 1689.8L764.4 1691.0L765.1 1694.4L765.8 1690.2L766.4 1695.2L767.1 1697.5L767.8 1696.4L768.5 1699.4L769.1 1698.7L769.8 1698.7L770.5 1703.7L771.2 1701.3L771.8 1704.0L772.5 1702.9L773.2 1702.4L773.8 1704.5L774.5 1701.7L775.2 1702.3L775.9 1703.9L776.5 1705.7L777.2 1706.1L777.9 1708.8L778.6 1703.0L779.2 1705.3L779.9 1709.7L780.6 1705.2L781.3 1709.3L781.9 1707.4L782.6 1705.7L783.3 1708.3L783.9 1705.2L784.6 1713.6L785.3 1710.0L786.0 1709.0L786.6 1707.4L787.3 1709.6L788.0 1711.6L788.7 1709.3L789.3 1713.2L790.0 1709.7L790.7 1710.5L791.4 1709.4L792.0 1708.8L792.7 1715.4L793.4 1711.7L794.0 1710.8L794.7 1716.3L795.4 1711.4L796.1 1715.8L796.7 1717.3L797.4 1719.2L798.1 1719.2L798.8 1717.8L799.4 1721.9L800.1 1717.4L800.8 1716.9L801.5 1715.7L802.1 1720.9L802.8 1721.0L803.5 1722.1L804.1 1719.1L804.8 1717.7L805.5 1719.6L806.2 1723.5L806.8 1724.2L807.5 1717.7L808.2 1724.1L808.9 1723.7L809.5 1722.3L810.2 1721.9L810.9 1721.6L811.5 1721.5L812.2 1722.2L812.9 1722.0L813.6 1725.2L814.2 1724.5L814.9 1723.4L815.6 1724.6L816.3 1724.7L816.9 1725.2L817.6 1722.9L818.3 1724.2L819.0 1723.9L819.6 1722.7L820.3 1725.2L821.0 1722.0L821.6 1725.6L822.3 1722.2L823.0 1726.0L823.7 1728.3L824.3 1727.1L825.0 1726.1L825.7 1725.6L826.4 1727.0L827.0 1723.0L827.7 1724.7L828.4 1724.9L829.1 1724.7L829.7 1725.1L830.4 1726.0L831.1 1726.9L831.7 1725.2L832.4 1727.4L833.1 1726.1L833.8 1727.7L834.4 1726.4L835.1 1724.5L835.8 1724.2L836.5 1730.0L837.1 1726.0L837.8 1722.9L838.5 1723.2L839.1 1726.8L839.8 1725.1L840.5 1727.4L841.2 1725.5L841.8 1727.8L842.5 1727.8L843.2 1725.5L843.9 1726.9L844.5 1727.0L845.2 1729.0L845.9 1724.6L846.6 1726.3L847.2 1725.9L847.9 1727.3L848.6 1729.7L849.2 1727.8L849.9 1723.1L850.6 1727.3L851.3 1727.5L851.9 1725.2L852.6 1725.0L853.3 1728.1L854.0 1726.2L854.6 1726.9L855.3 1727.8L856.0 1726.0L856.7 1729.4L857.3 1727.6L858.0 1728.4L858.7 1726.6L859.3 1728.7L860.0 1727.9L860.7 1727.7L861.4 1727.8L862.0 1724.8L862.7 1725.8L863.4 1725.3L864.1 1728.3L864.7 1726.5L865.4 1725.9L866.1 1726.1L866.8 1727.2L867.4 1726.3L868.1 1726.9L868.8 1727.4L869.4 1725.1L870.1 1726.4L870.8 1727.9L871.5 1726.4L872.1 1729.5L872.8 1731.5L873.5 1728.4L874.2 1729.1L874.8 1728.4L875.5 1729.3L876.2 1729.6L876.8 1729.3L877.5 1729.2L878.2 1728.0L878.9 1729.8L879.5 1729.7L880.2 1730.2L880.9 1730.0L881.6 1727.2L882.2 1727.5L882.9 1727.6L883.6 1728.6L884.3 1725.7L884.9 1728.7L885.6 1726.7L886.3 1726.8L886.9 1728.7L887.6 1726.2L888.3 1726.4L889.0 1727.4L889.6 1727.0L890.3 1726.3L891.0 1726.7L891.7 1724.8L892.3 1730.4L893.0 1726.1L893.7 1725.4L894.4 1726.7L895.0 1727.1L895.7 1726.1L896.4 1726.4L897.0 1725.1L897.7 1727.8L898.4 1729.7L899.1 1729.2L899.7 1729.0L900.4 1727.2L901.1 1727.9L901.8 1729.1L902.4 1729.6L903.1 1726.2L903.8 1727.2L904.4 1728.8L905.1 1726.4L905.8 1725.4L906.5 1726.1L907.1 1725.9L907.8 1724.0L908.5 1726.0L909.2 1724.6L909.8 1724.8L910.5 1723.4L911.2 1723.7L911.9 1724.1L912.5 1724.7L913.2 1724.0L913.9 1727.9L914.5 1727.3L915.2 1729.7L915.9 1726.5L916.6 1728.2L917.2 1726.5L917.9 1724.5L918.6 1724.3L919.3 1725.5L919.9 1723.5L920.6 1724.9L921.3 1722.4L922.0 1726.1L922.6 1722.3L923.3 1724.9L924.0 1725.3L924.6 1724.2L925.3 1725.2L926.0 1727.8L926.7 1723.2L927.3 1722.6L928.0 1726.4L928.7 1725.6L929.4 1724.8L930.0 1725.8L930.7 1724.1L931.4 1725.8L932.1 1723.7L932.7 1722.6L933.4 1722.2L934.1 1725.2L934.7 1724.7L935.4 1725.6L936.1 1722.8L936.8 1725.1L937.4 1721.6L938.1 1724.5L938.8 1724.8L939.5 1722.4L940.1 1724.9L940.8 1723.9L941.5 1723.5L942.1 1722.4L942.8 1721.7L943.5 1727.0L944.2 1723.5L944.8 1721.8L945.5 1724.3L946.2 1721.7L946.9 1720.0L947.5 1722.3L948.2 1723.3L948.9 1723.0L949.6 1723.1L950.2 1722.6L950.9 1723.9L951.6 1723.1L952.2 1719.7L952.9 1722.7L953.6 1720.2L954.3 1717.8L954.9 1719.4L955.6 1718.9L956.3 1722.0L957.0 1719.5L957.6 1717.5L958.3 1719.5L959.0 1717.3L959.7 1716.9L960.3 1718.1L961.0 1716.8L961.7 1717.7L962.3 1714.9L963.0 1716.1L963.7 1716.7L964.4 1714.4L965.0 1715.1L965.7 1717.4L966.4 1713.6L967.1 1711.7L967.7 1711.0L968.4 1714.0L969.1 1711.8L969.8 1710.3L970.4 1706.9L971.1 1710.1L971.8 1706.5L972.4 1708.6L973.1 1704.5L973.8 1701.6L974.5 1705.1L975.1 1701.2L975.8 1699.8L976.5 1699.0L977.2 1696.0L977.8 1695.5L978.5 1692.8L979.2 1697.3L979.8 1692.8L980.5 1694.3L981.2 1694.0L981.9 1694.7L982.5 1691.4L983.2 1696.5L983.9 1688.2L984.6 1692.3L985.2 1694.6L985.9 1692.2L986.6 1698.8L987.3 1696.9L987.9 1693.4L988.6 1694.7L989.3 1699.1L989.9 1699.4L990.6 1703.6L991.3 1700.7L992.0 1699.0L992.6 1707.0L993.3 1706.7L994.0 1707.8L994.7 1707.6L995.3 1711.1L996.0 1706.3L996.7 1710.3L997.4 1711.5L998.0 1710.2L998.7 1713.7L999.4 1715.0L1000.0 1715.1L1000.7 1715.1L1001.4 1715.2L1002.1 1716.9L1002.7 1717.3L1003.4 1718.5L1004.1 1716.7L1004.8 1719.5L1005.4 1717.4L1006.1 1719.7L1006.8 1719.3L1007.4 1719.4L1008.1 1719.0L1008.8 1719.5L1009.5 1717.4L1010.1 1718.8L1010.8 1720.4L1011.5 1722.4L1012.2 1719.9L1012.8 1720.4L1013.5 1721.0L1014.2 1727.2L1014.9 1723.2L1015.5 1724.1L1016.2 1724.7L1016.9 1725.0L1017.5 1723.2L1018.2 1724.9L1018.9 1723.4L1019.6 1723.4L1020.2 1723.3L1020.9 1724.2L1021.6 1724.7L1022.3 1723.7L1022.9 1725.5L1023.6 1724.9L1024.3 1726.9L1025.0 1725.7L1025.6 1723.8L1026.3 1726.3L1027.0 1724.8L1027.6 1726.2L1028.3 1725.8L1029.0 1724.3L1029.7 1724.5L1030.3 1726.6L1031.0 1727.5L1031.7 1723.4L1032.4 1727.5L1033.0 1727.4L1033.7 1725.7L1034.4 1727.4L1035.1 1730.0L1035.7 1728.7L1036.4 1729.5L1037.1 1730.2L1037.7 1727.5L1038.4 1727.9L1039.1 1727.4L1039.8 1725.6L1040.4 1729.8L1041.1 1725.6L1041.8 1726.9L1042.5 1728.1L1043.1 1727.7L1043.8 1731.0L1044.5 1726.3L1045.1 1727.0L1045.8 1727.8L1046.5 1725.4L1047.2 1728.6L1047.8 1727.3L1048.5 1727.1L1049.2 1726.5L1049.9 1728.6L1050.5 1729.3L1051.2 1726.5L1051.9 1725.8L1052.6 1726.1L1053.2 1727.5L1053.9 1726.5L1054.6 1723.1L1055.2 1725.8L1055.9 1724.0L1056.6 1727.7L1057.3 1727.8L1057.9 1726.8L1058.6 1723.4L1059.3 1724.5L1060.0 1729.3L1060.6 1730.7L1061.3 1728.1L1062.0 1727.9L1062.7 1726.1L1063.3 1726.5L1064.0 1728.1L1064.7 1726.6L1065.3 1727.5L1066.0 1725.5L1066.7 1727.4L1067.4 1725.6L1068.0 1729.8L1068.7 1726.8L1069.4 1727.2L1070.1 1728.5L1070.7 1728.7L1071.4 1730.5L1072.1 1727.6L1072.7 1732.0L1073.4 1730.2L1074.1 1729.4L1074.8 1729.0L1075.4 1728.9L1076.1 1726.4L1076.8 1728.5L1077.5 1731.9L1078.1 1730.9L1078.8 1731.8L1079.5 1729.3L1080.2 1730.0L1080.8 1729.4L1081.5 1728.6L1082.2 1727.9L1082.8 1729.0L1083.5 1725.6L1084.2 1729.6L1084.9 1727.1L1085.5 1729.1L1086.2 1726.0L1086.9 1729.4L1087.6 1730.0L1088.2 1729.9L1088.9 1729.8L1089.6 1732.1L1090.3 1728.9L1090.9 1727.1L1091.6 1729.9L1092.3 1728.6L1092.9 1731.5L1093.6 1730.7L1094.3 1730.4L1095.0 1728.7L1095.6 1730.0L1096.3 1730.9L1097.0 1727.7L1097.7 1730.3L1098.3 1731.8L1099.0 1728.0L1099.7 1729.6L1100.4 1730.8L1101.0 1730.1L1101.7 1728.3L1102.4 1729.1L1103.0 1729.4L1103.7 1729.1L1104.4 1728.5L1105.1 1727.8L1105.7 1728.7L1106.4 1728.5L1107.1 1727.7L1107.8 1728.3L1108.4 1728.0L1109.1 1728.6L1109.8 1730.5L1110.4 1729.9L1111.1 1726.8L1111.8 1726.3L1112.5 1729.6L1113.1 1730.0L1113.8 1727.4L1114.5 1727.1L1115.2 1726.6L1115.8 1726.3L1116.5 1728.3L1117.2 1726.6L1117.9 1728.8L1118.5 1727.9L1119.2 1727.3L1119.9 1729.3L1120.5 1728.5L1121.2 1730.2L1121.9 1728.2L1122.6 1726.9L1123.2 1731.1L1123.9 1728.5L1124.6 1729.4L1125.3 1731.2L1125.9 1730.3L1126.6 1729.3L1127.3 1730.6L1128.0 1731.8L1128.6 1730.9L1129.3 1729.2L1130.0 1729.5L1130.6 1729.0L1131.3 1727.5L1132.0 1727.7L1132.7 1727.9L1133.3 1730.2L1134.0 1728.2L1134.7 1733.3L1135.4 1729.1L1136.0 1730.8L1136.7 1729.8L1137.4 1730.4L1138.1 1728.1L1138.7 1729.5L1139.4 1728.8L1140.1 1729.2L1140.7 1729.7L1141.4 1729.5L1142.1 1728.1L1142.8 1729.5L1143.4 1729.6L1144.1 1729.1L1144.8 1728.3L1145.5 1729.5L1146.1 1729.4L1146.8 1729.5L1147.5 1729.9L1148.1 1731.0L1148.8 1731.4L1149.5 1728.9L1150.2 1728.9L1150.8 1730.2L1151.5 1730.2L1152.2 1728.6L1152.9 1729.9L1153.5 1730.9L1154.2 1728.0L1154.9 1730.2L1155.6 1726.4L1156.2 1729.1L1156.9 1731.3L1157.6 1728.0L1158.2 1726.9L1158.9 1728.8L1159.6 1725.9L1160.3 1730.2L1160.9 1727.7L1161.6 1728.8L1162.3 1729.6L1163.0 1728.4L1163.6 1729.8L1164.3 1729.3L1165.0 1730.2L1165.7 1730.2L1166.3 1728.5L1167.0 1731.5L1167.7 1730.1L1168.3 1729.4L1169.0 1731.0L1169.7 1730.2L1170.4 1730.5L1171.0 1730.3L1171.7 1729.7L1172.4 1729.3L1173.1 1728.3L1173.7 1728.5L1174.4 1730.2L1175.1 1728.6L1175.7 1729.6L1176.4 1729.5L1177.1 1730.8L1177.8 1731.0L1178.4 1728.8L1179.1 1727.5L1179.8 1726.9L1180.5 1725.7L1181.1 1727.5L1181.8 1727.0L1182.5 1730.2L1183.2 1728.6L1183.8 1727.3L1184.5 1728.8L1185.2 1728.9L1185.8 1728.5L1186.5 1728.4L1187.2 1728.6L1187.9 1729.1L1188.5 1730.3L1189.2 1728.0L1189.9 1726.7L1190.6 1728.8L1191.2 1728.6L1191.9 1725.8L1192.6 1728.4L1193.3 1728.6L1193.9 1728.2L1194.6 1727.5L1195.3 1728.5L1195.9 1726.4L1196.6 1728.1L1197.3 1729.8L1198.0 1726.6L1198.6 1730.3L1199.3 1727.6L1200.0 1728.5L1200.7 1729.7L1201.3 1727.8L1202.0 1728.1L1202.7 1726.2L1203.4 1730.7L1204.0 1729.8L1204.7 1729.6L1205.4 1728.9L1206.0 1729.9L1206.7 1732.5L1207.4 1733.2L1208.1 1727.4L1208.7 1728.1L1209.4 1729.3L1210.1 1731.2L1210.8 1731.0L1211.4 1727.6L1212.1 1727.9L1212.8 1728.3L1213.4 1729.7L1214.1 1728.3L1214.8 1729.3L1215.5 1729.7L1216.1 1727.2L1216.8 1728.3L1217.5 1730.4L1218.2 1727.6L1218.8 1727.8L1219.5 1729.0L1220.2 1730.2L1220.9 1726.9L1221.5 1730.1L1222.2 1727.8L1222.9 1729.8L1223.5 1725.3L1224.2 1729.7L1224.9 1727.9L1225.6 1726.4L1226.2 1729.1L1226.9 1726.5L1227.6 1727.4L1228.3 1728.1L1228.9 1728.8L1229.6 1729.1L1230.3 1727.8L1231.0 1727.9L1231.6 1727.2L1232.3 1729.8L1233.0 1730.3L1233.6 1730.0L1234.3 1730.3L1235.0 1732.2L1235.7 1729.8L1236.3 1727.8L1237.0 1729.1L1237.7 1729.4L1238.4 1729.2L1239.0 1729.9L1239.7 1730.4L1240.4 1726.4L1241.0 1725.8L1241.7 1728.7L1242.4 1727.2L1243.1 1730.9L1243.7 1727.9L1244.4 1729.8L1245.1 1729.4L1245.8 1734.0L1246.4 1726.9L1247.1 1731.5L1247.8 1727.3L1248.5 1726.7L1249.1 1729.2L1249.8 1729.4L1250.5 1729.7L1251.1 1730.0L1251.8 1729.6L1252.5 1728.3L1253.2 1728.4L1253.8 1730.3L1254.5 1729.2L1255.2 1730.1L1255.9 1731.8L1256.5 1727.5L1257.2 1728.4L1257.9 1728.7L1258.6 1726.1L1259.2 1727.9L1259.9 1729.0L1260.6 1726.7L1261.2 1729.3L1261.9 1726.8L1262.6 1726.8L1263.3 1726.1L1263.9 1727.2L1264.6 1728.0L1265.3 1727.0L1266.0 1727.5L1266.6 1727.7L1267.3 1724.2L1268.0 1725.8L1268.7 1725.5L1269.3 1726.8L1270.0 1728.2L1270.7 1725.9L1271.3 1727.1L1272.0 1727.9L1272.7 1725.9L1273.4 1725.3L1274.0 1725.9L1274.7 1728.9L1275.4 1724.3L1276.1 1730.0L1276.7 1724.7L1277.4 1724.9L1278.1 1722.7L1278.7 1723.8L1279.4 1727.5L1280.1 1725.8L1280.8 1727.0L1281.4 1725.8L1282.1 1723.7L1282.8 1724.8L1283.5 1724.9L1284.1 1723.9L1284.8 1724.1L1285.5 1725.5L1286.2 1726.0L1286.8 1725.7L1287.5 1726.2L1288.2 1725.3L1288.8 1723.3L1289.5 1723.7L1290.2 1722.9L1290.9 1725.7L1291.5 1726.8L1292.2 1723.9L1292.9 1722.3L1293.6 1722.7L1294.2 1725.4L1294.9 1723.2L1295.6 1724.0L1296.3 1724.9L1296.9 1723.5L1297.6 1721.3L1298.3 1720.3L1298.9 1717.7L1299.6 1723.0L1300.3 1719.6L1301.0 1722.2L1301.6 1721.6L1302.3 1720.4L1303.0 1718.9L1303.7 1715.3L1304.3 1718.5L1305.0 1713.4L1305.7 1717.3L1306.4 1714.5L1307.0 1713.1L1307.7 1714.1L1308.4 1711.5L1309.0 1716.3L1309.7 1711.1L1310.4 1712.3L1311.1 1711.2L1311.7 1706.8L1312.4 1706.4L1313.1 1705.2L1313.8 1704.9L1314.4 1705.3L1315.1 1702.9L1315.8 1704.2L1316.4 1704.3L1317.1 1698.2L1317.8 1698.5L1318.5 1698.4L1319.1 1698.0L1319.8 1696.4L1320.5 1691.1L1321.2 1694.9L1321.8 1691.6L1322.5 1693.2L1323.2 1692.6L1323.9 1688.3L1324.5 1691.4L1325.2 1687.0L1325.9 1690.4L1326.5 1688.0L1327.2 1687.0L1327.9 1690.3L1328.6 1688.6L1329.2 1692.1L1329.9 1688.8L1330.6 1693.4L1331.3 1688.3L1331.9 1695.4L1332.6 1699.5L1333.3 1696.6L1334.0 1699.1L1334.6 1698.8L1335.3 1699.5L1336.0 1699.7L1336.6 1699.9L1337.3 1700.2L1338.0 1701.6L1338.7 1705.3L1339.3 1707.1L1340.0 1705.9L1340.7 1709.7L1341.4 1705.8L1342.0 1710.9L1342.7 1711.7L1343.4 1708.6L1344.0 1707.9L1344.7 1710.5L1345.4 1710.6L1346.1 1714.4L1346.7 1710.8L1347.4 1710.8L1348.1 1712.4L1348.8 1710.9L1349.4 1710.1L1350.1 1712.7L1350.8 1712.9L1351.5 1710.8L1352.1 1717.4L1352.8 1712.7L1353.5 1714.3L1354.1 1715.7L1354.8 1717.4L1355.5 1715.6L1356.2 1717.9L1356.8 1715.7L1357.5 1719.7L1358.2 1721.4L1358.9 1720.6L1359.5 1719.0L1360.2 1718.5L1360.9 1718.7L1361.6 1718.4L1362.2 1718.1L1362.9 1720.6L1363.6 1717.7L1364.2 1720.7L1364.9 1721.5L1365.6 1721.3L1366.3 1719.5L1366.9 1720.8L1367.6 1718.7L1368.3 1719.8L1369.0 1717.6L1369.6 1720.1L1370.3 1716.0L1371.0 1717.0L1371.7 1720.3L1372.3 1719.9L1373.0 1719.0L1373.7 1718.0L1374.3 1724.1L1375.0 1724.0L1375.7 1722.6L1376.4 1720.3L1377.0 1715.8L1377.7 1718.4L1378.4 1719.2L1379.1 1721.9L1379.7 1715.9L1380.4 1716.2L1381.1 1719.6L1381.7 1721.0L1382.4 1721.0L1383.1 1720.1L1383.8 1720.8L1384.4 1718.0L1385.1 1720.6L1385.8 1720.9L1386.5 1716.5L1387.1 1720.1L1387.8 1718.7L1388.5 1718.5L1389.2 1718.0L1389.8 1717.8L1390.5 1721.5L1391.2 1718.7L1391.8 1718.5L1392.5 1718.2L1393.2 1719.8L1393.9 1716.2L1394.5 1717.3L1395.2 1715.7L1395.9 1713.9L1396.6 1715.3L1397.2 1718.5L1397.9 1713.6L1398.6 1715.2L1399.3 1715.2L1399.9 1712.3L1400.6 1713.6L1401.3 1713.0L1401.9 1714.5L1402.6 1714.5L1403.3 1710.0L1404.0 1712.0L1404.6 1714.3L1405.3 1714.8L1406.0 1710.3L1406.7 1715.4L1407.3 1714.4L1408.0 1710.4L1408.7 1713.5L1409.3 1712.8L1410.0 1709.3L1410.7 1713.0L1411.4 1705.2L1412.0 1706.4L1412.7 1704.9L1413.4 1705.5L1414.1 1703.8L1414.7 1706.4L1415.4 1708.3L1416.1 1704.3L1416.8 1703.0L1417.4 1705.2L1418.1 1700.9L1418.8 1699.7L1419.4 1700.1L1420.1 1700.6L1420.8 1699.2L1421.5 1694.0L1422.1 1693.0L1422.8 1694.9L1423.5 1688.9L1424.2 1693.8L1424.8 1687.5L1425.5 1689.6L1426.2 1690.2L1426.9 1688.2L1427.5 1683.8L1428.2 1683.8L1428.9 1681.9L1429.5 1680.5L1430.2 1672.7L1430.9 1672.8L1431.6 1672.4L1432.2 1667.6L1432.9 1668.6L1433.6 1665.5L1434.3 1666.8L1434.9 1671.9L1435.6 1663.8L1436.3 1662.9L1437.0 1657.0L1437.6 1654.6L1438.3 1651.2L1439.0 1650.0L1439.6 1640.7L1440.3 1642.3L1441.0 1646.6L1441.7 1644.4L1442.3 1639.6L1443.0 1643.8L1443.7 1638.7L1444.4 1640.8L1445.0 1639.0L1445.7 1636.9L1446.4 1642.0L1447.0 1637.4L1447.7 1644.9L1448.4 1635.9L1449.1 1635.8L1449.7 1640.3L1450.4 1636.8L1451.1 1636.6L1451.8 1645.3L1452.4 1637.9L1453.1 1640.3L1453.8 1644.4L1454.5 1647.3L1455.1 1651.1L1455.8 1652.9L1456.5 1656.3L1457.1 1656.8L1457.8 1656.9L1458.5 1663.5L1459.2 1664.5L1459.8 1663.1L1460.5 1670.1L1461.2 1669.7L1461.9 1674.2L1462.5 1677.0L1463.2 1677.6L1463.9 1679.8L1464.6 1681.4L1465.2 1682.4L1465.9 1681.7L1466.6 1684.3L1467.2 1686.6L1467.9 1690.7L1468.6 1691.0L1469.3 1689.5L1469.9 1690.6L1470.6 1694.0L1471.3 1694.3L1472.0 1689.9L1472.6 1696.2L1473.3 1700.4L1474.0 1695.5L1474.7 1697.3L1475.3 1702.0L1476.0 1701.4L1476.7 1703.0L1477.3 1703.8L1478.0 1703.7L1478.7 1704.0L1479.4 1706.8L1480.0 1705.7L1480.7 1705.1L1481.4 1707.4L1482.1 1708.7L1482.7 1707.6L1483.4 1710.3L1484.1 1707.6L1484.7 1709.3L1485.4 1712.6L1486.1 1711.8L1486.8 1710.3L1487.4 1712.0L1488.1 1709.6L1488.8 1709.1L1489.5 1714.4L1490.1 1715.7L1490.8 1712.8L1491.5 1713.7L1492.2 1714.5L1492.8 1714.5L1493.5 1715.5L1494.2 1716.2L1494.8 1716.0L1495.5 1718.0L1496.2 1717.5L1496.9 1720.6L1497.5 1716.7L1498.2 1719.7L1498.9 1714.4L1499.6 1717.9L1500.2 1716.3L1500.9 1718.7L1501.6 1718.9L1502.3 1719.4L1502.9 1718.8L1503.6 1719.5L1504.3 1718.0L1504.9 1718.5L1505.6 1720.5L1506.3 1720.3L1507.0 1721.4L1507.6 1721.9L1508.3 1719.2L1509.0 1722.8L1509.7 1719.9L1510.3 1720.9L1511.0 1721.3L1511.7 1721.9L1512.3 1722.0L1513.0 1720.7L1513.7 1720.7L1514.4 1723.9L1515.0 1718.8L1515.7 1725.9L1516.4 1721.6L1517.1 1721.8L1517.7 1725.1L1518.4 1722.7L1519.1 1721.8L1519.8 1720.7L1520.4 1722.8L1521.1 1720.8L1521.8 1723.3L1522.4 1722.1L1523.1 1723.0L1523.8 1724.6L1524.5 1722.8L1525.1 1723.3L1525.8 1725.6L1526.5 1723.5L1527.2 1722.1L1527.8 1726.6L1528.5 1725.7L1529.2 1726.0L1529.9 1722.7L1530.5 1723.1L1531.2 1725.6L1531.9 1723.8L1532.5 1726.8L1533.2 1727.7L1533.9 1723.0L1534.6 1723.2L1535.2 1724.9L1535.9 1720.4L1536.6 1723.6L1537.3 1721.5L1537.9 1722.2L1538.6 1724.2L1539.3 1722.5L1540.0 1722.6L1540.6 1724.9L1541.3 1723.5L1542.0 1727.3L1542.6 1723.7L1543.3 1723.1L1544.0 1723.9L1544.7 1721.3L1545.3 1725.8L1546.0 1725.5L1546.7 1724.5L1547.4 1722.9L1548.0 1723.7L1548.7 1725.5L1549.4 1722.8L1550.0 1726.4L1550.7 1720.6L1551.4 1722.7L1552.1 1719.8L1552.7 1724.8L1553.4 1723.3L1554.1 1721.4L1554.8 1721.7L1555.4 1725.5L1556.1 1722.1L1556.8 1723.6L1557.5 1723.4L1558.1 1725.4L1558.8 1721.8L1559.5 1725.4L1560.1 1725.1L1560.8 1723.9L1561.5 1723.7L1562.2 1725.6L1562.8 1722.5L1563.5 1724.0L1564.2 1721.4L1564.9 1724.3L1565.5 1723.4L1566.2 1721.9L1566.9 1721.9L1567.6 1721.9L1568.2 1721.9L1568.9 1722.9L1569.6 1724.6L1570.2 1723.3L1570.9 1720.7L1571.6 1720.7L1572.3 1721.6L1572.9 1718.7L1573.6 1718.2L1574.3 1718.7L1575.0 1720.5L1575.6 1718.7L1576.3 1719.8L1577.0 1717.9L1577.6 1716.7L1578.3 1718.3L1579.0 1717.4L1579.7 1718.6L1580.3 1718.8L1581.0 1718.8L1581.7 1715.9L1582.4 1717.8L1583.0 1719.0L1583.7 1716.2L1584.4 1717.5L1585.1 1716.0L1585.7 1716.3L1586.4 1716.9L1587.1 1715.8L1587.7 1715.3L1588.4 1712.8L1589.1 1717.3L1589.8 1717.5L1590.4 1713.8L1591.1 1715.6L1591.8 1715.2L1592.5 1717.2L1593.1 1711.6L1593.8 1709.9L1594.5 1714.3L1595.2 1711.3L1595.8 1711.7L1596.5 1707.7L1597.2 1708.9L1597.8 1705.9L1598.5 1709.8L1599.2 1703.6L1599.9 1701.8L1600.5 1704.8L1601.2 1704.7L1601.9 1701.5L1602.6 1704.6L1603.2 1700.0L1603.9 1699.2L1604.6 1699.6L1605.3 1695.9L1605.9 1696.5L1606.6 1691.6L1607.3 1695.4L1607.9 1690.1L1608.6 1691.6L1609.3 1688.3L1610.0 1690.7L1610.6 1686.0L1611.3 1688.6L1612.0 1688.8L1612.7 1683.8L1613.3 1684.7L1614.0 1680.6L1614.7 1677.7L1615.3 1676.4L1616.0 1670.8L1616.7 1676.5L1617.4 1677.0L1618.0 1667.3L1618.7 1670.6L1619.4 1668.4L1620.1 1661.5L1620.7 1659.6L1621.4 1656.0L1622.1 1653.4L1622.8 1656.8L1623.4 1651.0L1624.1 1649.2L1624.8 1646.9L1625.4 1646.1L1626.1 1640.1L1626.8 1640.4L1627.5 1642.6L1628.1 1637.4L1628.8 1639.6L1629.5 1644.3L1630.2 1628.6L1630.8 1634.0L1631.5 1635.7L1632.2 1633.6L1632.9 1630.9L1633.5 1633.3L1634.2 1626.2L1634.9 1628.7L1635.5 1626.8L1636.2 1629.6L1636.9 1630.1L1637.6 1639.0L1638.2 1635.8L1638.9 1637.3L1639.6 1643.6L1640.3 1644.0L1640.9 1644.6L1641.6 1649.5L1642.3 1656.1L1643.0 1656.3L1643.6 1656.6L1644.3 1659.1L1645.0 1656.3L1645.6 1668.7L1646.3 1666.5L1647.0 1672.8L1647.7 1673.5L1648.3 1671.1L1649.0 1677.1L1649.7 1675.7L1650.4 1678.7L1651.0 1687.3L1651.7 1684.9L1652.4 1682.5L1653.0 1688.3L1653.7 1685.4L1654.4 1695.3L1655.1 1687.8L1655.7 1695.6L1656.4 1695.3L1657.1 1694.7L1657.8 1698.2L1658.4 1702.7L1659.1 1699.9L1659.8 1698.4L1660.5 1704.9L1661.1 1706.2L1661.8 1704.5L1662.5 1705.2L1663.1 1706.1L1663.8 1709.1L1664.5 1710.7L1665.2 1711.2L1665.8 1709.9L1666.5 1713.5L1667.2 1710.6L1667.9 1714.5L1668.5 1714.8L1669.2 1712.0L1669.9 1714.8L1670.6 1715.0L1671.2 1718.1L1671.9 1716.7L1672.6 1722.1L1673.2 1719.8L1673.9 1717.5L1674.6 1719.9L1675.3 1721.8L1675.9 1724.3L1676.6 1721.4L1677.3 1727.3L1678.0 1724.0L1678.6 1717.3L1679.3 1723.0L1680.0 1722.9L1680.6 1721.6L1681.3 1725.8L1682.0 1726.3L1682.7 1725.7L1683.3 1722.9L1684.0 1726.8L1684.7 1723.4L1685.4 1726.2L1686.0 1730.4L1686.7 1728.0L1687.4 1730.3L1688.1 1729.0L1688.7 1730.9L1689.4 1729.1L1690.1 1731.5L1690.7 1731.0L1691.4 1730.5L1692.1 1727.5L1692.8 1728.1L1693.4 1726.7L1694.1 1726.5L1694.8 1727.4L1695.5 1728.5L1696.1 1726.9L1696.8 1731.4L1697.5 1727.5L1698.2 1732.9L1698.8 1730.4L1699.5 1732.2L1700.2 1733.0L1700.8 1730.9L1701.5 1729.6L1702.2 1732.2L1702.9 1734.0L1703.5 1729.1L1704.2 1730.3L1704.9 1732.1L1705.6 1732.2L1706.2 1732.1L1706.9 1731.3L1707.6 1731.1L1708.3 1733.0L1708.9 1732.4L1709.6 1731.1L1710.3 1730.4L1710.9 1734.6L1711.6 1730.6L1712.3 1732.8L1713.0 1731.2L1713.6 1731.8L1714.3 1732.1L1715.0 1733.0L1715.7 1732.6L1716.3 1732.1L1717.0 1732.6L1717.7 1733.3L1718.3 1731.5L1719.0 1734.2L1719.7 1734.5L1720.4 1734.4L1721.0 1733.5L1721.7 1733.0L1722.4 1733.5L1723.1 1734.8L1723.7 1731.7L1724.4 1732.1L1725.1 1733.4L1725.8 1731.4L1726.4 1732.7L1727.1 1733.4L1727.8 1730.2L1728.4 1733.4L1729.1 1728.8L1729.8 1731.7L1730.5 1733.7L1731.1 1732.7L1731.8 1733.9L1732.5 1732.9L1733.2 1734.2L1733.8 1733.1L1734.5 1732.3L1735.2 1732.9L1735.9 1733.5L1736.5 1734.2L1737.2 1731.9L1737.9 1731.4L1738.5 1735.3L1739.2 1732.3L1739.9 1732.4L1740.6 1734.5L1741.2 1734.0L1741.9 1731.9L1742.6 1734.3L1743.3 1734.3L1743.9 1736.3L1744.6 1734.7L1745.3 1732.8L1745.9 1732.5L1746.6 1734.2L1747.3 1732.6L1748.0 1734.1L1748.6 1732.9L1749.3 1736.9L1750.0 1734.7L1750.7 1734.5L1751.3 1730.0L1752.0 1733.5L1752.7 1732.7L1753.4 1731.4L1754.0 1729.9L1754.7 1734.1L1755.4 1734.4L1756.0 1731.6L1756.7 1732.5L1757.4 1731.7L1758.1 1730.7L1758.7 1731.5L1759.4 1734.2L1760.1 1733.9L1760.8 1732.4L1761.4 1731.8L1762.1 1735.6L1762.8 1731.9L1763.5 1732.2L1764.1 1732.4L1764.8 1735.6L1765.5 1733.0L1766.1 1733.9L1766.8 1733.1L1767.5 1732.8L1768.2 1733.4L1768.8 1734.9L1769.5 1736.3L1770.2 1733.3L1770.9 1735.1L1771.5 1730.6L1772.2 1734.3L1772.9 1732.8L1773.6 1730.9L1774.2 1732.2L1774.9 1734.9L1775.6 1731.7L1776.2 1733.0L1776.9 1732.6L1777.6 1732.5L1778.3 1734.5L1778.9 1732.5L1779.6 1731.8L1780.3 1733.0L1781.0 1730.9L1781.6 1731.5L1782.3 1733.6L1783.0 1731.3L1783.6 1731.7L1784.3 1731.1L1785.0 1731.5L1785.7 1733.9L1786.3 1733.6L1787.0 1733.5L1787.7 1732.0L1788.4 1732.2L1789.0 1730.6L1789.7 1730.4L1790.4 1733.3L1791.1 1732.5L1791.7 1732.5L1792.4 1730.3L1793.1 1731.8L1793.7 1729.6L1794.4 1729.1L1795.1 1729.7L1795.8 1729.9L1796.4 1733.4L1797.1 1730.8L1797.8 1731.1L1798.5 1729.8L1799.1 1731.0L1799.8 1731.9L1800.5 1731.3L1801.2 1730.9L1801.8 1733.2L1802.5 1730.4L1803.2 1730.8L1803.8 1730.1L1804.5 1729.4L1805.2 1727.9L1805.9 1731.0L1806.5 1728.7L1807.2 1729.1L1807.9 1728.4L1808.6 1730.1L1809.2 1727.3L1809.9 1731.2L1810.6 1727.3L1811.3 1728.8L1811.9 1728.7L1812.6 1729.9L1813.3 1731.0L1813.9 1728.5L1814.6 1730.7L1815.3 1728.8L1816.0 1731.5L1816.6 1729.9L1817.3 1730.2L1818.0 1727.7L1818.7 1727.4L1819.3 1729.9L1820.0 1729.8L1820.7 1729.2L1821.3 1729.1L1822.0 1731.7L1822.7 1729.5L1823.4 1732.8L1824.0 1730.5L1824.7 1731.4L1825.4 1728.1L1826.1 1731.1L1826.7 1730.4L1827.4 1730.8L1828.1 1729.1L1828.8 1730.0L1829.4 1728.3L1830.1 1731.0L1830.8 1727.6L1831.4 1728.0L1832.1 1732.5L1832.8 1731.8L1833.5 1729.6L1834.1 1728.0L1834.8 1728.4L1835.5 1728.9L1836.2 1729.0L1836.8 1728.3L1837.5 1729.6L1838.2 1731.3L1838.9 1728.1L1839.5 1729.4L1840.2 1730.6L1840.9 1730.5L1841.5 1730.1L1842.2 1728.4L1842.9 1727.3L1843.6 1729.0L1844.2 1727.7L1844.9 1729.5L1845.6 1726.8L1846.3 1726.9L1846.9 1730.8L1847.6 1725.6L1848.3 1731.0L1848.9 1729.4L1849.6 1730.4L1850.3 1729.1L1851.0 1727.1L1851.6 1730.5L1852.3 1728.3L1853.0 1729.9L1853.7 1731.5L1854.3 1729.6L1855.0 1728.1L1855.7 1728.1L1856.4 1727.0L1857.0 1728.6L1857.7 1731.0L1858.4 1730.3L1859.0 1725.4L1859.7 1727.0L1860.4 1728.3L1861.1 1729.1L1861.7 1726.8L1862.4 1728.3L1863.1 1728.0L1863.8 1726.4L1864.4 1728.0L1865.1 1725.5L1865.8 1727.4L1866.5 1727.3L1867.1 1726.8L1867.8 1729.2L1868.5 1730.7L1869.1 1726.7L1869.8 1725.6L1870.5 1724.0L1871.2 1726.6L1871.8 1727.0L1872.5 1730.9L1873.2 1727.2L1873.9 1724.8L1874.5 1729.7L1875.2 1729.0L1875.9 1725.4L1876.6 1730.0L1877.2 1728.0L1877.9 1729.1L1878.6 1726.3L1879.2 1727.1L1879.9 1726.9L1880.6 1729.0L1881.3 1729.2L1881.9 1729.1L1882.6 1725.5L1883.3 1729.9L1884.0 1727.3L1884.6 1727.7L1885.3 1727.2L1886.0 1728.1L1886.6 1728.3L1887.3 1729.6L1888.0 1729.2L1888.7 1726.9L1889.3 1725.9L1890.0 1726.6L1890.7 1726.3L1891.4 1728.6L1892.0 1726.4L1892.7 1726.6L1893.4 1726.6L1894.1 1726.8L1894.7 1727.9L1895.4 1726.8" fill="none" stroke="#00ff00" stroke-width="9.5" stroke-linejoin="round" stroke-linecap="butt" shape-rendering="crispEdges"/>
<path d="M212.4 2156.3L213.1 2157.5L213.7 2157.3L214.4 2157.1L215.1 2157.8L215.8 2155.3L216.4 2155.6L217.1 2155.3L217.8 2155.8L218.5 2155.5L219.1 2155.8L219.8 2156.6L220.5 2157.1L221.2 2156.9L221.8 2155.8L222.5 2157.0L223.2 2156.0L223.8 2157.7L224.5 2156.3L225.2 2155.3L225.9 2155.1L226.5 2154.0L227.2 2155.2L227.9 2153.9L228.6 2155.7L229.2 2153.5L229.9 2154.6L230.6 2157.8L231.2 2158.1L231.9 2158.1L232.6 2154.7L233.3 2154.9L233.9 2154.7L234.6 2154.1L235.3 2155.9L236.0 2154.7L236.6 2155.1L237.3 2154.5L238.0 2154.2L238.7 2157.6L239.3 2156.4L240.0 2155.0L240.7 2157.8L241.3 2156.0L242.0 2156.6L242.7 2158.6L243.4 2156.1L244.0 2156.6L244.7 2156.4L245.4 2158.5L246.1 2158.6L246.7 2156.6L247.4 2158.5L248.1 2154.8L248.8 2156.2L249.4 2157.9L250.1 2156.2L250.8 2156.9L251.4 2156.9L252.1 2157.7L252.8 2157.4L253.5 2155.7L254.1 2157.2L254.8 2157.0L255.5 2158.7L256.2 2156.1L256.8 2157.0L257.5 2159.1L258.2 2157.8L258.9 2159.9L259.5 2156.8L260.2 2153.6L260.9 2157.7L261.5 2156.7L262.2 2156.1L262.9 2155.0L263.6 2156.3L264.2 2157.2L264.9 2156.9L265.6 2156.7L266.3 2157.3L266.9 2156.9L267.6 2155.7L268.3 2157.3L268.9 2157.6L269.6 2159.2L270.3 2157.0L271.0 2155.7L271.6 2158.0L272.3 2157.4L273.0 2155.9L273.7 2155.2L274.3 2158.4L275.0 2155.0L275.7 2156.5L276.4 2157.8L277.0 2156.5L277.7 2157.7L278.4 2158.5L279.0 2157.6L279.7 2156.6L280.4 2157.3L281.1 2157.8L281.7 2159.2L282.4 2156.8L283.1 2159.7L283.8 2157.1L284.4 2159.6L285.1 2160.4L285.8 2159.4L286.5 2157.7L287.1 2159.9L287.8 2159.3L288.5 2158.6L289.1 2158.0L289.8 2157.8L290.5 2158.1L291.2 2160.8L291.8 2158.7L292.5 2158.5L293.2 2157.3L293.9 2158.1L294.5 2157.4L295.2 2156.8L295.9 2157.7L296.6 2157.1L297.2 2157.8L297.9 2157.5L298.6 2156.8L299.2 2158.2L299.9 2158.3L300.6 2154.4L301.3 2157.3L301.9 2157.2L302.6 2157.0L303.3 2158.5L304.0 2156.9L304.6 2156.1L305.3 2155.6L306.0 2157.1L306.6 2154.7L307.3 2156.4L308.0 2156.3L308.7 2156.9L309.3 2157.2L310.0 2156.5L310.7 2156.6L311.4 2158.0L312.0 2157.1L312.7 2159.7L313.4 2158.4L314.1 2156.7L314.7 2158.4L315.4 2157.4L316.1 2157.7L316.7 2159.0L317.4 2158.1L318.1 2155.9L318.8 2157.5L319.4 2156.5L320.1 2158.3L320.8 2157.4L321.5 2155.8L322.1 2153.9L322.8 2157.3L323.5 2157.2L324.2 2157.3L324.8 2160.8L325.5 2158.4L326.2 2159.3L326.8 2157.3L327.5 2159.2L328.2 2157.8L328.9 2156.6L329.5 2158.0L330.2 2158.2L330.9 2156.9L331.6 2159.7L332.2 2158.2L332.9 2156.3L333.6 2155.3L334.2 2159.0L334.9 2159.1L335.6 2158.9L336.3 2157.0L336.9 2156.9L337.6 2158.4L338.3 2157.1L339.0 2157.4L339.6 2157.9L340.3 2158.3L341.0 2156.0L341.7 2156.7L342.3 2157.2L343.0 2156.3L343.7 2158.3L344.3 2156.1L345.0 2158.0L345.7 2157.2L346.4 2159.3L347.0 2158.2L347.7 2157.5L348.4 2158.0L349.1 2156.8L349.7 2159.0L350.4 2157.8L351.1 2157.5L351.8 2158.0L352.4 2157.8L353.1 2156.6L353.8 2155.6L354.4 2158.2L355.1 2157.4L355.8 2157.0L356.5 2157.8L357.1 2156.4L357.8 2158.4L358.5 2156.3L359.2 2156.2L359.8 2156.6L360.5 2156.2L361.2 2156.5L361.9 2157.1L362.5 2156.3L363.2 2157.8L363.9 2157.5L364.5 2159.6L365.2 2157.0L365.9 2156.3L366.6 2156.1L367.2 2157.6L367.9 2157.4L368.6 2156.1L369.3 2158.2L369.9 2155.4L370.6 2156.3L371.3 2156.8L371.9 2157.4L372.6 2156.6L373.3 2159.5L374.0 2159.6L374.6 2158.9L375.3 2159.3L376.0 2159.4L376.7 2159.6L377.3 2160.4L378.0 2160.2L378.7 2159.5L379.4 2158.3L380.0 2156.8L380.7 2156.5L381.4 2158.8L382.0 2157.0L382.7 2158.2L383.4 2160.3L384.1 2159.5L384.7 2159.2L385.4 2159.2L386.1 2159.9L386.8 2159.9L387.4 2158.1L388.1 2157.9L388.8 2158.1L389.5 2158.9L390.1 2161.2L390.8 2158.6L391.5 2158.1L392.1 2159.0L392.8 2158.7L393.5 2156.8L394.2 2155.3L394.8 2161.0L395.5 2157.8L396.2 2157.9L396.9 2160.2L397.5 2157.7L398.2 2158.5L398.9 2157.1L399.5 2159.8L400.2 2157.5L400.9 2158.2L401.6 2158.8L402.2 2157.5L402.9 2160.5L403.6 2157.8L404.3 2156.3L404.9 2159.6L405.6 2160.0L406.3 2160.4L407.0 2158.6L407.6 2158.9L408.3 2159.3L409.0 2160.2L409.6 2158.5L410.3 2159.9L411.0 2158.9L411.7 2158.6L412.3 2156.9L413.0 2155.9L413.7 2158.8L414.4 2160.7L415.0 2160.5L415.7 2158.6L416.4 2160.5L417.1 2159.5L417.7 2159.7L418.4 2157.2L419.1 2157.2L419.7 2157.9L420.4 2159.5L421.1 2157.8L421.8 2158.4L422.4 2159.9L423.1 2157.8L423.8 2157.9L424.5 2157.8L425.1 2160.1L425.8 2158.0L426.5 2156.9L427.2 2157.8L427.8 2158.8L428.5 2158.6L429.2 2159.0L429.8 2159.7L430.5 2158.5L431.2 2157.5L431.9 2155.8L432.5 2158.4L433.2 2159.1L433.9 2158.7L434.6 2158.7L435.2 2157.2L435.9 2158.5L436.6 2155.6L437.2 2155.8L437.9 2155.2L438.6 2158.3L439.3 2158.2L439.9 2158.3L440.6 2159.8L441.3 2156.3L442.0 2158.2L442.6 2157.3L443.3 2156.9L444.0 2158.7L444.7 2157.3L445.3 2156.4L446.0 2158.7L446.7 2157.3L447.3 2157.7L448.0 2158.8L448.7 2157.3L449.4 2157.0L450.0 2157.6L450.7 2159.0L451.4 2154.9L452.1 2158.9L452.7 2158.0L453.4 2157.4L454.1 2157.6L454.8 2155.5L455.4 2157.7L456.1 2158.6L456.8 2157.5L457.4 2155.4L458.1 2156.9L458.8 2155.3L459.5 2155.2L460.1 2155.0L460.8 2157.1L461.5 2157.8L462.2 2155.6L462.8 2157.3L463.5 2155.4L464.2 2155.9L464.9 2158.1L465.5 2159.4L466.2 2158.1L466.9 2153.2L467.5 2155.6L468.2 2156.2L468.9 2155.9L469.6 2154.2L470.2 2158.7L470.9 2152.6L471.6 2154.8L472.3 2153.4L472.9 2154.0L473.6 2154.4L474.3 2153.5L474.9 2154.8L475.6 2152.7L476.3 2153.8L477.0 2155.8L477.6 2153.7L478.3 2155.9L479.0 2154.4L479.7 2153.2L480.3 2154.4L481.0 2153.1L481.7 2156.2L482.4 2154.1L483.0 2156.3L483.7 2153.2L484.4 2156.1L485.0 2154.8L485.7 2155.8L486.4 2154.1L487.1 2156.2L487.7 2157.1L488.4 2152.8L489.1 2152.2L489.8 2155.9L490.4 2151.2L491.1 2152.1L491.8 2151.1L492.5 2149.5L493.1 2150.9L493.8 2151.2L494.5 2148.2L495.1 2152.7L495.8 2151.3L496.5 2147.4L497.2 2151.1L497.8 2154.1L498.5 2149.5L499.2 2150.7L499.9 2152.8L500.5 2146.8L501.2 2151.8L501.9 2152.6L502.5 2151.8L503.2 2147.6L503.9 2150.3L504.6 2148.6L505.2 2150.8L505.9 2149.8L506.6 2146.9L507.3 2146.8L507.9 2144.8L508.6 2144.9L509.3 2144.5L510.0 2144.4L510.6 2143.6L511.3 2142.4L512.0 2143.4L512.6 2142.2L513.3 2142.5L514.0 2141.0L514.7 2144.1L515.3 2143.5L516.0 2143.0L516.7 2139.1L517.4 2140.7L518.0 2139.2L518.7 2139.1L519.4 2138.9L520.1 2138.6L520.7 2134.9L521.4 2137.6L522.1 2137.0L522.7 2136.2L523.4 2132.6L524.1 2133.6L524.8 2132.7L525.4 2130.6L526.1 2129.4L526.8 2129.8L527.5 2127.0L528.1 2125.5L528.8 2126.8L529.5 2126.6L530.2 2127.7L530.8 2128.3L531.5 2121.9L532.2 2123.6L532.8 2122.7L533.5 2117.9L534.2 2117.4L534.9 2116.8L535.5 2114.7L536.2 2115.3L536.9 2116.0L537.6 2115.2L538.2 2109.2L538.9 2107.1L539.6 2108.6L540.2 2104.4L540.9 2103.2L541.6 2103.4L542.3 2097.9L542.9 2101.4L543.6 2095.1L544.3 2094.4L545.0 2089.7L545.6 2089.3L546.3 2083.7L547.0 2078.4L547.7 2078.4L548.3 2078.2L549.0 2070.0L549.7 2072.5L550.3 2072.7L551.0 2064.8L551.7 2065.3L552.4 2060.1L553.0 2061.5L553.7 2056.2L554.4 2048.7L555.1 2051.2L555.7 2054.0L556.4 2047.9L557.1 2044.4L557.8 2046.0L558.4 2040.2L559.1 2049.1L559.8 2041.6L560.4 2046.8L561.1 2047.3L561.8 2046.7L562.5 2045.5L563.1 2050.8L563.8 2052.2L564.5 2054.3L565.2 2051.8L565.8 2060.0L566.5 2062.9L567.2 2066.6L567.8 2070.2L568.5 2072.1L569.2 2074.0L569.9 2081.5L570.5 2081.1L571.2 2084.6L571.9 2089.7L572.6 2096.3L573.2 2096.3L573.9 2100.1L574.6 2099.9L575.3 2102.8L575.9 2107.2L576.6 2109.5L577.3 2111.8L577.9 2114.3L578.6 2114.5L579.3 2116.7L580.0 2118.3L580.6 2123.1L581.3 2121.3L582.0 2123.2L582.7 2125.9L583.3 2127.2L584.0 2128.3L584.7 2124.8L585.4 2128.6L586.0 2129.3L586.7 2130.3L587.4 2132.1L588.0 2133.9L588.7 2133.9L589.4 2133.1L590.1 2134.0L590.7 2132.2L591.4 2133.6L592.1 2137.7L592.8 2136.1L593.4 2134.1L594.1 2136.7L594.8 2138.3L595.5 2139.3L596.1 2137.6L596.8 2139.6L597.5 2143.1L598.1 2146.1L598.8 2141.9L599.5 2140.1L600.2 2140.9L600.8 2141.0L601.5 2141.8L602.2 2143.8L602.9 2145.3L603.5 2140.0L604.2 2143.2L604.9 2144.4L605.5 2144.0L606.2 2144.3L606.9 2144.6L607.6 2147.4L608.2 2146.1L608.9 2144.9L609.6 2148.9L610.3 2148.0L610.9 2145.1L611.6 2145.6L612.3 2147.7L613.0 2148.4L613.6 2146.1L614.3 2149.5L615.0 2148.0L615.6 2148.2L616.3 2144.4L617.0 2143.6L617.7 2146.1L618.3 2145.1L619.0 2146.4L619.7 2144.0L620.4 2145.9L621.0 2141.7L621.7 2144.3L622.4 2146.7L623.1 2144.0L623.7 2145.1L624.4 2146.6L625.1 2148.2L625.7 2149.4L626.4 2146.5L627.1 2146.5L627.8 2150.5L628.4 2151.7L629.1 2147.6L629.8 2147.5L630.5 2149.3L631.1 2149.6L631.8 2146.5L632.5 2150.4L633.2 2146.0L633.8 2147.4L634.5 2144.9L635.2 2149.4L635.8 2148.8L636.5 2149.0L637.2 2146.6L637.9 2148.7L638.5 2146.1L639.2 2148.5L639.9 2150.5L640.6 2149.0L641.2 2146.7L641.9 2149.8L642.6 2146.5L643.2 2146.7L643.9 2148.0L644.6 2144.5L645.3 2146.6L645.9 2146.0L646.6 2144.1L647.3 2145.6L648.0 2145.8L648.6 2146.0L649.3 2145.6L650.0 2146.9L650.7 2146.1L651.3 2145.0L652.0 2145.3L652.7 2146.4L653.3 2143.8L654.0 2146.1L654.7 2144.5L655.4 2145.0L656.0 2142.4L656.7 2146.3L657.4 2142.6L658.1 2144.6L658.7 2143.9L659.4 2145.5L660.1 2143.2L660.8 2144.0L661.4 2141.6L662.1 2140.5L662.8 2142.5L663.4 2139.4L664.1 2137.6L664.8 2136.7L665.5 2142.0L666.1 2141.2L666.8 2139.6L667.5 2141.9L668.2 2142.6L668.8 2140.4L669.5 2139.0L670.2 2144.5L670.8 2138.3L671.5 2139.8L672.2 2137.5L672.9 2134.4L673.5 2136.9L674.2 2135.9L674.9 2137.0L675.6 2135.0L676.2 2133.5L676.9 2135.8L677.6 2132.0L678.3 2130.1L678.9 2130.0L679.6 2129.0L680.3 2128.4L680.9 2131.0L681.6 2128.7L682.3 2129.6L683.0 2128.6L683.6 2124.3L684.3 2125.9L685.0 2124.3L685.7 2124.3L686.3 2128.0L687.0 2128.3L687.7 2126.6L688.4 2120.4L689.0 2126.1L689.7 2125.4L690.4 2125.8L691.0 2121.2L691.7 2117.9L692.4 2117.5L693.1 2120.9L693.7 2120.3L694.4 2118.3L695.1 2113.3L695.8 2114.2L696.4 2113.6L697.1 2108.8L697.8 2110.5L698.5 2106.2L699.1 2104.9L699.8 2101.3L700.5 2103.5L701.1 2097.3L701.8 2098.5L702.5 2093.5L703.2 2090.8L703.8 2090.3L704.5 2091.2L705.2 2086.7L705.9 2084.8L706.5 2083.4L707.2 2081.8L707.9 2078.1L708.5 2075.1L709.2 2070.6L709.9 2072.7L710.6 2060.7L711.2 2057.7L711.9 2058.6L712.6 2054.6L713.3 2048.4L713.9 2048.0L714.6 2037.0L715.3 2032.6L716.0 2033.0L716.6 2020.4L717.3 2022.3L718.0 2014.6L718.6 2010.9L719.3 2004.4L720.0 2000.8L720.7 1996.2L721.3 1981.7L722.0 1974.4L722.7 1975.0L723.4 1963.2L724.0 1952.1L724.7 1953.1L725.4 1937.6L726.1 1934.7L726.7 1923.6L727.4 1919.7L728.1 1904.4L728.7 1897.7L729.4 1901.0L730.1 1884.6L730.8 1889.6L731.4 1885.0L732.1 1867.7L732.8 1864.5L733.5 1861.2L734.1 1851.2L734.8 1853.0L735.5 1842.6L736.1 1841.2L736.8 1851.3L737.5 1849.3L738.2 1843.4L738.8 1845.0L739.5 1852.3L740.2 1858.4L740.9 1862.3L741.5 1869.2L742.2 1870.6L742.9 1880.6L743.6 1889.2L744.2 1905.8L744.9 1913.0L745.6 1915.8L746.2 1928.6L746.9 1940.3L747.6 1947.4L748.3 1954.7L748.9 1965.6L749.6 1970.7L750.3 1977.8L751.0 1991.0L751.6 1989.7L752.3 2001.5L753.0 2005.9L753.7 2011.3L754.3 2016.3L755.0 2024.4L755.7 2031.6L756.3 2032.0L757.0 2038.7L757.7 2044.9L758.4 2047.3L759.0 2050.8L759.7 2057.8L760.4 2067.3L761.1 2062.9L761.7 2069.7L762.4 2072.1L763.1 2077.3L763.8 2076.6L764.4 2083.2L765.1 2079.8L765.8 2090.1L766.4 2088.2L767.1 2094.6L767.8 2092.1L768.5 2095.2L769.1 2099.3L769.8 2101.9L770.5 2102.5L771.2 2108.2L771.8 2106.4L772.5 2107.7L773.2 2108.8L773.8 2109.1L774.5 2115.7L775.2 2113.2L775.9 2115.4L776.5 2113.5L777.2 2115.0L777.9 2117.4L778.6 2117.6L779.2 2121.7L779.9 2122.9L780.6 2124.6L781.3 2120.5L781.9 2128.0L782.6 2125.2L783.3 2125.2L783.9 2125.9L784.6 2125.2L785.3 2124.8L786.0 2124.6L786.6 2127.2L787.3 2122.8L788.0 2119.9L788.7 2123.4L789.3 2124.7L790.0 2126.2L790.7 2129.4L791.4 2127.6L792.0 2127.5L792.7 2133.8L793.4 2132.9L794.0 2133.5L794.7 2132.0L795.4 2135.1L796.1 2136.9L796.7 2132.8L797.4 2134.6L798.1 2134.4L798.8 2138.8L799.4 2136.9L800.1 2137.3L800.8 2136.3L801.5 2139.7L802.1 2139.4L802.8 2140.6L803.5 2142.9L804.1 2141.6L804.8 2142.6L805.5 2141.6L806.2 2142.3L806.8 2143.9L807.5 2145.0L808.2 2148.8L808.9 2148.6L809.5 2148.6L810.2 2147.7L810.9 2152.0L811.5 2149.4L812.2 2152.9L812.9 2153.3L813.6 2150.9L814.2 2151.1L814.9 2152.9L815.6 2154.9L816.3 2152.5L816.9 2153.3L817.6 2154.1L818.3 2156.5L819.0 2157.9L819.6 2158.5L820.3 2159.2L821.0 2155.1L821.6 2155.8L822.3 2158.2L823.0 2159.0L823.7 2157.8L824.3 2155.8L825.0 2156.0L825.7 2155.1L826.4 2159.0L827.0 2157.9L827.7 2158.6L828.4 2158.7L829.1 2158.6L829.7 2159.8L830.4 2162.5L831.1 2163.1L831.7 2161.3L832.4 2161.9L833.1 2161.3L833.8 2162.0L834.4 2160.5L835.1 2162.6L835.8 2161.3L836.5 2161.8L837.1 2158.6L837.8 2159.2L838.5 2160.6L839.1 2162.9L839.8 2158.0L840.5 2159.7L841.2 2160.6L841.8 2159.8L842.5 2162.0L843.2 2161.6L843.9 2162.9L844.5 2163.3L845.2 2161.7L845.9 2164.3L846.6 2162.2L847.2 2165.4L847.9 2163.3L848.6 2164.5L849.2 2164.8L849.9 2164.5L850.6 2161.5L851.3 2160.9L851.9 2162.4L852.6 2161.8L853.3 2162.6L854.0 2162.8L854.6 2162.3L855.3 2164.7L856.0 2159.1L856.7 2161.0L857.3 2163.0L858.0 2160.4L858.7 2162.5L859.3 2159.6L860.0 2162.0L860.7 2163.3L861.4 2160.4L862.0 2162.2L862.7 2158.7L863.4 2160.6L864.1 2159.5L864.7 2162.1L865.4 2160.8L866.1 2160.8L866.8 2158.3L867.4 2161.9L868.1 2162.1L868.8 2162.0L869.4 2161.3L870.1 2161.2L870.8 2160.7L871.5 2163.1L872.1 2161.0L872.8 2162.1L873.5 2161.3L874.2 2164.6L874.8 2163.5L875.5 2162.8L876.2 2160.8L876.8 2159.9L877.5 2162.4L878.2 2161.5L878.9 2163.2L879.5 2159.8L880.2 2159.7L880.9 2161.0L881.6 2159.6L882.2 2159.6L882.9 2158.2L883.6 2158.3L884.3 2161.2L884.9 2161.1L885.6 2161.5L886.3 2159.0L886.9 2159.9L887.6 2161.0L888.3 2160.2L889.0 2159.3L889.6 2160.5L890.3 2160.9L891.0 2160.4L891.7 2162.3L892.3 2162.6L893.0 2162.5L893.7 2161.9L894.4 2160.5L895.0 2158.3L895.7 2163.9L896.4 2161.1L897.0 2162.1L897.7 2161.8L898.4 2162.4L899.1 2160.9L899.7 2159.9L900.4 2159.3L901.1 2157.6L901.8 2158.5L902.4 2159.3L903.1 2157.8L903.8 2160.5L904.4 2159.9L905.1 2159.9L905.8 2158.3L906.5 2158.7L907.1 2159.1L907.8 2158.1L908.5 2159.3L909.2 2156.6L909.8 2156.6L910.5 2158.6L911.2 2159.3L911.9 2159.7L912.5 2159.3L913.2 2160.2L913.9 2161.4L914.5 2161.1L915.2 2158.3L915.9 2159.7L916.6 2160.3L917.2 2158.1L917.9 2157.9L918.6 2157.9L919.3 2158.7L919.9 2156.7L920.6 2158.0L921.3 2156.7L922.0 2154.5L922.6 2155.3L923.3 2154.6L924.0 2158.0L924.6 2155.6L925.3 2160.4L926.0 2159.1L926.7 2157.9L927.3 2158.8L928.0 2160.0L928.7 2160.8L929.4 2157.5L930.0 2158.5L930.7 2159.0L931.4 2159.2L932.1 2157.9L932.7 2157.2L933.4 2159.2L934.1 2154.0L934.7 2160.2L935.4 2158.6L936.1 2158.6L936.8 2156.4L937.4 2156.2L938.1 2157.9L938.8 2157.7L939.5 2156.8L940.1 2157.5L940.8 2158.6L941.5 2156.3L942.1 2156.7L942.8 2157.6L943.5 2156.9L944.2 2157.4L944.8 2158.7L945.5 2156.9L946.2 2158.0L946.9 2159.1L947.5 2156.7L948.2 2156.4L948.9 2157.0L949.6 2160.7L950.2 2153.7L950.9 2157.3L951.6 2154.4L952.2 2155.6L952.9 2155.3L953.6 2157.1L954.3 2156.1L954.9 2156.5L955.6 2155.0L956.3 2156.6L957.0 2155.6L957.6 2152.0L958.3 2152.1L959.0 2152.9L959.7 2154.6L960.3 2155.5L961.0 2152.5L961.7 2154.2L962.3 2154.3L963.0 2155.4L963.7 2151.5L964.4 2154.3L965.0 2151.6L965.7 2151.1L966.4 2149.9L967.1 2149.4L967.7 2148.3L968.4 2151.4L969.1 2143.8L969.8 2145.5L970.4 2145.4L971.1 2147.8L971.8 2144.4L972.4 2148.8L973.1 2145.8L973.8 2147.4L974.5 2146.3L975.1 2143.3L975.8 2142.5L976.5 2141.7L977.2 2140.8L977.8 2141.7L978.5 2140.1L979.2 2137.5L979.8 2134.3L980.5 2136.5L981.2 2138.9L981.9 2133.1L982.5 2132.9L983.2 2129.2L983.9 2126.7L984.6 2130.3L985.2 2126.2L985.9 2130.1L986.6 2127.9L987.3 2124.9L987.9 2126.6L988.6 2125.9L989.3 2125.8L989.9 2121.1L990.6 2123.7L991.3 2121.7L992.0 2123.2L992.6 2125.1L993.3 2119.3L994.0 2123.2L994.7 2121.1L995.3 2122.7L996.0 2127.3L996.7 2124.8L997.4 2125.4L998.0 2128.3L998.7 2127.2L999.4 2127.9L1000.0 2128.3L1000.7 2128.4L1001.4 2131.3L1002.1 2130.7L1002.7 2130.9L1003.4 2133.8L1004.1 2133.4L1004.8 2140.0L1005.4 2134.6L1006.1 2139.0L1006.8 2141.3L1007.4 2141.2L1008.1 2143.9L1008.8 2142.6L1009.5 2142.5L1010.1 2140.3L1010.8 2145.9L1011.5 2145.2L1012.2 2145.6L1012.8 2145.3L1013.5 2147.8L1014.2 2147.7L1014.9 2149.4L1015.5 2148.5L1016.2 2151.8L1016.9 2150.0L1017.5 2153.1L1018.2 2154.3L1018.9 2151.1L1019.6 2151.6L1020.2 2152.2L1020.9 2152.8L1021.6 2153.4L1022.3 2152.1L1022.9 2152.0L1023.6 2153.4L1024.3 2151.2L1025.0 2152.5L1025.6 2153.6L1026.3 2154.7L1027.0 2156.2L1027.6 2155.2L1028.3 2155.3L1029.0 2156.2L1029.7 2154.7L1030.3 2157.2L1031.0 2155.1L1031.7 2156.3L1032.4 2158.4L1033.0 2156.2L1033.7 2159.3L1034.4 2157.9L1035.1 2157.4L1035.7 2158.3L1036.4 2158.0L1037.1 2159.1L1037.7 2158.3L1038.4 2158.7L1039.1 2158.9L1039.8 2158.5L1040.4 2156.5L1041.1 2159.4L1041.8 2154.8L1042.5 2160.1L1043.1 2160.2L1043.8 2160.0L1044.5 2160.2L1045.1 2159.7L1045.8 2161.1L1046.5 2159.2L1047.2 2158.4L1047.8 2160.1L1048.5 2159.8L1049.2 2160.4L1049.9 2158.9L1050.5 2161.0L1051.2 2161.6L1051.9 2158.4L1052.6 2160.6L1053.2 2161.3L1053.9 2157.8L1054.6 2158.0L1055.2 2160.6L1055.9 2159.6L1056.6 2158.9L1057.3 2158.6L1057.9 2161.0L1058.6 2159.0L1059.3 2159.8L1060.0 2158.5L1060.6 2159.3L1061.3 2162.2L1062.0 2160.8L1062.7 2160.3L1063.3 2159.7L1064.0 2159.7L1064.7 2160.0L1065.3 2159.8L1066.0 2158.9L1066.7 2160.2L1067.4 2159.1L1068.0 2160.3L1068.7 2158.5L1069.4 2160.6L1070.1 2157.7L1070.7 2158.4L1071.4 2161.0L1072.1 2159.4L1072.7 2159.1L1073.4 2160.6L1074.1 2161.9L1074.8 2161.4L1075.4 2160.9L1076.1 2163.0L1076.8 2163.4L1077.5 2160.8L1078.1 2161.1L1078.8 2160.8L1079.5 2162.3L1080.2 2159.6L1080.8 2161.4L1081.5 2160.3L1082.2 2161.5L1082.8 2161.2L1083.5 2160.3L1084.2 2160.2L1084.9 2161.3L1085.5 2162.2L1086.2 2163.2L1086.9 2162.4L1087.6 2161.9L1088.2 2164.0L1088.9 2162.5L1089.6 2163.9L1090.3 2162.3L1090.9 2162.5L1091.6 2160.6L1092.3 2161.6L1092.9 2162.4L1093.6 2162.2L1094.3 2164.1L1095.0 2163.8L1095.6 2161.9L1096.3 2161.6L1097.0 2160.2L1097.7 2163.5L1098.3 2162.1L1099.0 2163.0L1099.7 2161.9L1100.4 2163.4L1101.0 2163.9L1101.7 2164.0L1102.4 2163.9L1103.0 2161.4L1103.7 2163.6L1104.4 2163.3L1105.1 2164.6L1105.7 2163.7L1106.4 2164.0L1107.1 2163.9L1107.8 2164.1L1108.4 2163.6L1109.1 2162.3L1109.8 2161.0L1110.4 2163.0L1111.1 2164.0L1111.8 2163.2L1112.5 2162.4L1113.1 2161.7L1113.8 2163.0L1114.5 2161.9L1115.2 2159.9L1115.8 2161.4L1116.5 2162.1L1117.2 2162.6L1117.9 2164.2L1118.5 2162.5L1119.2 2165.1L1119.9 2163.2L1120.5 2160.4L1121.2 2162.1L1121.9 2162.5L1122.6 2160.4L1123.2 2164.5L1123.9 2163.4L1124.6 2163.3L1125.3 2162.1L1125.9 2164.3L1126.6 2163.7L1127.3 2161.8L1128.0 2162.4L1128.6 2159.6L1129.3 2162.5L1130.0 2163.6L1130.6 2162.2L1131.3 2162.2L1132.0 2161.6L1132.7 2162.2L1133.3 2160.1L1134.0 2161.8L1134.7 2162.0L1135.4 2162.3L1136.0 2163.0L1136.7 2162.2L1137.4 2162.4L1138.1 2164.9L1138.7 2161.1L1139.4 2164.8L1140.1 2163.3L1140.7 2162.5L1141.4 2162.1L1142.1 2162.8L1142.8 2164.5L1143.4 2162.0L1144.1 2163.6L1144.8 2162.9L1145.5 2162.1L1146.1 2163.0L1146.8 2163.8L1147.5 2164.0L1148.1 2165.2L1148.8 2162.2L1149.5 2164.0L1150.2 2163.3L1150.8 2164.6L1151.5 2164.0L1152.2 2163.6L1152.9 2163.9L1153.5 2164.4L1154.2 2162.6L1154.9 2164.5L1155.6 2162.7L1156.2 2163.8L1156.9 2163.3L1157.6 2163.2L1158.2 2161.2L1158.9 2165.4L1159.6 2161.8L1160.3 2163.5L1160.9 2163.2L1161.6 2165.0L1162.3 2164.9L1163.0 2163.2L1163.6 2163.2L1164.3 2162.2L1165.0 2162.7L1165.7 2164.2L1166.3 2162.9L1167.0 2164.6L1167.7 2163.7L1168.3 2161.9L1169.0 2164.0L1169.7 2165.3L1170.4 2163.9L1171.0 2162.5L1171.7 2164.2L1172.4 2165.3L1173.1 2163.8L1173.7 2162.9L1174.4 2164.6L1175.1 2163.1L1175.7 2162.4L1176.4 2163.3L1177.1 2161.4L1177.8 2160.7L1178.4 2161.3L1179.1 2162.3L1179.8 2160.7L1180.5 2161.5L1181.1 2163.0L1181.8 2162.1L1182.5 2163.4L1183.2 2161.0L1183.8 2162.6L1184.5 2164.0L1185.2 2161.1L1185.8 2164.2L1186.5 2165.2L1187.2 2161.6L1187.9 2163.5L1188.5 2164.9L1189.2 2163.7L1189.9 2162.9L1190.6 2162.1L1191.2 2164.9L1191.9 2163.0L1192.6 2162.3L1193.3 2160.8L1193.9 2165.0L1194.6 2164.2L1195.3 2162.8L1195.9 2163.5L1196.6 2162.4L1197.3 2161.9L1198.0 2165.2L1198.6 2160.7L1199.3 2161.6L1200.0 2162.4L1200.7 2161.6L1201.3 2162.1L1202.0 2162.8L1202.7 2162.8L1203.4 2163.1L1204.0 2163.2L1204.7 2161.8L1205.4 2161.8L1206.0 2161.3L1206.7 2160.1L1207.4 2161.3L1208.1 2160.9L1208.7 2163.0L1209.4 2162.5L1210.1 2163.0L1210.8 2163.5L1211.4 2160.9L1212.1 2163.3L1212.8 2161.8L1213.4 2164.5L1214.1 2162.0L1214.8 2162.8L1215.5 2163.0L1216.1 2161.4L1216.8 2164.0L1217.5 2164.9L1218.2 2165.2L1218.8 2163.9L1219.5 2163.4L1220.2 2163.5L1220.9 2162.9L1221.5 2161.2L1222.2 2162.2L1222.9 2161.7L1223.5 2162.0L1224.2 2163.0L1224.9 2162.5L1225.6 2162.7L1226.2 2162.7L1226.9 2162.7L1227.6 2162.2L1228.3 2164.1L1228.9 2163.9L1229.6 2164.1L1230.3 2164.9L1231.0 2163.8L1231.6 2164.2L1232.3 2165.1L1233.0 2164.3L1233.6 2164.3L1234.3 2162.7L1235.0 2162.0L1235.7 2163.1L1236.3 2160.4L1237.0 2160.2L1237.7 2161.1L1238.4 2162.1L1239.0 2160.7L1239.7 2161.4L1240.4 2160.3L1241.0 2161.5L1241.7 2162.9L1242.4 2160.8L1243.1 2161.1L1243.7 2162.8L1244.4 2160.9L1245.1 2164.6L1245.8 2160.0L1246.4 2162.2L1247.1 2164.3L1247.8 2163.6L1248.5 2161.2L1249.1 2163.4L1249.8 2162.4L1250.5 2162.2L1251.1 2162.3L1251.8 2163.7L1252.5 2160.9L1253.2 2164.9L1253.8 2160.1L1254.5 2161.6L1255.2 2163.7L1255.9 2161.9L1256.5 2163.2L1257.2 2161.1L1257.9 2160.8L1258.6 2161.9L1259.2 2161.4L1259.9 2162.9L1260.6 2160.2L1261.2 2163.3L1261.9 2161.4L1262.6 2159.6L1263.3 2158.2L1263.9 2162.4L1264.6 2159.9L1265.3 2161.8L1266.0 2161.8L1266.6 2159.7L1267.3 2161.3L1268.0 2159.6L1268.7 2162.3L1269.3 2160.3L1270.0 2162.9L1270.7 2161.9L1271.3 2161.2L1272.0 2161.9L1272.7 2161.1L1273.4 2159.5L1274.0 2160.1L1274.7 2161.0L1275.4 2159.6L1276.1 2159.7L1276.7 2161.4L1277.4 2159.5L1278.1 2161.6L1278.7 2158.3L1279.4 2160.6L1280.1 2157.6L1280.8 2162.6L1281.4 2158.7L1282.1 2161.4L1282.8 2160.0L1283.5 2159.5L1284.1 2158.8L1284.8 2159.8L1285.5 2158.0L1286.2 2160.9L1286.8 2159.1L1287.5 2156.2L1288.2 2159.3L1288.8 2158.8L1289.5 2157.2L1290.2 2158.1L1290.9 2157.3L1291.5 2155.0L1292.2 2158.9L1292.9 2158.7L1293.6 2158.2L1294.2 2156.9L1294.9 2157.9L1295.6 2157.8L1296.3 2158.7L1296.9 2158.1L1297.6 2156.9L1298.3 2156.4L1298.9 2156.0L1299.6 2156.4L1300.3 2156.2L1301.0 2154.8L1301.6 2154.3L1302.3 2155.5L1303.0 2154.2L1303.7 2154.9L1304.3 2154.6L1305.0 2155.7L1305.7 2155.9L1306.4 2153.3L1307.0 2154.9L1307.7 2155.6L1308.4 2153.5L1309.0 2152.4L1309.7 2150.7L1310.4 2149.9L1311.1 2156.0L1311.7 2150.4L1312.4 2149.9L1313.1 2151.1L1313.8 2148.3L1314.4 2148.2L1315.1 2148.2L1315.8 2149.8L1316.4 2150.2L1317.1 2146.5L1317.8 2148.7L1318.5 2148.2L1319.1 2147.7L1319.8 2148.2L1320.5 2147.3L1321.2 2147.4L1321.8 2143.7L1322.5 2145.2L1323.2 2146.7L1323.9 2144.9L1324.5 2143.5L1325.2 2140.6L1325.9 2141.7L1326.5 2138.7L1327.2 2137.7L1327.9 2141.3L1328.6 2137.9L1329.2 2140.0L1329.9 2140.3L1330.6 2137.4L1331.3 2131.4L1331.9 2132.0L1332.6 2134.6L1333.3 2133.5L1334.0 2131.6L1334.6 2132.8L1335.3 2131.6L1336.0 2131.1L1336.6 2134.8L1337.3 2130.1L1338.0 2132.5L1338.7 2133.3L1339.3 2133.2L1340.0 2134.1L1340.7 2136.2L1341.4 2132.8L1342.0 2133.5L1342.7 2136.0L1343.4 2132.2L1344.0 2135.2L1344.7 2135.2L1345.4 2136.0L1346.1 2139.3L1346.7 2136.1L1347.4 2137.8L1348.1 2133.3L1348.8 2137.4L1349.4 2139.2L1350.1 2141.1L1350.8 2145.0L1351.5 2142.6L1352.1 2143.5L1352.8 2143.6L1353.5 2142.4L1354.1 2145.2L1354.8 2144.7L1355.5 2144.4L1356.2 2145.3L1356.8 2147.8L1357.5 2144.5L1358.2 2143.1L1358.9 2147.8L1359.5 2147.4L1360.2 2146.7L1360.9 2149.2L1361.6 2148.5L1362.2 2152.2L1362.9 2149.8L1363.6 2148.4L1364.2 2147.8L1364.9 2149.2L1365.6 2149.8L1366.3 2148.3L1366.9 2145.9L1367.6 2148.2L1368.3 2150.6L1369.0 2152.8L1369.6 2152.0L1370.3 2151.7L1371.0 2150.9L1371.7 2152.5L1372.3 2152.8L1373.0 2155.1L1373.7 2152.3L1374.3 2152.7L1375.0 2153.1L1375.7 2152.0L1376.4 2153.5L1377.0 2151.1L1377.7 2152.6L1378.4 2150.3L1379.1 2153.9L1379.7 2152.2L1380.4 2153.7L1381.1 2153.0L1381.7 2154.4L1382.4 2154.6L1383.1 2153.6L1383.8 2153.9L1384.4 2156.0L1385.1 2153.3L1385.8 2153.5L1386.5 2157.4L1387.1 2154.7L1387.8 2153.9L1388.5 2153.4L1389.2 2153.4L1389.8 2152.3L1390.5 2152.7L1391.2 2154.6L1391.8 2153.7L1392.5 2151.1L1393.2 2150.9L1393.9 2153.3L1394.5 2151.6L1395.2 2151.8L1395.9 2153.9L1396.6 2154.6L1397.2 2153.1L1397.9 2152.5L1398.6 2153.7L1399.3 2153.4L1399.9 2152.0L1400.6 2154.3L1401.3 2154.5L1401.9 2151.1L1402.6 2150.9L1403.3 2152.3L1404.0 2153.5L1404.6 2152.9L1405.3 2151.5L1406.0 2153.7L1406.7 2150.5L1407.3 2150.6L1408.0 2153.5L1408.7 2148.1L1409.3 2148.7L1410.0 2147.5L1410.7 2147.0L1411.4 2148.9L1412.0 2151.1L1412.7 2144.8L1413.4 2147.8L1414.1 2149.3L1414.7 2146.6L1415.4 2148.7L1416.1 2146.7L1416.8 2148.3L1417.4 2145.8L1418.1 2146.1L1418.8 2149.1L1419.4 2146.5L1420.1 2142.5L1420.8 2144.3L1421.5 2143.5L1422.1 2142.2L1422.8 2140.0L1423.5 2142.4L1424.2 2141.9L1424.8 2143.3L1425.5 2143.8L1426.2 2140.2L1426.9 2139.9L1427.5 2138.4L1428.2 2137.5L1428.9 2137.5L1429.5 2137.3L1430.2 2135.8L1430.9 2135.0L1431.6 2136.2L1432.2 2135.0L1432.9 2133.3L1433.6 2134.0L1434.3 2133.4L1434.9 2132.6L1435.6 2132.8L1436.3 2129.6L1437.0 2126.0L1437.6 2120.3L1438.3 2122.7L1439.0 2123.1L1439.6 2122.9L1440.3 2121.8L1441.0 2120.5L1441.7 2114.9L1442.3 2116.8L1443.0 2115.2L1443.7 2112.5L1444.4 2108.7L1445.0 2111.3L1445.7 2102.4L1446.4 2100.2L1447.0 2105.4L1447.7 2102.1L1448.4 2101.2L1449.1 2103.1L1449.7 2098.1L1450.4 2098.1L1451.1 2097.1L1451.8 2098.2L1452.4 2088.3L1453.1 2090.7L1453.8 2087.5L1454.5 2085.5L1455.1 2086.2L1455.8 2080.8L1456.5 2081.6L1457.1 2083.4L1457.8 2079.7L1458.5 2079.7L1459.2 2078.5L1459.8 2077.4L1460.5 2077.8L1461.2 2077.7L1461.9 2079.8L1462.5 2075.8L1463.2 2079.6L1463.9 2078.0L1464.6 2079.6L1465.2 2085.2L1465.9 2087.3L1466.6 2082.2L1467.2 2086.8L1467.9 2088.9L1468.6 2088.4L1469.3 2095.4L1469.9 2094.4L1470.6 2097.5L1471.3 2098.7L1472.0 2101.7L1472.6 2103.0L1473.3 2105.5L1474.0 2103.8L1474.7 2107.1L1475.3 2109.7L1476.0 2111.0L1476.7 2113.9L1477.3 2109.9L1478.0 2113.7L1478.7 2118.1L1479.4 2117.4L1480.0 2119.2L1480.7 2121.4L1481.4 2122.2L1482.1 2124.9L1482.7 2127.2L1483.4 2128.1L1484.1 2128.0L1484.7 2136.0L1485.4 2129.1L1486.1 2134.3L1486.8 2133.1L1487.4 2137.0L1488.1 2132.8L1488.8 2137.0L1489.5 2135.7L1490.1 2141.1L1490.8 2141.0L1491.5 2136.7L1492.2 2141.7L1492.8 2142.2L1493.5 2141.9L1494.2 2143.0L1494.8 2143.0L1495.5 2144.6L1496.2 2139.7L1496.9 2143.1L1497.5 2145.4L1498.2 2144.6L1498.9 2147.1L1499.6 2142.7L1500.2 2146.3L1500.9 2144.0L1501.6 2147.0L1502.3 2147.3L1502.9 2145.6L1503.6 2146.4L1504.3 2150.1L1504.9 2144.7L1505.6 2149.8L1506.3 2150.5L1507.0 2150.0L1507.6 2147.7L1508.3 2150.0L1509.0 2149.6L1509.7 2150.4L1510.3 2151.4L1511.0 2149.6L1511.7 2152.3L1512.3 2151.1L1513.0 2153.4L1513.7 2151.0L1514.4 2152.6L1515.0 2151.0L1515.7 2151.8L1516.4 2151.0L1517.1 2154.5L1517.7 2155.1L1518.4 2153.4L1519.1 2155.0L1519.8 2154.1L1520.4 2154.8L1521.1 2154.6L1521.8 2153.9L1522.4 2154.0L1523.1 2156.7L1523.8 2155.1L1524.5 2153.9L1525.1 2150.9L1525.8 2155.0L1526.5 2156.4L1527.2 2156.8L1527.8 2158.4L1528.5 2153.5L1529.2 2157.3L1529.9 2156.2L1530.5 2154.7L1531.2 2156.4L1531.9 2155.8L1532.5 2153.7L1533.2 2152.4L1533.9 2155.6L1534.6 2153.3L1535.2 2153.1L1535.9 2154.4L1536.6 2158.0L1537.3 2157.6L1537.9 2157.2L1538.6 2156.6L1539.3 2158.0L1540.0 2158.4L1540.6 2158.5L1541.3 2156.9L1542.0 2157.5L1542.6 2158.5L1543.3 2158.2L1544.0 2159.0L1544.7 2157.3L1545.3 2158.9L1546.0 2155.8L1546.7 2158.8L1547.4 2156.0L1548.0 2158.7L1548.7 2157.2L1549.4 2159.6L1550.0 2155.2L1550.7 2155.4L1551.4 2156.8L1552.1 2157.0L1552.7 2156.5L1553.4 2155.6L1554.1 2157.8L1554.8 2157.4L1555.4 2159.0L1556.1 2156.7L1556.8 2155.5L1557.5 2156.7L1558.1 2158.7L1558.8 2156.5L1559.5 2157.8L1560.1 2157.5L1560.8 2155.2L1561.5 2158.8L1562.2 2159.5L1562.8 2157.3L1563.5 2160.7L1564.2 2156.7L1564.9 2158.5L1565.5 2157.5L1566.2 2158.9L1566.9 2158.9L1567.6 2157.9L1568.2 2156.1L1568.9 2158.4L1569.6 2158.1L1570.2 2155.9L1570.9 2158.7L1571.6 2157.5L1572.3 2159.4L1572.9 2157.8L1573.6 2155.7L1574.3 2157.3L1575.0 2152.3L1575.6 2155.6L1576.3 2156.5L1577.0 2155.6L1577.6 2157.0L1578.3 2155.3L1579.0 2153.4L1579.7 2153.2L1580.3 2157.1L1581.0 2156.1L1581.7 2152.0L1582.4 2155.6L1583.0 2152.2L1583.7 2152.0L1584.4 2153.6L1585.1 2150.2L1585.7 2151.6L1586.4 2151.1L1587.1 2153.3L1587.7 2154.8L1588.4 2150.3L1589.1 2153.0L1589.8 2151.9L1590.4 2149.0L1591.1 2152.4L1591.8 2149.4L1592.5 2149.0L1593.1 2152.0L1593.8 2154.2L1594.5 2151.6L1595.2 2151.0L1595.8 2150.6L1596.5 2146.5L1597.2 2147.4L1597.8 2145.2L1598.5 2147.7L1599.2 2146.0L1599.9 2145.6L1600.5 2145.5L1601.2 2144.4L1601.9 2144.9L1602.6 2145.4L1603.2 2145.4L1603.9 2144.2L1604.6 2140.4L1605.3 2144.3L1605.9 2140.7L1606.6 2143.7L1607.3 2140.6L1607.9 2140.3L1608.6 2140.1L1609.3 2141.4L1610.0 2140.8L1610.6 2135.3L1611.3 2137.6L1612.0 2135.6L1612.7 2135.2L1613.3 2138.7L1614.0 2133.4L1614.7 2129.8L1615.3 2127.8L1616.0 2132.2L1616.7 2129.9L1617.4 2129.4L1618.0 2125.7L1618.7 2126.1L1619.4 2123.1L1620.1 2122.9L1620.7 2116.3L1621.4 2120.7L1622.1 2117.5L1622.8 2119.6L1623.4 2115.0L1624.1 2109.4L1624.8 2115.7L1625.4 2112.8L1626.1 2106.3L1626.8 2103.2L1627.5 2109.0L1628.1 2100.2L1628.8 2104.6L1629.5 2101.4L1630.2 2101.0L1630.8 2098.0L1631.5 2093.7L1632.2 2091.0L1632.9 2085.9L1633.5 2085.0L1634.2 2081.0L1634.9 2081.0L1635.5 2082.1L1636.2 2077.9L1636.9 2071.1L1637.6 2072.3L1638.2 2069.4L1638.9 2068.4L1639.6 2065.2L1640.3 2061.1L1640.9 2061.8L1641.6 2058.4L1642.3 2055.4L1643.0 2057.5L1643.6 2061.0L1644.3 2057.2L1645.0 2057.2L1645.6 2055.7L1646.3 2058.2L1647.0 2058.6L1647.7 2060.1L1648.3 2058.1L1649.0 2068.5L1649.7 2065.1L1650.4 2062.3L1651.0 2060.7L1651.7 2067.2L1652.4 2077.1L1653.0 2078.5L1653.7 2071.5L1654.4 2075.3L1655.1 2080.2L1655.7 2077.5L1656.4 2085.6L1657.1 2086.0L1657.8 2083.6L1658.4 2084.7L1659.1 2092.7L1659.8 2097.1L1660.5 2093.0L1661.1 2096.3L1661.8 2099.2L1662.5 2103.1L1663.1 2102.6L1663.8 2104.9L1664.5 2108.4L1665.2 2117.1L1665.8 2117.0L1666.5 2118.0L1667.2 2123.0L1667.9 2118.0L1668.5 2119.2L1669.2 2124.9L1669.9 2120.9L1670.6 2127.4L1671.2 2127.3L1671.9 2129.2L1672.6 2135.4L1673.2 2131.0L1673.9 2133.9L1674.6 2132.0L1675.3 2135.7L1675.9 2136.5L1676.6 2138.8L1677.3 2138.1L1678.0 2139.4L1678.6 2137.1L1679.3 2139.5L1680.0 2136.9L1680.6 2143.0L1681.3 2144.9L1682.0 2143.5L1682.7 2144.8L1683.3 2145.4L1684.0 2143.7L1684.7 2147.9L1685.4 2150.3L1686.0 2147.4L1686.7 2151.5L1687.4 2150.9L1688.1 2152.8L1688.7 2151.5L1689.4 2151.9L1690.1 2153.0L1690.7 2154.9L1691.4 2154.0L1692.1 2155.1L1692.8 2153.6L1693.4 2156.7L1694.1 2155.0L1694.8 2151.9L1695.5 2154.8L1696.1 2158.0L1696.8 2154.5L1697.5 2154.9L1698.2 2155.6L1698.8 2158.2L1699.5 2155.4L1700.2 2157.7L1700.8 2158.1L1701.5 2158.5L1702.2 2157.5L1702.9 2158.4L1703.5 2159.0L1704.2 2157.5L1704.9 2156.5L1705.6 2157.5L1706.2 2158.0L1706.9 2156.3L1707.6 2159.0L1708.3 2159.1L1708.9 2158.3L1709.6 2162.0L1710.3 2161.3L1710.9 2163.1L1711.6 2163.1L1712.3 2164.2L1713.0 2163.7L1713.6 2162.0L1714.3 2163.7L1715.0 2164.3L1715.7 2161.6L1716.3 2162.5L1717.0 2162.1L1717.7 2161.7L1718.3 2161.6L1719.0 2160.6L1719.7 2161.6L1720.4 2163.6L1721.0 2164.1L1721.7 2163.7L1722.4 2165.3L1723.1 2165.9L1723.7 2164.4L1724.4 2165.6L1725.1 2166.5L1725.8 2164.5L1726.4 2166.6L1727.1 2163.2L1727.8 2165.6L1728.4 2164.1L1729.1 2166.8L1729.8 2165.5L1730.5 2165.4L1731.1 2165.3L1731.8 2165.0L1732.5 2164.4L1733.2 2162.9L1733.8 2164.5L1734.5 2166.7L1735.2 2166.1L1735.9 2165.4L1736.5 2166.0L1737.2 2165.5L1737.9 2163.6L1738.5 2164.3L1739.2 2166.4L1739.9 2163.6L1740.6 2166.5L1741.2 2164.6L1741.9 2166.1L1742.6 2167.3L1743.3 2167.1L1743.9 2165.6L1744.6 2166.9L1745.3 2165.6L1745.9 2166.8L1746.6 2165.5L1747.3 2165.2L1748.0 2168.4L1748.6 2164.5L1749.3 2165.7L1750.0 2166.6L1750.7 2165.8L1751.3 2166.0L1752.0 2166.3L1752.7 2164.2L1753.4 2164.6L1754.0 2165.3L1754.7 2165.3L1755.4 2163.4L1756.0 2167.0L1756.7 2162.8L1757.4 2164.6L1758.1 2165.7L1758.7 2165.2L1759.4 2164.6L1760.1 2166.8L1760.8 2164.9L1761.4 2167.5L1762.1 2165.1L1762.8 2165.8L1763.5 2165.9L1764.1 2164.1L1764.8 2163.9L1765.5 2163.8L1766.1 2164.2L1766.8 2163.7L1767.5 2164.6L1768.2 2165.3L1768.8 2162.9L1769.5 2162.5L1770.2 2166.7L1770.9 2165.0L1771.5 2164.5L1772.2 2166.8L1772.9 2165.6L1773.6 2165.2L1774.2 2165.8L1774.9 2167.0L1775.6 2165.1L1776.2 2163.9L1776.9 2163.6L1777.6 2164.5L1778.3 2161.7L1778.9 2164.8L1779.6 2161.4L1780.3 2163.5L1781.0 2164.5L1781.6 2164.7L1782.3 2163.8L1783.0 2163.8L1783.6 2164.7L1784.3 2166.4L1785.0 2164.5L1785.7 2167.1L1786.3 2164.5L1787.0 2164.8L1787.7 2165.1L1788.4 2164.2L1789.0 2165.4L1789.7 2164.1L1790.4 2167.1L1791.1 2166.1L1791.7 2164.5L1792.4 2166.0L1793.1 2165.2L1793.7 2165.8L1794.4 2166.6L1795.1 2165.7L1795.8 2164.3L1796.4 2163.9L1797.1 2164.9L1797.8 2164.6L1798.5 2164.5L1799.1 2166.0L1799.8 2163.1L1800.5 2164.4L1801.2 2164.3L1801.8 2163.1L1802.5 2165.4L1803.2 2164.0L1803.8 2162.6L1804.5 2165.8L1805.2 2163.8L1805.9 2163.1L1806.5 2162.8L1807.2 2163.6L1807.9 2164.0L1808.6 2164.0L1809.2 2163.3L1809.9 2163.0L1810.6 2164.3L1811.3 2164.4L1811.9 2163.4L1812.6 2163.8L1813.3 2164.0L1813.9 2164.9L1814.6 2166.0L1815.3 2164.4L1816.0 2163.7L1816.6 2163.2L1817.3 2161.8L1818.0 2162.9L1818.7 2161.2L1819.3 2162.8L1820.0 2160.6L1820.7 2161.8L1821.3 2161.2L1822.0 2163.4L1822.7 2160.8L1823.4 2162.1L1824.0 2163.8L1824.7 2161.3L1825.4 2164.1L1826.1 2165.1L1826.7 2163.0L1827.4 2163.7L1828.1 2162.2L1828.8 2163.0L1829.4 2161.6L1830.1 2163.7L1830.8 2163.7L1831.4 2164.4L1832.1 2164.0L1832.8 2164.3L1833.5 2162.9L1834.1 2165.2L1834.8 2161.8L1835.5 2163.5L1836.2 2162.2L1836.8 2162.3L1837.5 2163.0L1838.2 2161.1L1838.9 2162.8L1839.5 2162.2L1840.2 2164.0L1840.9 2162.9L1841.5 2163.8L1842.2 2163.8L1842.9 2164.1L1843.6 2163.1L1844.2 2160.9L1844.9 2162.3L1845.6 2164.0L1846.3 2162.4L1846.9 2164.9L1847.6 2165.8L1848.3 2163.9L1848.9 2163.3L1849.6 2166.0L1850.3 2163.0L1851.0 2164.8L1851.6 2162.6L1852.3 2161.7L1853.0 2164.4L1853.7 2162.2L1854.3 2161.2L1855.0 2160.3L1855.7 2162.6L1856.4 2160.9L1857.0 2161.1L1857.7 2161.9L1858.4 2163.9L1859.0 2163.1L1859.7 2164.7L1860.4 2163.0L1861.1 2164.4L1861.7 2162.7L1862.4 2162.7L1863.1 2164.3L1863.8 2164.0L1864.4 2161.3L1865.1 2162.8L1865.8 2162.9L1866.5 2160.0L1867.1 2161.9L1867.8 2161.8L1868.5 2162.6L1869.1 2161.3L1869.8 2160.1L1870.5 2161.8L1871.2 2160.0L1871.8 2160.0L1872.5 2162.0L1873.2 2163.1L1873.9 2161.5L1874.5 2162.9L1875.2 2162.2L1875.9 2161.8L1876.6 2162.7L1877.2 2162.0L1877.9 2163.0L1878.6 2164.3L1879.2 2163.7L1879.9 2163.4L1880.6 2162.0L1881.3 2163.8L1881.9 2161.2L1882.6 2163.2L1883.3 2163.8L1884.0 2159.7L1884.6 2163.0L1885.3 2163.0L1886.0 2163.2L1886.6 2161.5L1887.3 2164.5L1888.0 2163.8L1888.7 2163.8L1889.3 2162.2L1890.0 2162.4L1890.7 2161.3L1891.4 2160.2L1892.0 2160.8L1892.7 2163.7L1893.4 2162.7L1894.1 2161.6L1894.7 2160.4L1895.4 2162.6" fill="none" stroke="#ff0000" stroke-width="9.5" stroke-linejoin="round" stroke-linecap="butt" shape-rendering="crispEdges"/>
<path d="M212.4 2615.1L213.1 2612.0L213.7 2613.7L214.4 2614.9L215.1 2612.3L215.8 2613.4L216.4 2612.8L217.1 2615.4L217.8 2613.1L218.5 2615.0L219.1 2613.7L219.8 2616.5L220.5 2614.4L221.2 2614.4L221.8 2615.9L222.5 2620.4L223.2 2616.6L223.8 2614.5L224.5 2615.3L225.2 2622.2L225.9 2617.0L226.5 2617.4L227.2 2618.2L227.9 2620.7L228.6 2619.0L229.2 2618.8L229.9 2617.8L230.6 2616.2L231.2 2617.3L231.9 2616.3L232.6 2614.2L233.3 2612.1L233.9 2619.3L234.6 2619.0L235.3 2618.3L236.0 2618.1L236.6 2617.7L237.3 2615.4L238.0 2615.4L238.7 2616.4L239.3 2616.7L240.0 2616.3L240.7 2615.4L241.3 2618.9L242.0 2618.6L242.7 2620.4L243.4 2620.6L244.0 2616.3L244.7 2618.8L245.4 2617.9L246.1 2618.8L246.7 2622.1L247.4 2621.4L248.1 2619.0L248.8 2619.6L249.4 2618.5L250.1 2616.7L250.8 2616.5L251.4 2615.6L252.1 2620.2L252.8 2616.0L253.5 2617.4L254.1 2618.3L254.8 2617.4L255.5 2622.2L256.2 2620.5L256.8 2615.3L257.5 2617.7L258.2 2621.3L258.9 2618.7L259.5 2620.0L260.2 2620.2L260.9 2620.0L261.5 2618.4L262.2 2619.6L262.9 2619.9L263.6 2618.1L264.2 2620.5L264.9 2620.1L265.6 2620.6L266.3 2621.2L266.9 2619.5L267.6 2617.5L268.3 2620.9L268.9 2619.8L269.6 2616.6L270.3 2616.4L271.0 2619.1L271.6 2619.5L272.3 2615.2L273.0 2617.6L273.7 2617.3L274.3 2618.2L275.0 2619.9L275.7 2622.6L276.4 2617.8L277.0 2622.5L277.7 2621.6L278.4 2623.8L279.0 2619.7L279.7 2620.1L280.4 2621.4L281.1 2620.3L281.7 2623.0L282.4 2620.7L283.1 2622.0L283.8 2621.2L284.4 2618.9L285.1 2622.2L285.8 2619.9L286.5 2621.2L287.1 2621.1L287.8 2622.6L288.5 2619.2L289.1 2624.1L289.8 2623.2L290.5 2621.6L291.2 2619.4L291.8 2619.1L292.5 2620.7L293.2 2619.9L293.9 2621.6L294.5 2622.5L295.2 2623.0L295.9 2622.1L296.6 2620.0L297.2 2625.1L297.9 2625.2L298.6 2620.0L299.2 2620.9L299.9 2625.9L300.6 2624.6L301.3 2622.4L301.9 2623.4L302.6 2619.4L303.3 2621.9L304.0 2624.1L304.6 2617.8L305.3 2622.4L306.0 2619.0L306.6 2624.2L307.3 2618.5L308.0 2618.4L308.7 2619.7L309.3 2620.0L310.0 2622.2L310.7 2624.5L311.4 2620.1L312.0 2622.1L312.7 2624.1L313.4 2621.5L314.1 2624.8L314.7 2624.2L315.4 2624.0L316.1 2622.8L316.7 2623.8L317.4 2624.6L318.1 2621.5L318.8 2623.8L319.4 2621.6L320.1 2618.0L320.8 2623.6L321.5 2621.7L322.1 2623.6L322.8 2620.4L323.5 2621.5L324.2 2620.6L324.8 2619.3L325.5 2622.7L326.2 2625.4L326.8 2623.0L327.5 2622.2L328.2 2621.6L328.9 2620.3L329.5 2623.2L330.2 2623.8L330.9 2621.7L331.6 2621.4L332.2 2620.7L332.9 2619.7L333.6 2624.1L334.2 2622.8L334.9 2621.4L335.6 2619.0L336.3 2620.3L336.9 2623.3L337.6 2623.4L338.3 2627.0L339.0 2623.8L339.6 2622.7L340.3 2622.6L341.0 2619.3L341.7 2624.5L342.3 2619.6L343.0 2622.6L343.7 2622.0L344.3 2623.5L345.0 2623.8L345.7 2624.2L346.4 2624.0L347.0 2623.0L347.7 2624.4L348.4 2623.9L349.1 2621.6L349.7 2624.6L350.4 2622.6L351.1 2624.2L351.8 2625.1L352.4 2623.2L353.1 2622.3L353.8 2626.4L354.4 2624.0L355.1 2624.4L355.8 2626.0L356.5 2622.7L357.1 2623.6L357.8 2623.9L358.5 2620.7L359.2 2621.0L359.8 2622.3L360.5 2624.1L361.2 2618.8L361.9 2623.1L362.5 2623.1L363.2 2620.2L363.9 2620.8L364.5 2618.0L365.2 2623.0L365.9 2620.9L366.6 2623.2L367.2 2620.8L367.9 2625.5L368.6 2622.7L369.3 2623.7L369.9 2625.3L370.6 2623.8L371.3 2621.4L371.9 2622.9L372.6 2623.4L373.3 2622.2L374.0 2622.1L374.6 2621.3L375.3 2621.2L376.0 2621.4L376.7 2619.9L377.3 2622.5L378.0 2622.9L378.7 2620.9L379.4 2620.9L380.0 2621.4L380.7 2621.1L381.4 2622.8L382.0 2623.7L382.7 2623.4L383.4 2624.0L384.1 2620.3L384.7 2623.8L385.4 2621.4L386.1 2622.1L386.8 2621.1L387.4 2620.9L388.1 2621.8L388.8 2621.0L389.5 2621.2L390.1 2619.8L390.8 2624.5L391.5 2624.9L392.1 2621.6L392.8 2617.9L393.5 2620.5L394.2 2623.2L394.8 2617.9L395.5 2623.4L396.2 2621.9L396.9 2617.1L397.5 2623.1L398.2 2622.8L398.9 2621.8L399.5 2619.2L400.2 2621.0L400.9 2625.1L401.6 2620.5L402.2 2618.6L402.9 2622.5L403.6 2622.0L404.3 2620.6L404.9 2623.4L405.6 2621.1L406.3 2621.8L407.0 2620.5L407.6 2624.3L408.3 2621.7L409.0 2619.7L409.6 2624.5L410.3 2622.2L411.0 2621.0L411.7 2623.1L412.3 2620.0L413.0 2621.5L413.7 2621.6L414.4 2624.3L415.0 2622.1L415.7 2623.6L416.4 2623.0L417.1 2622.9L417.7 2621.5L418.4 2623.9L419.1 2619.1L419.7 2621.5L420.4 2619.3L421.1 2624.0L421.8 2623.8L422.4 2619.7L423.1 2622.3L423.8 2619.7L424.5 2623.6L425.1 2620.7L425.8 2626.3L426.5 2624.5L427.2 2624.8L427.8 2621.4L428.5 2618.3L429.2 2620.4L429.8 2620.7L430.5 2620.1L431.2 2618.9L431.9 2618.6L432.5 2618.3L433.2 2624.5L433.9 2619.3L434.6 2619.3L435.2 2614.4L435.9 2622.2L436.6 2620.1L437.2 2619.1L437.9 2618.6L438.6 2618.4L439.3 2622.3L439.9 2618.3L440.6 2622.7L441.3 2621.0L442.0 2617.7L442.6 2615.3L443.3 2619.8L444.0 2617.6L444.7 2617.7L445.3 2620.0L446.0 2622.9L446.7 2614.9L447.3 2616.8L448.0 2617.3L448.7 2621.9L449.4 2618.0L450.0 2621.1L450.7 2622.4L451.4 2618.2L452.1 2619.4L452.7 2620.1L453.4 2620.8L454.1 2619.5L454.8 2620.2L455.4 2614.9L456.1 2617.3L456.8 2615.8L457.4 2620.3L458.1 2616.7L458.8 2615.6L459.5 2616.4L460.1 2618.2L460.8 2619.2L461.5 2613.0L462.2 2614.7L462.8 2617.6L463.5 2614.2L464.2 2618.5L464.9 2615.1L465.5 2618.6L466.2 2617.6L466.9 2615.7L467.5 2613.9L468.2 2612.3L468.9 2614.9L469.6 2620.0L470.2 2613.0L470.9 2617.2L471.6 2616.3L472.3 2617.6L472.9 2615.5L473.6 2615.8L474.3 2613.9L474.9 2616.8L475.6 2612.2L476.3 2611.6L477.0 2616.9L477.6 2612.5L478.3 2614.3L479.0 2611.2L479.7 2612.0L480.3 2614.5L481.0 2612.5L481.7 2613.8L482.4 2612.5L483.0 2613.9L483.7 2611.6L484.4 2613.6L485.0 2607.5L485.7 2612.9L486.4 2612.3L487.1 2610.7L487.7 2615.8L488.4 2611.7L489.1 2614.1L489.8 2613.2L490.4 2610.5L491.1 2608.1L491.8 2608.3L492.5 2608.9L493.1 2606.4L493.8 2607.9L494.5 2607.6L495.1 2604.7L495.8 2607.2L496.5 2604.6L497.2 2610.3L497.8 2603.8L498.5 2606.4L499.2 2604.2L499.9 2597.7L500.5 2601.3L501.2 2603.3L501.9 2601.9L502.5 2607.8L503.2 2602.3L503.9 2604.5L504.6 2603.2L505.2 2602.4L505.9 2602.3L506.6 2603.3L507.3 2602.4L507.9 2598.0L508.6 2599.9L509.3 2597.9L510.0 2598.5L510.6 2596.3L511.3 2597.8L512.0 2591.8L512.6 2592.2L513.3 2598.1L514.0 2594.6L514.7 2597.8L515.3 2595.3L516.0 2592.1L516.7 2595.2L517.4 2591.0L518.0 2588.8L518.7 2592.7L519.4 2584.7L520.1 2588.8L520.7 2584.8L521.4 2578.3L522.1 2581.3L522.7 2576.6L523.4 2577.3L524.1 2579.1L524.8 2582.2L525.4 2571.9L526.1 2580.1L526.8 2577.8L527.5 2577.1L528.1 2575.5L528.8 2577.4L529.5 2573.9L530.2 2569.1L530.8 2559.7L531.5 2565.1L532.2 2565.6L532.8 2564.6L533.5 2560.9L534.2 2567.8L534.9 2562.0L535.5 2557.5L536.2 2562.5L536.9 2553.9L537.6 2558.5L538.2 2556.0L538.9 2553.1L539.6 2552.8L540.2 2544.7L540.9 2542.0L541.6 2539.6L542.3 2540.3L542.9 2530.7L543.6 2534.8L544.3 2540.3L545.0 2540.5L545.6 2532.0L546.3 2535.1L547.0 2528.3L547.7 2525.5L548.3 2525.3L549.0 2521.7L549.7 2513.6L550.3 2516.8L551.0 2515.4L551.7 2516.0L552.4 2513.7L553.0 2516.4L553.7 2511.8L554.4 2513.9L555.1 2509.2L555.7 2509.2L556.4 2508.6L557.1 2506.2L557.8 2508.1L558.4 2515.3L559.1 2515.2L559.8 2508.9L560.4 2517.8L561.1 2513.6L561.8 2513.8L562.5 2509.8L563.1 2512.3L563.8 2516.5L564.5 2524.5L565.2 2521.7L565.8 2528.0L566.5 2527.3L567.2 2533.7L567.8 2538.2L568.5 2535.2L569.2 2532.7L569.9 2540.7L570.5 2541.2L571.2 2547.7L571.9 2549.2L572.6 2545.7L573.2 2551.8L573.9 2556.9L574.6 2560.6L575.3 2559.7L575.9 2559.3L576.6 2561.1L577.3 2569.1L577.9 2561.7L578.6 2569.0L579.3 2566.8L580.0 2571.5L580.6 2571.3L581.3 2576.1L582.0 2569.1L582.7 2573.5L583.3 2581.1L584.0 2578.9L584.7 2576.1L585.4 2582.7L586.0 2580.7L586.7 2586.8L587.4 2580.5L588.0 2585.6L588.7 2584.4L589.4 2582.4L590.1 2581.0L590.7 2589.1L591.4 2591.6L592.1 2588.5L592.8 2582.9L593.4 2591.6L594.1 2600.7L594.8 2587.8L595.5 2587.4L596.1 2594.2L596.8 2595.3L597.5 2594.9L598.1 2597.7L598.8 2602.0L599.5 2593.8L600.2 2603.8L600.8 2603.3L601.5 2605.6L602.2 2598.6L602.9 2600.8L603.5 2597.3L604.2 2600.4L604.9 2601.3L605.5 2597.0L606.2 2599.7L606.9 2604.3L607.6 2600.5L608.2 2603.6L608.9 2605.4L609.6 2602.0L610.3 2598.5L610.9 2598.2L611.6 2600.0L612.3 2602.0L613.0 2604.9L613.6 2601.9L614.3 2601.9L615.0 2602.3L615.6 2609.5L616.3 2607.2L617.0 2604.5L617.7 2595.6L618.3 2608.9L619.0 2606.7L619.7 2604.2L620.4 2600.4L621.0 2605.8L621.7 2608.6L622.4 2597.7L623.1 2605.2L623.7 2603.0L624.4 2606.1L625.1 2600.8L625.7 2607.4L626.4 2605.2L627.1 2605.4L627.8 2613.2L628.4 2604.9L629.1 2607.2L629.8 2612.2L630.5 2606.4L631.1 2602.7L631.8 2599.3L632.5 2596.7L633.2 2601.2L633.8 2597.9L634.5 2602.4L635.2 2603.8L635.8 2604.1L636.5 2598.0L637.2 2601.7L637.9 2602.1L638.5 2605.1L639.2 2601.3L639.9 2602.2L640.6 2598.9L641.2 2604.5L641.9 2603.1L642.6 2601.0L643.2 2601.5L643.9 2599.2L644.6 2602.8L645.3 2601.4L645.9 2596.2L646.6 2596.9L647.3 2597.0L648.0 2605.0L648.6 2600.4L649.3 2598.8L650.0 2599.3L650.7 2594.9L651.3 2598.6L652.0 2597.6L652.7 2595.5L653.3 2596.3L654.0 2596.7L654.7 2591.5L655.4 2594.5L656.0 2589.6L656.7 2598.2L657.4 2594.7L658.1 2586.9L658.7 2593.3L659.4 2592.5L660.1 2601.3L660.8 2594.1L661.4 2596.8L662.1 2593.8L662.8 2597.8L663.4 2592.9L664.1 2587.8L664.8 2590.4L665.5 2587.5L666.1 2587.8L666.8 2585.8L667.5 2586.5L668.2 2591.6L668.8 2587.3L669.5 2583.4L670.2 2582.1L670.8 2584.5L671.5 2584.0L672.2 2584.4L672.9 2582.1L673.5 2579.6L674.2 2584.5L674.9 2580.4L675.6 2585.3L676.2 2580.8L676.9 2587.5L677.6 2577.0L678.3 2572.2L678.9 2574.9L679.6 2574.6L680.3 2574.0L680.9 2566.4L681.6 2571.8L682.3 2571.6L683.0 2577.2L683.6 2566.6L684.3 2565.4L685.0 2570.1L685.7 2571.3L686.3 2568.9L687.0 2566.4L687.7 2566.1L688.4 2559.8L689.0 2555.4L689.7 2555.5L690.4 2566.6L691.0 2556.5L691.7 2546.1L692.4 2551.8L693.1 2544.2L693.7 2548.7L694.4 2546.7L695.1 2539.8L695.8 2534.4L696.4 2543.4L697.1 2539.8L697.8 2533.0L698.5 2524.4L699.1 2532.4L699.8 2524.5L700.5 2527.8L701.1 2519.9L701.8 2516.7L702.5 2508.7L703.2 2506.5L703.8 2510.7L704.5 2512.0L705.2 2507.2L705.9 2488.6L706.5 2491.8L707.2 2488.5L707.9 2484.0L708.5 2472.6L709.2 2474.3L709.9 2464.1L710.6 2475.7L711.2 2463.0L711.9 2470.6L712.6 2458.4L713.3 2451.6L713.9 2451.7L714.6 2446.1L715.3 2454.4L716.0 2443.0L716.6 2425.1L717.3 2429.6L718.0 2429.2L718.6 2415.7L719.3 2415.1L720.0 2401.4L720.7 2390.2L721.3 2386.7L722.0 2386.5L722.7 2380.8L723.4 2371.5L724.0 2352.3L724.7 2369.2L725.4 2349.9L726.1 2344.9L726.7 2334.4L727.4 2340.5L728.1 2325.7L728.7 2328.8L729.4 2316.7L730.1 2311.4L730.8 2302.5L731.4 2291.5L732.1 2306.8L732.8 2295.1L733.5 2302.6L734.1 2307.9L734.8 2280.6L735.5 2292.6L736.1 2284.3L736.8 2277.5L737.5 2276.6L738.2 2287.6L738.8 2295.3L739.5 2275.8L740.2 2281.6L740.9 2282.3L741.5 2277.6L742.2 2295.8L742.9 2294.2L743.6 2294.9L744.2 2297.8L744.9 2304.8L745.6 2315.5L746.2 2305.3L746.9 2336.1L747.6 2332.2L748.3 2343.2L748.9 2349.3L749.6 2350.3L750.3 2372.7L751.0 2369.2L751.6 2378.8L752.3 2387.5L753.0 2375.9L753.7 2410.6L754.3 2409.8L755.0 2392.9L755.7 2417.5L756.3 2415.4L757.0 2434.8L757.7 2427.7L758.4 2443.6L759.0 2446.6L759.7 2459.2L760.4 2462.6L761.1 2464.8L761.7 2471.6L762.4 2478.7L763.1 2480.8L763.8 2496.8L764.4 2483.3L765.1 2489.7L765.8 2505.2L766.4 2498.7L767.1 2510.0L767.8 2520.9L768.5 2509.4L769.1 2526.6L769.8 2535.5L770.5 2528.3L771.2 2522.1L771.8 2526.8L772.5 2533.4L773.2 2548.3L773.8 2543.0L774.5 2542.0L775.2 2548.4L775.9 2548.9L776.5 2549.2L777.2 2546.5L777.9 2562.1L778.6 2558.3L779.2 2556.2L779.9 2560.4L780.6 2563.2L781.3 2572.9L781.9 2564.9L782.6 2565.6L783.3 2566.5L783.9 2571.7L784.6 2572.1L785.3 2567.4L786.0 2577.1L786.6 2568.2L787.3 2577.4L788.0 2580.9L788.7 2571.9L789.3 2577.9L790.0 2573.0L790.7 2582.5L791.4 2580.6L792.0 2584.7L792.7 2582.2L793.4 2581.8L794.0 2580.3L794.7 2589.3L795.4 2587.2L796.1 2587.5L796.7 2583.3L797.4 2593.2L798.1 2596.5L798.8 2595.0L799.4 2594.3L800.1 2597.1L800.8 2605.5L801.5 2600.3L802.1 2597.4L802.8 2605.3L803.5 2598.8L804.1 2593.3L804.8 2600.3L805.5 2603.6L806.2 2598.3L806.8 2599.6L807.5 2608.6L808.2 2600.9L808.9 2604.9L809.5 2604.1L810.2 2608.2L810.9 2605.3L811.5 2603.6L812.2 2611.2L812.9 2606.8L813.6 2607.9L814.2 2610.2L814.9 2604.9L815.6 2608.5L816.3 2610.2L816.9 2610.8L817.6 2607.7L818.3 2608.5L819.0 2610.3L819.6 2610.6L820.3 2614.4L821.0 2615.4L821.6 2614.4L822.3 2612.7L823.0 2614.6L823.7 2612.5L824.3 2609.7L825.0 2619.2L825.7 2612.3L826.4 2612.9L827.0 2616.4L827.7 2611.0L828.4 2609.1L829.1 2612.1L829.7 2612.9L830.4 2621.2L831.1 2614.6L831.7 2618.9L832.4 2617.3L833.1 2616.4L833.8 2619.5L834.4 2613.9L835.1 2616.2L835.8 2616.7L836.5 2621.1L837.1 2617.6L837.8 2620.5L838.5 2616.6L839.1 2617.7L839.8 2618.5L840.5 2622.4L841.2 2619.4L841.8 2625.0L842.5 2623.2L843.2 2621.9L843.9 2625.8L844.5 2626.3L845.2 2620.2L845.9 2626.1L846.6 2629.1L847.2 2628.4L847.9 2623.4L848.6 2619.4L849.2 2618.3L849.9 2618.7L850.6 2622.7L851.3 2623.7L851.9 2619.3L852.6 2627.7L853.3 2623.4L854.0 2626.6L854.6 2623.1L855.3 2629.7L856.0 2627.2L856.7 2627.1L857.3 2623.9L858.0 2623.9L858.7 2631.2L859.3 2623.6L860.0 2626.0L860.7 2627.5L861.4 2624.4L862.0 2626.3L862.7 2628.1L863.4 2629.1L864.1 2631.4L864.7 2626.0L865.4 2628.9L866.1 2629.7L866.8 2625.2L867.4 2623.5L868.1 2626.4L868.8 2630.1L869.4 2627.0L870.1 2622.2L870.8 2624.4L871.5 2625.4L872.1 2624.0L872.8 2628.5L873.5 2631.1L874.2 2629.2L874.8 2630.7L875.5 2632.3L876.2 2631.1L876.8 2628.6L877.5 2626.7L878.2 2626.0L878.9 2631.2L879.5 2625.1L880.2 2626.6L880.9 2625.1L881.6 2627.2L882.2 2629.5L882.9 2625.0L883.6 2627.9L884.3 2624.1L884.9 2625.4L885.6 2625.0L886.3 2628.5L886.9 2630.0L887.6 2626.1L888.3 2627.6L889.0 2623.6L889.6 2624.0L890.3 2626.5L891.0 2626.7L891.7 2625.6L892.3 2626.5L893.0 2623.1L893.7 2623.1L894.4 2626.0L895.0 2622.9L895.7 2623.9L896.4 2624.8L897.0 2626.9L897.7 2624.4L898.4 2629.8L899.1 2628.9L899.7 2625.6L900.4 2622.4L901.1 2631.5L901.8 2624.3L902.4 2627.6L903.1 2625.0L903.8 2624.9L904.4 2626.1L905.1 2624.6L905.8 2626.6L906.5 2626.0L907.1 2623.2L907.8 2623.7L908.5 2624.2L909.2 2627.2L909.8 2625.2L910.5 2625.3L911.2 2622.6L911.9 2623.5L912.5 2624.2L913.2 2620.0L913.9 2623.6L914.5 2621.0L915.2 2622.3L915.9 2621.5L916.6 2626.3L917.2 2623.3L917.9 2621.5L918.6 2622.6L919.3 2623.2L919.9 2623.1L920.6 2621.1L921.3 2620.4L922.0 2620.6L922.6 2622.2L923.3 2622.5L924.0 2627.7L924.6 2621.2L925.3 2622.8L926.0 2620.8L926.7 2622.0L927.3 2621.9L928.0 2623.3L928.7 2620.7L929.4 2621.4L930.0 2619.4L930.7 2619.7L931.4 2623.5L932.1 2626.1L932.7 2622.9L933.4 2621.1L934.1 2618.2L934.7 2619.8L935.4 2621.1L936.1 2619.4L936.8 2622.4L937.4 2621.6L938.1 2624.9L938.8 2623.2L939.5 2625.1L940.1 2622.3L940.8 2618.9L941.5 2620.1L942.1 2618.9L942.8 2626.5L943.5 2620.3L944.2 2620.2L944.8 2620.1L945.5 2622.9L946.2 2619.4L946.9 2624.1L947.5 2623.8L948.2 2623.0L948.9 2620.7L949.6 2621.2L950.2 2621.4L950.9 2619.2L951.6 2620.3L952.2 2618.2L952.9 2620.2L953.6 2617.4L954.3 2620.4L954.9 2620.3L955.6 2620.9L956.3 2616.9L957.0 2617.7L957.6 2618.3L958.3 2617.8L959.0 2613.6L959.7 2610.7L960.3 2618.4L961.0 2611.0L961.7 2617.9L962.3 2612.4L963.0 2610.2L963.7 2611.4L964.4 2611.0L965.0 2617.9L965.7 2610.5L966.4 2611.5L967.1 2607.7L967.7 2606.6L968.4 2608.6L969.1 2606.2L969.8 2606.1L970.4 2609.8L971.1 2607.1L971.8 2605.5L972.4 2607.9L973.1 2605.1L973.8 2602.4L974.5 2597.9L975.1 2604.3L975.8 2598.2L976.5 2601.8L977.2 2600.3L977.8 2599.7L978.5 2596.6L979.2 2593.1L979.8 2595.9L980.5 2596.6L981.2 2589.9L981.9 2590.8L982.5 2593.9L983.2 2592.1L983.9 2589.2L984.6 2589.6L985.2 2585.2L985.9 2581.9L986.6 2583.1L987.3 2585.1L987.9 2579.3L988.6 2578.1L989.3 2582.6L989.9 2581.7L990.6 2587.6L991.3 2576.7L992.0 2579.7L992.6 2575.3L993.3 2577.5L994.0 2573.6L994.7 2580.8L995.3 2583.5L996.0 2577.8L996.7 2588.9L997.4 2587.8L998.0 2590.4L998.7 2588.7L999.4 2584.9L1000.0 2586.3L1000.7 2588.4L1001.4 2587.3L1002.1 2591.1L1002.7 2595.1L1003.4 2595.4L1004.1 2593.7L1004.8 2595.4L1005.4 2593.2L1006.1 2597.8L1006.8 2598.1L1007.4 2597.3L1008.1 2596.5L1008.8 2602.2L1009.5 2598.1L1010.1 2602.6L1010.8 2598.6L1011.5 2605.9L1012.2 2608.7L1012.8 2604.0L1013.5 2607.6L1014.2 2606.0L1014.9 2604.9L1015.5 2609.9L1016.2 2608.8L1016.9 2609.9L1017.5 2606.8L1018.2 2609.7L1018.9 2611.3L1019.6 2615.2L1020.2 2618.8L1020.9 2615.0L1021.6 2616.3L1022.3 2613.4L1022.9 2614.5L1023.6 2618.0L1024.3 2615.5L1025.0 2618.4L1025.6 2619.3L1026.3 2614.7L1027.0 2618.1L1027.6 2618.9L1028.3 2621.6L1029.0 2621.6L1029.7 2621.4L1030.3 2621.1L1031.0 2623.3L1031.7 2616.4L1032.4 2627.5L1033.0 2624.7L1033.7 2622.9L1034.4 2619.7L1035.1 2623.8L1035.7 2620.8L1036.4 2624.1L1037.1 2623.0L1037.7 2617.9L1038.4 2623.5L1039.1 2621.9L1039.8 2620.5L1040.4 2623.4L1041.1 2626.7L1041.8 2626.2L1042.5 2625.3L1043.1 2624.7L1043.8 2627.5L1044.5 2627.0L1045.1 2626.5L1045.8 2623.2L1046.5 2627.3L1047.2 2627.1L1047.8 2627.2L1048.5 2627.3L1049.2 2625.4L1049.9 2624.8L1050.5 2624.5L1051.2 2626.0L1051.9 2629.1L1052.6 2625.9L1053.2 2627.6L1053.9 2631.3L1054.6 2625.0L1055.2 2627.9L1055.9 2629.6L1056.6 2624.8L1057.3 2623.1L1057.9 2630.2L1058.6 2628.3L1059.3 2628.0L1060.0 2629.8L1060.6 2627.0L1061.3 2628.8L1062.0 2628.5L1062.7 2628.8L1063.3 2631.3L1064.0 2629.0L1064.7 2631.3L1065.3 2631.1L1066.0 2627.0L1066.7 2631.4L1067.4 2631.4L1068.0 2630.5L1068.7 2627.9L1069.4 2628.2L1070.1 2626.3L1070.7 2627.7L1071.4 2632.6L1072.1 2632.9L1072.7 2636.4L1073.4 2630.3L1074.1 2632.4L1074.8 2629.1L1075.4 2630.9L1076.1 2635.1L1076.8 2631.2L1077.5 2628.7L1078.1 2633.7L1078.8 2630.7L1079.5 2632.7L1080.2 2634.1L1080.8 2634.4L1081.5 2633.4L1082.2 2628.4L1082.8 2634.7L1083.5 2631.4L1084.2 2632.7L1084.9 2635.1L1085.5 2629.2L1086.2 2631.6L1086.9 2632.7L1087.6 2630.4L1088.2 2629.0L1088.9 2633.6L1089.6 2632.7L1090.3 2630.9L1090.9 2633.4L1091.6 2634.4L1092.3 2635.2L1092.9 2629.9L1093.6 2634.1L1094.3 2632.1L1095.0 2629.7L1095.6 2633.7L1096.3 2630.7L1097.0 2629.3L1097.7 2629.9L1098.3 2634.8L1099.0 2631.8L1099.7 2635.1L1100.4 2634.3L1101.0 2634.1L1101.7 2629.8L1102.4 2635.2L1103.0 2630.8L1103.7 2629.5L1104.4 2633.3L1105.1 2630.6L1105.7 2634.4L1106.4 2631.0L1107.1 2631.8L1107.8 2633.4L1108.4 2635.2L1109.1 2636.4L1109.8 2635.3L1110.4 2632.8L1111.1 2635.1L1111.8 2635.5L1112.5 2634.5L1113.1 2634.0L1113.8 2637.2L1114.5 2630.6L1115.2 2631.2L1115.8 2638.3L1116.5 2635.6L1117.2 2630.0L1117.9 2633.8L1118.5 2634.2L1119.2 2634.2L1119.9 2640.7L1120.5 2633.8L1121.2 2632.4L1121.9 2632.0L1122.6 2636.3L1123.2 2635.1L1123.9 2636.8L1124.6 2633.8L1125.3 2635.2L1125.9 2633.7L1126.6 2634.3L1127.3 2636.2L1128.0 2637.0L1128.6 2631.6L1129.3 2635.3L1130.0 2635.9L1130.6 2635.2L1131.3 2634.3L1132.0 2632.6L1132.7 2638.5L1133.3 2636.1L1134.0 2636.9L1134.7 2638.7L1135.4 2631.0L1136.0 2632.9L1136.7 2633.9L1137.4 2632.6L1138.1 2631.1L1138.7 2626.4L1139.4 2632.3L1140.1 2630.9L1140.7 2630.8L1141.4 2633.1L1142.1 2632.3L1142.8 2630.8L1143.4 2635.3L1144.1 2633.4L1144.8 2635.5L1145.5 2634.2L1146.1 2633.6L1146.8 2636.0L1147.5 2635.0L1148.1 2632.6L1148.8 2636.9L1149.5 2632.8L1150.2 2640.0L1150.8 2638.1L1151.5 2636.1L1152.2 2636.6L1152.9 2637.1L1153.5 2637.0L1154.2 2633.3L1154.9 2635.9L1155.6 2632.4L1156.2 2632.6L1156.9 2630.5L1157.6 2637.4L1158.2 2636.0L1158.9 2634.7L1159.6 2631.9L1160.3 2635.0L1160.9 2641.6L1161.6 2633.7L1162.3 2629.7L1163.0 2632.2L1163.6 2637.0L1164.3 2633.2L1165.0 2635.6L1165.7 2635.3L1166.3 2635.3L1167.0 2638.6L1167.7 2635.9L1168.3 2634.7L1169.0 2635.4L1169.7 2636.4L1170.4 2636.3L1171.0 2633.9L1171.7 2634.8L1172.4 2635.9L1173.1 2634.6L1173.7 2634.3L1174.4 2631.8L1175.1 2638.6L1175.7 2635.4L1176.4 2638.6L1177.1 2633.4L1177.8 2635.6L1178.4 2637.9L1179.1 2636.2L1179.8 2634.9L1180.5 2637.7L1181.1 2639.9L1181.8 2637.4L1182.5 2636.1L1183.2 2637.4L1183.8 2638.0L1184.5 2634.8L1185.2 2632.0L1185.8 2633.1L1186.5 2636.1L1187.2 2638.1L1187.9 2635.0L1188.5 2636.3L1189.2 2635.5L1189.9 2637.3L1190.6 2640.5L1191.2 2636.7L1191.9 2638.9L1192.6 2635.7L1193.3 2638.1L1193.9 2637.1L1194.6 2638.1L1195.3 2634.7L1195.9 2634.9L1196.6 2636.3L1197.3 2637.8L1198.0 2633.4L1198.6 2636.3L1199.3 2639.4L1200.0 2636.0L1200.7 2636.6L1201.3 2638.2L1202.0 2636.5L1202.7 2635.8L1203.4 2634.3L1204.0 2636.5L1204.7 2634.7L1205.4 2636.9L1206.0 2633.8L1206.7 2635.2L1207.4 2635.6L1208.1 2640.2L1208.7 2634.9L1209.4 2636.1L1210.1 2637.2L1210.8 2635.3L1211.4 2636.7L1212.1 2636.9L1212.8 2635.8L1213.4 2636.9L1214.1 2637.7L1214.8 2637.3L1215.5 2636.4L1216.1 2636.8L1216.8 2633.3L1217.5 2638.7L1218.2 2636.3L1218.8 2636.9L1219.5 2631.8L1220.2 2635.3L1220.9 2636.4L1221.5 2635.7L1222.2 2638.1L1222.9 2636.5L1223.5 2636.5L1224.2 2634.5L1224.9 2635.1L1225.6 2634.6L1226.2 2637.6L1226.9 2635.0L1227.6 2635.7L1228.3 2633.4L1228.9 2634.4L1229.6 2632.0L1230.3 2634.7L1231.0 2635.5L1231.6 2636.5L1232.3 2633.4L1233.0 2633.6L1233.6 2636.4L1234.3 2635.2L1235.0 2635.1L1235.7 2634.0L1236.3 2630.5L1237.0 2629.6L1237.7 2630.3L1238.4 2630.4L1239.0 2634.2L1239.7 2637.5L1240.4 2633.8L1241.0 2633.9L1241.7 2630.5L1242.4 2631.6L1243.1 2631.6L1243.7 2631.4L1244.4 2630.4L1245.1 2633.3L1245.8 2634.6L1246.4 2631.4L1247.1 2636.4L1247.8 2635.6L1248.5 2636.0L1249.1 2633.6L1249.8 2637.3L1250.5 2633.0L1251.1 2633.7L1251.8 2634.0L1252.5 2631.2L1253.2 2633.1L1253.8 2633.4L1254.5 2630.7L1255.2 2632.5L1255.9 2630.9L1256.5 2629.5L1257.2 2633.2L1257.9 2631.3L1258.6 2633.9L1259.2 2633.6L1259.9 2631.0L1260.6 2631.5L1261.2 2629.4L1261.9 2631.6L1262.6 2632.0L1263.3 2629.7L1263.9 2630.5L1264.6 2633.2L1265.3 2634.0L1266.0 2629.2L1266.6 2632.1L1267.3 2630.8L1268.0 2630.8L1268.7 2631.4L1269.3 2630.3L1270.0 2630.8L1270.7 2632.1L1271.3 2632.1L1272.0 2634.0L1272.7 2633.9L1273.4 2631.5L1274.0 2630.3L1274.7 2628.9L1275.4 2633.0L1276.1 2627.8L1276.7 2627.2L1277.4 2631.1L1278.1 2630.6L1278.7 2635.0L1279.4 2630.7L1280.1 2630.5L1280.8 2629.2L1281.4 2627.1L1282.1 2633.3L1282.8 2626.9L1283.5 2623.5L1284.1 2625.8L1284.8 2630.7L1285.5 2624.2L1286.2 2625.6L1286.8 2626.7L1287.5 2628.9L1288.2 2623.9L1288.8 2626.5L1289.5 2627.4L1290.2 2629.7L1290.9 2625.3L1291.5 2626.2L1292.2 2624.7L1292.9 2627.0L1293.6 2625.1L1294.2 2629.7L1294.9 2625.6L1295.6 2624.1L1296.3 2627.4L1296.9 2625.2L1297.6 2624.6L1298.3 2625.6L1298.9 2625.2L1299.6 2624.8L1300.3 2625.2L1301.0 2626.2L1301.6 2626.4L1302.3 2624.4L1303.0 2625.3L1303.7 2626.9L1304.3 2624.6L1305.0 2621.6L1305.7 2623.9L1306.4 2617.8L1307.0 2621.0L1307.7 2621.1L1308.4 2620.2L1309.0 2624.3L1309.7 2617.9L1310.4 2621.4L1311.1 2621.3L1311.7 2622.0L1312.4 2615.2L1313.1 2617.0L1313.8 2616.2L1314.4 2615.6L1315.1 2617.0L1315.8 2614.6L1316.4 2609.8L1317.1 2615.6L1317.8 2613.5L1318.5 2613.0L1319.1 2612.7L1319.8 2611.0L1320.5 2611.4L1321.2 2612.5L1321.8 2607.2L1322.5 2609.4L1323.2 2612.6L1323.9 2602.9L1324.5 2606.7L1325.2 2607.8L1325.9 2609.5L1326.5 2604.6L1327.2 2612.1L1327.9 2604.7L1328.6 2600.1L1329.2 2599.3L1329.9 2599.5L1330.6 2596.7L1331.3 2595.9L1331.9 2598.8L1332.6 2595.4L1333.3 2604.6L1334.0 2603.6L1334.6 2595.6L1335.3 2592.2L1336.0 2594.3L1336.6 2598.4L1337.3 2598.3L1338.0 2593.2L1338.7 2594.1L1339.3 2599.1L1340.0 2594.9L1340.7 2596.8L1341.4 2595.2L1342.0 2596.2L1342.7 2591.5L1343.4 2596.0L1344.0 2594.3L1344.7 2591.2L1345.4 2597.0L1346.1 2594.8L1346.7 2592.1L1347.4 2590.9L1348.1 2599.1L1348.8 2602.8L1349.4 2595.0L1350.1 2595.5L1350.8 2599.8L1351.5 2596.4L1352.1 2602.2L1352.8 2596.7L1353.5 2602.9L1354.1 2606.4L1354.8 2605.1L1355.5 2608.4L1356.2 2609.0L1356.8 2606.2L1357.5 2606.4L1358.2 2608.8L1358.9 2605.2L1359.5 2607.2L1360.2 2609.0L1360.9 2607.2L1361.6 2608.0L1362.2 2616.8L1362.9 2611.0L1363.6 2609.3L1364.2 2610.1L1364.9 2613.9L1365.6 2613.4L1366.3 2611.8L1366.9 2613.4L1367.6 2607.6L1368.3 2610.3L1369.0 2605.7L1369.6 2614.5L1370.3 2612.0L1371.0 2613.5L1371.7 2613.6L1372.3 2614.5L1373.0 2614.7L1373.7 2610.8L1374.3 2613.1L1375.0 2612.5L1375.7 2614.1L1376.4 2613.8L1377.0 2614.4L1377.7 2614.5L1378.4 2613.5L1379.1 2610.1L1379.7 2613.4L1380.4 2614.9L1381.1 2615.4L1381.7 2616.7L1382.4 2617.5L1383.1 2616.6L1383.8 2620.7L1384.4 2612.5L1385.1 2617.0L1385.8 2620.0L1386.5 2619.6L1387.1 2619.9L1387.8 2616.0L1388.5 2616.8L1389.2 2617.6L1389.8 2615.6L1390.5 2611.6L1391.2 2619.1L1391.8 2611.1L1392.5 2613.8L1393.2 2619.4L1393.9 2619.7L1394.5 2618.9L1395.2 2617.6L1395.9 2616.9L1396.6 2619.8L1397.2 2614.8L1397.9 2617.2L1398.6 2614.9L1399.3 2613.7L1399.9 2611.0L1400.6 2616.7L1401.3 2606.1L1401.9 2615.8L1402.6 2613.6L1403.3 2611.2L1404.0 2612.5L1404.6 2613.1L1405.3 2612.9L1406.0 2606.1L1406.7 2610.2L1407.3 2608.0L1408.0 2610.4L1408.7 2609.8L1409.3 2610.7L1410.0 2610.8L1410.7 2611.5L1411.4 2608.0L1412.0 2608.8L1412.7 2609.3L1413.4 2609.6L1414.1 2610.9L1414.7 2613.0L1415.4 2609.0L1416.1 2603.6L1416.8 2604.7L1417.4 2611.4L1418.1 2611.9L1418.8 2605.2L1419.4 2607.9L1420.1 2605.7L1420.8 2601.6L1421.5 2601.2L1422.1 2596.1L1422.8 2601.6L1423.5 2595.3L1424.2 2594.1L1424.8 2600.5L1425.5 2597.1L1426.2 2595.1L1426.9 2600.3L1427.5 2595.3L1428.2 2591.0L1428.9 2601.9L1429.5 2595.8L1430.2 2595.8L1430.9 2595.2L1431.6 2596.2L1432.2 2587.9L1432.9 2585.7L1433.6 2585.8L1434.3 2586.9L1434.9 2592.9L1435.6 2579.5L1436.3 2581.9L1437.0 2583.5L1437.6 2579.4L1438.3 2577.2L1439.0 2574.7L1439.6 2576.8L1440.3 2570.9L1441.0 2572.1L1441.7 2566.2L1442.3 2566.3L1443.0 2565.5L1443.7 2569.9L1444.4 2564.3L1445.0 2564.2L1445.7 2564.3L1446.4 2565.4L1447.0 2567.9L1447.7 2554.8L1448.4 2555.4L1449.1 2551.3L1449.7 2564.1L1450.4 2546.7L1451.1 2547.8L1451.8 2550.0L1452.4 2541.6L1453.1 2537.0L1453.8 2530.6L1454.5 2549.7L1455.1 2538.7L1455.8 2546.2L1456.5 2532.0L1457.1 2540.8L1457.8 2533.4L1458.5 2529.7L1459.2 2529.1L1459.8 2539.4L1460.5 2536.3L1461.2 2530.5L1461.9 2531.6L1462.5 2530.3L1463.2 2530.3L1463.9 2528.3L1464.6 2530.4L1465.2 2532.8L1465.9 2528.4L1466.6 2537.4L1467.2 2528.0L1467.9 2534.3L1468.6 2550.6L1469.3 2548.2L1469.9 2538.3L1470.6 2546.2L1471.3 2559.1L1472.0 2558.7L1472.6 2557.2L1473.3 2553.8L1474.0 2552.6L1474.7 2560.9L1475.3 2553.7L1476.0 2561.7L1476.7 2562.8L1477.3 2574.9L1478.0 2563.5L1478.7 2572.9L1479.4 2568.4L1480.0 2572.7L1480.7 2567.2L1481.4 2581.1L1482.1 2575.6L1482.7 2574.4L1483.4 2580.5L1484.1 2584.8L1484.7 2583.5L1485.4 2587.7L1486.1 2582.7L1486.8 2587.4L1487.4 2595.5L1488.1 2589.7L1488.8 2589.9L1489.5 2593.6L1490.1 2593.5L1490.8 2592.6L1491.5 2593.7L1492.2 2595.9L1492.8 2594.1L1493.5 2601.6L1494.2 2592.4L1494.8 2601.7L1495.5 2602.2L1496.2 2608.2L1496.9 2599.4L1497.5 2599.7L1498.2 2607.3L1498.9 2606.0L1499.6 2605.9L1500.2 2606.8L1500.9 2609.5L1501.6 2609.5L1502.3 2604.4L1502.9 2606.7L1503.6 2611.5L1504.3 2606.8L1504.9 2610.3L1505.6 2618.5L1506.3 2610.5L1507.0 2612.3L1507.6 2609.8L1508.3 2613.2L1509.0 2610.3L1509.7 2617.5L1510.3 2617.4L1511.0 2616.2L1511.7 2612.6L1512.3 2618.4L1513.0 2616.2L1513.7 2613.2L1514.4 2615.2L1515.0 2617.5L1515.7 2619.6L1516.4 2621.4L1517.1 2622.8L1517.7 2618.5L1518.4 2619.8L1519.1 2618.8L1519.8 2622.2L1520.4 2620.9L1521.1 2618.0L1521.8 2618.4L1522.4 2619.3L1523.1 2620.5L1523.8 2615.5L1524.5 2621.4L1525.1 2620.2L1525.8 2622.9L1526.5 2620.9L1527.2 2625.7L1527.8 2617.2L1528.5 2620.7L1529.2 2627.6L1529.9 2624.9L1530.5 2618.9L1531.2 2624.1L1531.9 2622.4L1532.5 2623.5L1533.2 2621.7L1533.9 2621.3L1534.6 2622.3L1535.2 2623.2L1535.9 2626.1L1536.6 2623.7L1537.3 2621.4L1537.9 2622.0L1538.6 2624.6L1539.3 2622.6L1540.0 2621.3L1540.6 2623.3L1541.3 2622.3L1542.0 2624.3L1542.6 2624.7L1543.3 2621.4L1544.0 2621.8L1544.7 2623.5L1545.3 2623.9L1546.0 2623.7L1546.7 2625.6L1547.4 2629.1L1548.0 2624.4L1548.7 2623.4L1549.4 2623.4L1550.0 2621.8L1550.7 2620.1L1551.4 2620.8L1552.1 2625.6L1552.7 2626.6L1553.4 2625.4L1554.1 2617.4L1554.8 2620.4L1555.4 2631.9L1556.1 2629.2L1556.8 2623.9L1557.5 2620.7L1558.1 2620.2L1558.8 2617.7L1559.5 2625.0L1560.1 2621.2L1560.8 2623.8L1561.5 2621.8L1562.2 2627.3L1562.8 2623.8L1563.5 2623.6L1564.2 2623.0L1564.9 2621.8L1565.5 2625.4L1566.2 2621.3L1566.9 2625.7L1567.6 2622.2L1568.2 2623.7L1568.9 2622.0L1569.6 2618.2L1570.2 2621.2L1570.9 2626.7L1571.6 2622.1L1572.3 2623.2L1572.9 2620.0L1573.6 2620.4L1574.3 2620.8L1575.0 2620.2L1575.6 2621.9L1576.3 2622.1L1577.0 2618.4L1577.6 2621.2L1578.3 2620.5L1579.0 2621.2L1579.7 2619.7L1580.3 2620.5L1581.0 2622.5L1581.7 2622.6L1582.4 2621.4L1583.0 2622.3L1583.7 2623.5L1584.4 2619.1L1585.1 2624.0L1585.7 2615.1L1586.4 2619.2L1587.1 2614.3L1587.7 2620.4L1588.4 2610.7L1589.1 2619.3L1589.8 2621.8L1590.4 2615.1L1591.1 2616.9L1591.8 2614.8L1592.5 2616.9L1593.1 2619.9L1593.8 2616.3L1594.5 2613.5L1595.2 2615.7L1595.8 2616.5L1596.5 2617.2L1597.2 2609.7L1597.8 2611.5L1598.5 2610.6L1599.2 2606.9L1599.9 2610.7L1600.5 2615.1L1601.2 2605.4L1601.9 2604.3L1602.6 2603.5L1603.2 2605.6L1603.9 2607.1L1604.6 2604.5L1605.3 2603.1L1605.9 2605.2L1606.6 2597.4L1607.3 2607.7L1607.9 2598.5L1608.6 2604.3L1609.3 2599.1L1610.0 2598.3L1610.6 2593.2L1611.3 2597.0L1612.0 2596.1L1612.7 2598.0L1613.3 2594.0L1614.0 2600.9L1614.7 2590.7L1615.3 2592.8L1616.0 2596.9L1616.7 2587.0L1617.4 2593.3L1618.0 2585.5L1618.7 2581.4L1619.4 2587.5L1620.1 2584.4L1620.7 2585.9L1621.4 2578.4L1622.1 2573.1L1622.8 2576.3L1623.4 2580.4L1624.1 2571.4L1624.8 2585.9L1625.4 2569.6L1626.1 2571.5L1626.8 2566.0L1627.5 2563.8L1628.1 2561.0L1628.8 2556.2L1629.5 2553.0L1630.2 2554.4L1630.8 2545.1L1631.5 2550.5L1632.2 2540.3L1632.9 2548.1L1633.5 2543.1L1634.2 2535.2L1634.9 2537.8L1635.5 2536.2L1636.2 2533.1L1636.9 2536.8L1637.6 2531.5L1638.2 2518.4L1638.9 2519.8L1639.6 2525.2L1640.3 2517.1L1640.9 2521.5L1641.6 2512.2L1642.3 2510.0L1643.0 2516.3L1643.6 2508.8L1644.3 2506.5L1645.0 2506.1L1645.6 2503.1L1646.3 2512.7L1647.0 2500.1L1647.7 2501.0L1648.3 2501.9L1649.0 2500.6L1649.7 2498.5L1650.4 2512.8L1651.0 2515.6L1651.7 2521.2L1652.4 2511.6L1653.0 2512.5L1653.7 2516.7L1654.4 2526.4L1655.1 2520.3L1655.7 2529.5L1656.4 2513.5L1657.1 2532.1L1657.8 2529.8L1658.4 2534.8L1659.1 2533.1L1659.8 2530.6L1660.5 2536.1L1661.1 2544.0L1661.8 2540.7L1662.5 2548.9L1663.1 2549.0L1663.8 2538.5L1664.5 2549.7L1665.2 2543.1L1665.8 2558.7L1666.5 2549.3L1667.2 2561.4L1667.9 2571.9L1668.5 2569.6L1669.2 2572.4L1669.9 2568.3L1670.6 2563.3L1671.2 2574.3L1671.9 2576.9L1672.6 2572.7L1673.2 2572.7L1673.9 2577.2L1674.6 2575.2L1675.3 2575.9L1675.9 2582.2L1676.6 2583.3L1677.3 2587.8L1678.0 2590.5L1678.6 2595.2L1679.3 2591.4L1680.0 2591.0L1680.6 2598.9L1681.3 2596.1L1682.0 2598.2L1682.7 2601.0L1683.3 2600.4L1684.0 2601.1L1684.7 2601.9L1685.4 2601.4L1686.0 2601.2L1686.7 2599.8L1687.4 2606.1L1688.1 2600.5L1688.7 2599.0L1689.4 2601.0L1690.1 2604.4L1690.7 2608.6L1691.4 2603.6L1692.1 2610.0L1692.8 2611.9L1693.4 2608.5L1694.1 2611.4L1694.8 2609.6L1695.5 2612.5L1696.1 2610.5L1696.8 2611.4L1697.5 2608.6L1698.2 2617.1L1698.8 2609.3L1699.5 2614.9L1700.2 2612.2L1700.8 2612.2L1701.5 2616.8L1702.2 2611.3L1702.9 2621.3L1703.5 2616.4L1704.2 2614.7L1704.9 2615.2L1705.6 2617.5L1706.2 2625.5L1706.9 2624.2L1707.6 2622.9L1708.3 2616.2L1708.9 2622.7L1709.6 2616.9L1710.3 2618.3L1710.9 2617.7L1711.6 2620.3L1712.3 2617.6L1713.0 2620.1L1713.6 2619.7L1714.3 2618.4L1715.0 2620.8L1715.7 2623.7L1716.3 2621.2L1717.0 2621.2L1717.7 2623.6L1718.3 2626.8L1719.0 2626.0L1719.7 2627.1L1720.4 2627.2L1721.0 2625.6L1721.7 2625.7L1722.4 2626.2L1723.1 2625.2L1723.7 2627.2L1724.4 2624.7L1725.1 2633.7L1725.8 2627.9L1726.4 2624.6L1727.1 2625.2L1727.8 2626.2L1728.4 2629.2L1729.1 2628.3L1729.8 2624.4L1730.5 2630.3L1731.1 2627.3L1731.8 2624.5L1732.5 2627.6L1733.2 2630.2L1733.8 2631.5L1734.5 2625.4L1735.2 2628.9L1735.9 2627.4L1736.5 2628.7L1737.2 2629.3L1737.9 2631.3L1738.5 2628.3L1739.2 2635.5L1739.9 2625.6L1740.6 2626.9L1741.2 2632.1L1741.9 2630.1L1742.6 2630.9L1743.3 2629.5L1743.9 2633.0L1744.6 2626.5L1745.3 2628.4L1745.9 2628.6L1746.6 2625.7L1747.3 2625.1L1748.0 2630.5L1748.6 2628.7L1749.3 2631.9L1750.0 2628.8L1750.7 2627.5L1751.3 2629.5L1752.0 2628.2L1752.7 2631.0L1753.4 2632.5L1754.0 2630.8L1754.7 2629.1L1755.4 2631.7L1756.0 2628.7L1756.7 2627.4L1757.4 2629.4L1758.1 2632.4L1758.7 2632.7L1759.4 2627.6L1760.1 2628.7L1760.8 2629.8L1761.4 2631.8L1762.1 2630.6L1762.8 2635.0L1763.5 2633.8L1764.1 2632.6L1764.8 2634.2L1765.5 2630.7L1766.1 2632.3L1766.8 2630.6L1767.5 2630.8L1768.2 2630.5L1768.8 2631.4L1769.5 2626.6L1770.2 2631.8L1770.9 2628.5L1771.5 2632.3L1772.2 2632.6L1772.9 2627.3L1773.6 2631.4L1774.2 2635.3L1774.9 2632.9L1775.6 2636.0L1776.2 2633.5L1776.9 2637.3L1777.6 2633.6L1778.3 2631.8L1778.9 2634.6L1779.6 2634.2L1780.3 2633.7L1781.0 2633.3L1781.6 2631.9L1782.3 2633.8L1783.0 2632.6L1783.6 2636.3L1784.3 2633.6L1785.0 2636.0L1785.7 2633.2L1786.3 2634.5L1787.0 2631.3L1787.7 2634.1L1788.4 2632.8L1789.0 2632.7L1789.7 2630.7L1790.4 2635.8L1791.1 2629.8L1791.7 2636.6L1792.4 2634.8L1793.1 2632.4L1793.7 2632.6L1794.4 2634.4L1795.1 2634.8L1795.8 2630.0L1796.4 2634.0L1797.1 2636.7L1797.8 2634.2L1798.5 2634.4L1799.1 2636.9L1799.8 2639.6L1800.5 2637.7L1801.2 2634.6L1801.8 2634.0L1802.5 2635.0L1803.2 2635.3L1803.8 2634.2L1804.5 2636.3L1805.2 2635.0L1805.9 2633.1L1806.5 2631.0L1807.2 2628.7L1807.9 2633.2L1808.6 2632.5L1809.2 2629.3L1809.9 2632.1L1810.6 2629.3L1811.3 2631.4L1811.9 2631.1L1812.6 2635.4L1813.3 2637.6L1813.9 2636.6L1814.6 2637.2L1815.3 2636.2L1816.0 2636.5L1816.6 2636.3L1817.3 2636.7L1818.0 2636.8L1818.7 2639.0L1819.3 2636.2L1820.0 2635.0L1820.7 2636.1L1821.3 2635.0L1822.0 2638.8L1822.7 2631.7L1823.4 2635.3L1824.0 2632.5L1824.7 2638.7L1825.4 2635.1L1826.1 2634.0L1826.7 2636.3L1827.4 2635.2L1828.1 2632.5L1828.8 2638.1L1829.4 2634.7L1830.1 2634.5L1830.8 2632.3L1831.4 2636.0L1832.1 2634.9L1832.8 2632.2L1833.5 2634.1L1834.1 2633.4L1834.8 2630.3L1835.5 2634.2L1836.2 2634.8L1836.8 2632.0L1837.5 2633.5L1838.2 2635.5L1838.9 2635.5L1839.5 2634.2L1840.2 2635.3L1840.9 2636.3L1841.5 2634.7L1842.2 2636.4L1842.9 2638.0L1843.6 2636.7L1844.2 2635.2L1844.9 2636.4L1845.6 2635.3L1846.3 2637.0L1846.9 2633.9L1847.6 2634.3L1848.3 2634.9L1848.9 2632.1L1849.6 2634.1L1850.3 2631.6L1851.0 2633.7L1851.6 2638.8L1852.3 2634.9L1853.0 2635.7L1853.7 2629.2L1854.3 2630.1L1855.0 2632.6L1855.7 2634.2L1856.4 2635.3L1857.0 2637.4L1857.7 2634.6L1858.4 2636.4L1859.0 2633.3L1859.7 2633.9L1860.4 2633.8L1861.1 2631.2L1861.7 2630.4L1862.4 2634.5L1863.1 2635.4L1863.8 2633.5L1864.4 2638.9L1865.1 2631.6L1865.8 2636.2L1866.5 2631.5L1867.1 2633.3L1867.8 2632.0L1868.5 2632.1L1869.1 2634.8L1869.8 2634.4L1870.5 2637.0L1871.2 2629.0L1871.8 2632.4L1872.5 2635.9L1873.2 2634.2L1873.9 2633.6L1874.5 2633.7L1875.2 2635.8L1875.9 2633.4L1876.6 2632.1L1877.2 2632.3L1877.9 2635.4L1878.6 2635.4L1879.2 2636.9L1879.9 2636.5L1880.6 2632.3L1881.3 2633.3L1881.9 2636.3L1882.6 2634.0L1883.3 2630.4L1884.0 2634.6L1884.6 2634.7L1885.3 2634.6L1886.0 2634.2L1886.6 2635.6L1887.3 2636.3L1888.0 2637.7L1888.7 2638.2L1889.3 2636.8L1890.0 2635.1L1890.7 2635.3L1891.4 2634.2L1892.0 2635.2L1892.7 2639.1L1893.4 2634.1L1894.1 2635.6L1894.7 2635.0L1895.4 2635.6" fill="none" stroke="#000000" stroke-width="10.3" stroke-linejoin="round" stroke-linecap="butt" shape-rendering="crispEdges"/>
</g>
<text class="sb" transform="translate(212.4,2746) scale(1,1.040)" font-size="69" text-anchor="middle">20</text>
<text class="sb" transform="translate(380.7,2746) scale(1,1.040)" font-size="69" text-anchor="middle">25</text>
<text class="sb" transform="translate(549.0,2746) scale(1,1.040)" font-size="69" text-anchor="middle">30</text>
<text class="sb" transform="translate(717.3,2746) scale(1,1.040)" font-size="69" text-anchor="middle">35</text>
<text class="sb" transform="translate(885.6,2746) scale(1,1.040)" font-size="69" text-anchor="middle">40</text>
<text class="sb" transform="translate(1053.9,2746) scale(1,1.040)" font-size="69" text-anchor="middle">45</text>
<text class="sb" transform="translate(1222.2,2746) scale(1,1.040)" font-size="69" text-anchor="middle">50</text>
<text class="sb" transform="translate(1390.5,2746) scale(1,1.040)" font-size="69" text-anchor="middle">55</text>
<text class="sb" transform="translate(1558.8,2746) scale(1,1.040)" font-size="69" text-anchor="middle">60</text>
<text class="sb" transform="translate(1727.1,2746) scale(1,1.040)" font-size="69" text-anchor="middle">65</text>
<text class="sb" transform="translate(1895.4,2746) scale(1,1.040)" font-size="69" text-anchor="middle">70</text>
<text class="sb" transform="translate(106,1775.5) rotate(-90) scale(1,1.025)" font-size="110.5" x="-7.4">Intensity (a. u.)</text>
<text font-size="110"><tspan class="sb" x="908.6" y="2916.7" font-size="114.06" textLength="58.94" lengthAdjust="spacingAndGlyphs">2</tspan><tspan class="sr" x="965.2" y="2917.9" font-size="113.96" textLength="62.02" lengthAdjust="spacingAndGlyphs">θ</tspan><tspan class="sr" x="1027.2" y="2917.6" font-size="110"> </tspan><tspan class="sr" x="1053.2" y="2917.6" font-size="117.7" textLength="43.96" lengthAdjust="spacingAndGlyphs">(</tspan><tspan class="sb" x="1091.2" y="2913.0" font-size="108.6">°</tspan><tspan class="sr" x="1131.8" y="2917.6" font-size="117.7" textLength="43.96" lengthAdjust="spacingAndGlyphs">)</tspan></text>
<text class="sb" transform="translate(572.4,2488.0) rotate(-90)" font-size="54.8" x="-2.7">(220)</text>
<text class="sb" transform="translate(753.8,2261.2) rotate(-90)" font-size="54.8" x="-2.7">(3<tspan class="n1" font-size="52" dx="0.8">1</tspan><tspan class="n1" font-size="52" dx="-1.1">1</tspan><tspan dx="-1.9">)</tspan></text>
<text class="sb" transform="translate(841.2,2562.6) rotate(-90)" font-size="54.8" x="-2.7">(222)</text>
<text class="sb" transform="translate(1018.4,2555.0) rotate(-90)" font-size="54.8" x="-2.7">(400)</text>
<text class="sb" transform="translate(1361.7,2567.0) rotate(-90)" font-size="54.8" x="-2.7">(422)</text>
<text class="sb" transform="translate(1486.0,2509.0) rotate(-90)" font-size="54.8" x="-2.7">(5<tspan class="n1" font-size="52" dx="0.8">1</tspan><tspan class="n1" font-size="52" dx="-1.1">1</tspan><tspan dx="-1.9">)</tspan></text>
<text class="sb" transform="translate(1670.3,2477.0) rotate(-90)" font-size="54.8" x="-2.7">(440)</text>
<text class="nb" stroke="#fff" stroke-width="1.53" transform="translate(284.4,412.4) scale(1.048,1.039)" font-size="100">∇</text>
<text class="nb" stroke="#fff" stroke-width="1.53" transform="translate(1166.3,423.9) scale(1.055,1.050)" font-size="100">∇</text>
<text class="nb" stroke="#fff" stroke-width="1.53" transform="translate(289.1,765.2) scale(1.043,1.058)" font-size="100">∇</text>
<text class="nb" stroke="#fff" stroke-width="1.53" transform="translate(1166.3,779.8) scale(1.055,1.048)" font-size="100">∇</text>
<text class="nb" stroke="#fff" stroke-width="1.53" transform="translate(296.0,1227.2) scale(1.042,1.054)" font-size="100">∇</text>
<text class="nb" stroke="#fff" stroke-width="1.53" transform="translate(1174.7,1246.2) scale(1.050,1.054)" font-size="100">∇</text>
<text class="nb" stroke="#fff" stroke-width="1.53" transform="translate(260.3,157.0) scale(0.666,0.675)" font-size="100">∇</text>
<text class="sb" transform="translate(342.5,167.6) scale(1,1.040)" font-size="62">CCdO<tspan dy="23.5">3</tspan></text>
<g shape-rendering="crispEdges"><rect x="1428" y="72" width="456" height="123" fill="#fff" stroke="#000" stroke-width="2"/>
<rect x="1439" y="131" width="193" height="9" fill="#808000"/></g>
<text class="sb" transform="translate(1655.8,164.8) scale(1,1.040)" font-size="85.4">x=0.5</text>
<g shape-rendering="crispEdges"><rect x="1417" y="493" width="456" height="123" fill="#fff" stroke="#000" stroke-width="2"/>
<rect x="1428" y="551" width="193" height="9" fill="#ff00ff"/></g>
<text class="sb" transform="translate(1644.8,585.8) scale(1,1.040)" font-size="85.4">x=0.4</text>
<g shape-rendering="crispEdges"><rect x="1424" y="877" width="456" height="123" fill="#fff" stroke="#000" stroke-width="2"/>
<rect x="1435" y="935" width="193" height="9" fill="#0000ff"/></g>
<text class="sb" transform="translate(1651.8,969.8) scale(1,1.040)" font-size="85.4">x=0.3</text>
<g shape-rendering="crispEdges"><rect x="1424" y="1324" width="456" height="123" fill="#fff" stroke="#000" stroke-width="2"/>
<rect x="1435" y="1383" width="193" height="9" fill="#00ff00"/></g>
<text class="sb" transform="translate(1651.8,1416.8) scale(1,1.040)" font-size="85.4">x=0.2</text>
<g shape-rendering="crispEdges"><rect x="1432" y="1768" width="456" height="123" fill="#fff" stroke="#000" stroke-width="2"/>
<rect x="1443" y="1826" width="193" height="9" fill="#ff0000"/></g>
<text class="sb" transform="translate(1659.8,1860.8) scale(1,1.040)" font-size="85.4">x=0.<tspan class="n1" font-size="79.4" dx="1.3">1</tspan></text>
<g shape-rendering="crispEdges"><rect x="1436" y="2178" width="456" height="123" fill="#fff" stroke="#000" stroke-width="2"/>
<rect x="1447" y="2236" width="193" height="9" fill="#000000"/></g>
<text class="sb" transform="translate(1663.8,2270.8) scale(1,1.040)" font-size="85.4">x=0.0</text>
</svg></body></html>
